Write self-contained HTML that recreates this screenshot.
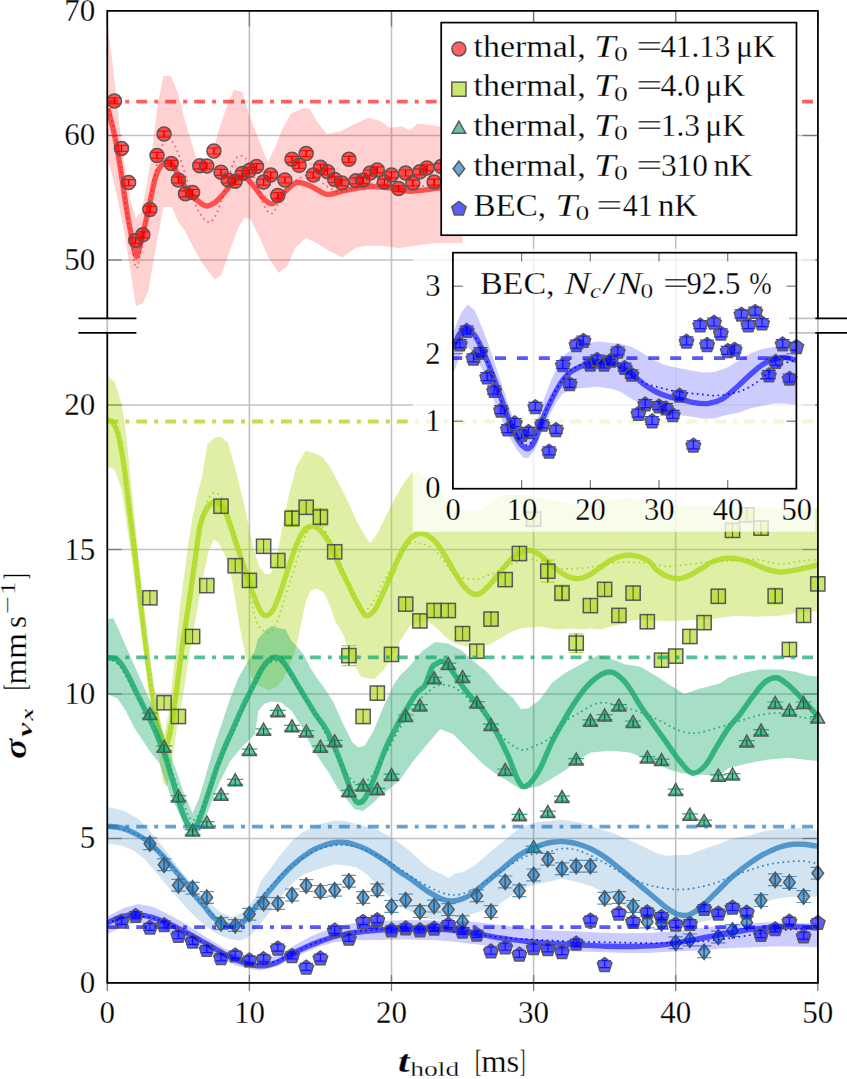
<!DOCTYPE html>
<html><head><meta charset="utf-8"><title>plot</title><style>html,body{margin:0;padding:0;background:#fff;}body{width:847px;height:1079px;position:relative;overflow:hidden;font-family:"Liberation Serif",serif;}</style></head><body>
<svg width="847" height="1079" viewBox="0 0 847 1079" style="position:absolute;left:0;top:0">
<defs><clipPath id="cu"><rect x="107.3" y="10.9" width="710.6" height="307.40000000000003"/></clipPath><clipPath id="cl"><rect x="107.3" y="332.9" width="710.6" height="650.0"/></clipPath><clipPath id="ci"><rect x="452.9" y="252.7" width="343.5" height="236"/></clipPath></defs>
<rect width="847" height="1079" fill="#fff"/>
<line x1="107.3" y1="10.9" x2="107.3" y2="982.9" stroke="#c2c2c2" stroke-width="1.6"/>
<line x1="249.4" y1="10.9" x2="249.4" y2="982.9" stroke="#c2c2c2" stroke-width="1.6"/>
<line x1="391.5" y1="10.9" x2="391.5" y2="982.9" stroke="#c2c2c2" stroke-width="1.6"/>
<line x1="533.6" y1="10.9" x2="533.6" y2="982.9" stroke="#c2c2c2" stroke-width="1.6"/>
<line x1="675.7" y1="10.9" x2="675.7" y2="982.9" stroke="#c2c2c2" stroke-width="1.6"/>
<line x1="817.8" y1="10.9" x2="817.8" y2="982.9" stroke="#c2c2c2" stroke-width="1.6"/>
<line x1="107.3" y1="135.5" x2="817.9" y2="135.5" stroke="#c2c2c2" stroke-width="1.6"/>
<line x1="107.3" y1="260" x2="817.9" y2="260" stroke="#c2c2c2" stroke-width="1.6"/>
<line x1="107.3" y1="983" x2="817.9" y2="983" stroke="#c2c2c2" stroke-width="1.6"/>
<line x1="107.3" y1="838.5" x2="817.9" y2="838.5" stroke="#c2c2c2" stroke-width="1.6"/>
<line x1="107.3" y1="694" x2="817.9" y2="694" stroke="#c2c2c2" stroke-width="1.6"/>
<line x1="107.3" y1="549.5" x2="817.9" y2="549.5" stroke="#c2c2c2" stroke-width="1.6"/>
<line x1="107.3" y1="405" x2="817.9" y2="405" stroke="#c2c2c2" stroke-width="1.6"/>
<line x1="107.3" y1="10.9" x2="107.3" y2="26.4" stroke="#7a7a7a" stroke-width="1.3"/>
<line x1="107.3" y1="974.9" x2="107.3" y2="990.9" stroke="#7a7a7a" stroke-width="1.3"/>
<line x1="249.4" y1="10.9" x2="249.4" y2="26.4" stroke="#7a7a7a" stroke-width="1.3"/>
<line x1="249.4" y1="974.9" x2="249.4" y2="990.9" stroke="#7a7a7a" stroke-width="1.3"/>
<line x1="391.5" y1="10.9" x2="391.5" y2="26.4" stroke="#7a7a7a" stroke-width="1.3"/>
<line x1="391.5" y1="974.9" x2="391.5" y2="990.9" stroke="#7a7a7a" stroke-width="1.3"/>
<line x1="533.6" y1="10.9" x2="533.6" y2="26.4" stroke="#7a7a7a" stroke-width="1.3"/>
<line x1="533.6" y1="974.9" x2="533.6" y2="990.9" stroke="#7a7a7a" stroke-width="1.3"/>
<line x1="675.7" y1="10.9" x2="675.7" y2="26.4" stroke="#7a7a7a" stroke-width="1.3"/>
<line x1="675.7" y1="974.9" x2="675.7" y2="990.9" stroke="#7a7a7a" stroke-width="1.3"/>
<line x1="817.8" y1="10.9" x2="817.8" y2="26.4" stroke="#7a7a7a" stroke-width="1.3"/>
<line x1="817.8" y1="974.9" x2="817.8" y2="990.9" stroke="#7a7a7a" stroke-width="1.3"/>
<line x1="107.3" y1="135.5" x2="121.8" y2="135.5" stroke="#7a7a7a" stroke-width="1.3"/>
<line x1="802.4" y1="135.5" x2="817.9" y2="135.5" stroke="#7a7a7a" stroke-width="1.3"/>
<line x1="107.3" y1="260" x2="121.8" y2="260" stroke="#7a7a7a" stroke-width="1.3"/>
<line x1="802.4" y1="260" x2="817.9" y2="260" stroke="#7a7a7a" stroke-width="1.3"/>
<line x1="107.3" y1="838.5" x2="121.8" y2="838.5" stroke="#7a7a7a" stroke-width="1.3"/>
<line x1="802.4" y1="838.5" x2="817.9" y2="838.5" stroke="#7a7a7a" stroke-width="1.3"/>
<line x1="107.3" y1="694" x2="121.8" y2="694" stroke="#7a7a7a" stroke-width="1.3"/>
<line x1="802.4" y1="694" x2="817.9" y2="694" stroke="#7a7a7a" stroke-width="1.3"/>
<line x1="107.3" y1="549.5" x2="121.8" y2="549.5" stroke="#7a7a7a" stroke-width="1.3"/>
<line x1="802.4" y1="549.5" x2="817.9" y2="549.5" stroke="#7a7a7a" stroke-width="1.3"/>
<line x1="107.3" y1="405" x2="121.8" y2="405" stroke="#7a7a7a" stroke-width="1.3"/>
<line x1="802.4" y1="405" x2="817.9" y2="405" stroke="#7a7a7a" stroke-width="1.3"/>
<g clip-path="url(#cu)">
<polygon points="107.8,28 112.3,61.7 116.5,97.8 120.7,136.7 126.2,175.6 131,203 136,218 141,212 146.4,187.8 152.8,145.2 158.1,102.6 163.4,76 170.9,76 178.3,94.1 184.7,119.7 191.1,141 197.5,162.3 203.9,176.1 210.3,162.3 218.8,130.3 225.2,111.1 233.7,89.8 242.3,92 248.6,113.3 259.3,141 267.8,162.3 274.2,149.5 282.7,128.2 291.3,113.3 304,107.9 310,109 316,120 326.7,134.1 339.7,131.5 355.2,123.8 368.2,118.1 381.2,121.2 389,127.7 401.9,126.4 409.7,130.2 417.5,123.8 430.5,125.1 439.5,126.4 462.5,126 462.5,243.1 435.6,243.1 414.9,245.7 399.3,248.3 383.8,245.7 365.6,245.7 355.2,248.3 342.3,257.4 329.3,250.9 316.3,243.1 305.9,237.9 295.5,247.5 287,266.6 278.5,273 267.8,256 259.3,236.8 250.8,219.8 244.4,217.6 238,228.3 229.5,251.7 221,275.2 214.6,279.4 201.8,262.4 193.3,247.5 184.7,230.4 178.3,221.9 172,207 163.4,207 157,241.1 148.5,289.9 142.9,303.3 135.9,306 130.4,270 123.4,228.3 115.1,186.7 107.8,159" fill="#ff0000" fill-opacity="0.18"/>
<line x1="107.3" y1="101.6" x2="817.9" y2="101.6" stroke="#ff0000" stroke-opacity="0.62" stroke-width="3.9" stroke-dasharray="10.9,7.04,3.97,7.04" stroke-dashoffset="0"/>
<path d="M107.8,108.2 C108.5,111.1 110.8,119.5 112.3,125.6 C113.8,131.7 115.1,137.6 116.5,145 C117.9,152.4 119.3,161.2 120.7,170 C122.1,178.8 123.2,187.6 124.8,197.8 C126.4,208 128.6,221.4 130.4,231.1 C132.2,240.8 134.3,253.7 135.9,256.1 C137.5,258.5 137.9,253.1 140,245.3 C142.1,237.5 146,220.1 148.5,209.1 C151,198.1 153.1,186.1 154.9,179.3 C156.7,172.6 157.4,171.4 159.2,168.6 C161,165.8 163.5,163 165.6,162.3 C167.7,161.6 169.5,161.6 172,164.4 C174.5,167.2 177.7,174.7 180.5,179.3 C183.3,183.9 186.2,188.6 189,192.1 C191.8,195.6 194.7,198.3 197.5,200.6 C200.3,202.9 203.2,205.6 206,205.9 C208.8,206.2 211.8,204.6 214.6,202.7 C217.4,200.8 220.3,197.4 223.1,194.2 C225.9,191 228.8,186.4 231.6,183.6 C234.4,180.8 237.6,178.1 240.1,177.2 C242.6,176.3 244,176.4 246.5,178.2 C249,180 252.2,184.4 255,187.8 C257.9,191.2 260.8,195.8 263.6,198.5 C266.5,201.2 269.3,204.2 272.1,203.8 C274.9,203.4 277.8,199 280.6,196.3 C283.4,193.6 286.3,190.1 289.1,187.8 C291.9,185.5 294.1,182.8 297.6,182.5 C301.1,182.2 305.1,183.7 310,185.7 C314.9,187.7 321.3,193.4 326.7,194.3 C332.1,195.2 337.1,192.2 342.3,191.2 C347.5,190.2 352.6,188.9 357.8,188.1 C363,187.3 367.8,186.5 373.4,186.5 C379,186.5 385.4,187.3 391.5,188.1 C397.6,188.9 404.1,190.9 409.7,191.2 C415.3,191.5 420.3,190.4 425.3,189.9 C430.3,189.4 433.3,188.4 439.5,188.1 C445.7,187.8 458.7,188 462.5,188" fill="none" stroke="#ff0000" stroke-opacity="0.62" stroke-width="5.4" stroke-linejoin="round"/>
<path d="M107.8,105 C109.2,110.8 113.1,124.2 116,140 C118.9,155.8 122.5,183.3 125,200 C127.5,216.7 129.1,228.7 131,240 C132.9,251.3 134.6,266.3 136.3,268 C138,269.7 138.7,261.3 141,250 C143.3,238.7 147.2,215 150,200 C152.8,185 155.5,170 158,160 C160.5,150 162.7,143.2 165,140 C167.3,136.8 169.8,138.7 172,141 C174.2,143.3 175.8,147.2 178.3,153.7 C180.8,160.2 184.2,171.5 187,180 C189.8,188.5 192.6,198.5 195.4,204.9 C198.2,211.3 201.4,215.9 203.9,218.7 C206.4,221.5 208.2,222.8 210.3,221.9 C212.4,221 214.2,218.7 216.7,213.4 C219.1,208.1 222.2,198.5 225,190 C227.8,181.5 231.2,168 233.7,162.3 C236.2,156.6 237.9,156.3 240.1,155.9 C242.3,155.5 244.5,156 247,160 C249.5,164 252.2,172.5 255,180 C257.8,187.5 260.8,199.3 263.6,204.9 C266.5,210.5 269.4,214.2 272.1,213.4 C274.8,212.6 277,204.7 280,200 C283,195.3 286.4,188.8 290,185 C293.6,181.2 298.2,178.9 301.9,177.2 C305.6,175.5 308.1,173.7 312,175 C315.9,176.3 320.3,182.2 325,185 C329.7,187.8 334.2,191.8 340,192 C345.8,192.2 353.3,187.5 360,186 C366.7,184.5 373.3,182.8 380,183 C386.7,183.2 393.3,186.5 400,187 C406.7,187.5 413.3,186.3 420,186 C426.7,185.7 432.9,185.2 440,185 C447.1,184.8 458.8,185 462.5,185" fill="none" stroke="#ff0000" stroke-opacity="0.55" stroke-width="1.7" stroke-dasharray="1.7,3.5"/>
</g>
<path d="M114.4,97.9 V103.9 M107.5,97.9 H121.3 M107.5,103.9 H121.3" stroke="#f00" stroke-opacity="0.9" stroke-width="1.2" fill="none"/>
<circle cx="114.4" cy="100.9" r="7.0" fill="#ff0000" fill-opacity="0.62" stroke="#585858" stroke-width="1.5"/>
<line x1="114.4" y1="97.9" x2="114.4" y2="103.9" stroke="#b00000" stroke-opacity="0.7" stroke-width="1.1"/>
<path d="M121.5,145.4 V151.4 M114.6,145.4 H128.4 M114.6,151.4 H128.4" stroke="#f00" stroke-opacity="0.9" stroke-width="1.2" fill="none"/>
<circle cx="121.5" cy="148.4" r="7.0" fill="#ff0000" fill-opacity="0.62" stroke="#585858" stroke-width="1.5"/>
<line x1="121.5" y1="145.4" x2="121.5" y2="151.4" stroke="#b00000" stroke-opacity="0.7" stroke-width="1.1"/>
<path d="M128.6,179.6 V185.6 M121.7,179.6 H135.5 M121.7,185.6 H135.5" stroke="#f00" stroke-opacity="0.9" stroke-width="1.2" fill="none"/>
<circle cx="128.6" cy="182.6" r="7.0" fill="#ff0000" fill-opacity="0.62" stroke="#585858" stroke-width="1.5"/>
<line x1="128.6" y1="179.6" x2="128.6" y2="185.6" stroke="#b00000" stroke-opacity="0.7" stroke-width="1.1"/>
<path d="M135.7,237.5 V243.5 M128.8,237.5 H142.6 M128.8,243.5 H142.6" stroke="#f00" stroke-opacity="0.9" stroke-width="1.2" fill="none"/>
<circle cx="135.7" cy="240.5" r="7.0" fill="#ff0000" fill-opacity="0.62" stroke="#585858" stroke-width="1.5"/>
<line x1="135.7" y1="237.5" x2="135.7" y2="243.5" stroke="#b00000" stroke-opacity="0.7" stroke-width="1.1"/>
<path d="M142.8,231.8 V237.8 M135.9,231.8 H149.7 M135.9,237.8 H149.7" stroke="#f00" stroke-opacity="0.9" stroke-width="1.2" fill="none"/>
<circle cx="142.8" cy="234.8" r="7.0" fill="#ff0000" fill-opacity="0.62" stroke="#585858" stroke-width="1.5"/>
<line x1="142.8" y1="231.8" x2="142.8" y2="237.8" stroke="#b00000" stroke-opacity="0.7" stroke-width="1.1"/>
<path d="M149.9,206.4 V212.4 M143,206.4 H156.8 M143,212.4 H156.8" stroke="#f00" stroke-opacity="0.9" stroke-width="1.2" fill="none"/>
<circle cx="149.9" cy="209.4" r="7.0" fill="#ff0000" fill-opacity="0.62" stroke="#585858" stroke-width="1.5"/>
<line x1="149.9" y1="206.4" x2="149.9" y2="212.4" stroke="#b00000" stroke-opacity="0.7" stroke-width="1.1"/>
<path d="M157,152.4 V158.4 M150.1,152.4 H163.9 M150.1,158.4 H163.9" stroke="#f00" stroke-opacity="0.9" stroke-width="1.2" fill="none"/>
<circle cx="157" cy="155.4" r="7.0" fill="#ff0000" fill-opacity="0.62" stroke="#585858" stroke-width="1.5"/>
<line x1="157" y1="152.4" x2="157" y2="158.4" stroke="#b00000" stroke-opacity="0.7" stroke-width="1.1"/>
<path d="M164.1,131.1 V137.1 M157.2,131.1 H171 M157.2,137.1 H171" stroke="#f00" stroke-opacity="0.9" stroke-width="1.2" fill="none"/>
<circle cx="164.1" cy="134.1" r="7.0" fill="#ff0000" fill-opacity="0.62" stroke="#585858" stroke-width="1.5"/>
<line x1="164.1" y1="131.1" x2="164.1" y2="137.1" stroke="#b00000" stroke-opacity="0.7" stroke-width="1.1"/>
<path d="M171.2,160.4 V166.4 M164.3,160.4 H178.1 M164.3,166.4 H178.1" stroke="#f00" stroke-opacity="0.9" stroke-width="1.2" fill="none"/>
<circle cx="171.2" cy="163.4" r="7.0" fill="#ff0000" fill-opacity="0.62" stroke="#585858" stroke-width="1.5"/>
<line x1="171.2" y1="160.4" x2="171.2" y2="166.4" stroke="#b00000" stroke-opacity="0.7" stroke-width="1.1"/>
<path d="M178.4,177.1 V183.1 M171.5,177.1 H185.3 M171.5,183.1 H185.3" stroke="#f00" stroke-opacity="0.9" stroke-width="1.2" fill="none"/>
<circle cx="178.4" cy="180.1" r="7.0" fill="#ff0000" fill-opacity="0.62" stroke="#585858" stroke-width="1.5"/>
<line x1="178.4" y1="177.1" x2="178.4" y2="183.1" stroke="#b00000" stroke-opacity="0.7" stroke-width="1.1"/>
<path d="M185.5,190.8 V196.8 M178.6,190.8 H192.4 M178.6,196.8 H192.4" stroke="#f00" stroke-opacity="0.9" stroke-width="1.2" fill="none"/>
<circle cx="185.5" cy="193.8" r="7.0" fill="#ff0000" fill-opacity="0.62" stroke="#585858" stroke-width="1.5"/>
<line x1="185.5" y1="190.8" x2="185.5" y2="196.8" stroke="#b00000" stroke-opacity="0.7" stroke-width="1.1"/>
<path d="M192.6,189.5 V195.5 M185.7,189.5 H199.5 M185.7,195.5 H199.5" stroke="#f00" stroke-opacity="0.9" stroke-width="1.2" fill="none"/>
<circle cx="192.6" cy="192.5" r="7.0" fill="#ff0000" fill-opacity="0.62" stroke="#585858" stroke-width="1.5"/>
<line x1="192.6" y1="189.5" x2="192.6" y2="195.5" stroke="#b00000" stroke-opacity="0.7" stroke-width="1.1"/>
<path d="M199.7,162.8 V168.8 M192.8,162.8 H206.6 M192.8,168.8 H206.6" stroke="#f00" stroke-opacity="0.9" stroke-width="1.2" fill="none"/>
<circle cx="199.7" cy="165.8" r="7.0" fill="#ff0000" fill-opacity="0.62" stroke="#585858" stroke-width="1.5"/>
<line x1="199.7" y1="162.8" x2="199.7" y2="168.8" stroke="#b00000" stroke-opacity="0.7" stroke-width="1.1"/>
<path d="M206.8,163 V169 M199.9,163 H213.7 M199.9,169 H213.7" stroke="#f00" stroke-opacity="0.9" stroke-width="1.2" fill="none"/>
<circle cx="206.8" cy="166" r="7.0" fill="#ff0000" fill-opacity="0.62" stroke="#585858" stroke-width="1.5"/>
<line x1="206.8" y1="163" x2="206.8" y2="169" stroke="#b00000" stroke-opacity="0.7" stroke-width="1.1"/>
<path d="M213.9,148 V154 M207,148 H220.8 M207,154 H220.8" stroke="#f00" stroke-opacity="0.9" stroke-width="1.2" fill="none"/>
<circle cx="213.9" cy="151" r="7.0" fill="#ff0000" fill-opacity="0.62" stroke="#585858" stroke-width="1.5"/>
<line x1="213.9" y1="148" x2="213.9" y2="154" stroke="#b00000" stroke-opacity="0.7" stroke-width="1.1"/>
<path d="M221,169.3 V175.3 M214.1,169.3 H227.9 M214.1,175.3 H227.9" stroke="#f00" stroke-opacity="0.9" stroke-width="1.2" fill="none"/>
<circle cx="221" cy="172.3" r="7.0" fill="#ff0000" fill-opacity="0.62" stroke="#585858" stroke-width="1.5"/>
<line x1="221" y1="169.3" x2="221" y2="175.3" stroke="#b00000" stroke-opacity="0.7" stroke-width="1.1"/>
<path d="M228.1,177 V183 M221.2,177 H235 M221.2,183 H235" stroke="#f00" stroke-opacity="0.9" stroke-width="1.2" fill="none"/>
<circle cx="228.1" cy="180" r="7.0" fill="#ff0000" fill-opacity="0.62" stroke="#585858" stroke-width="1.5"/>
<line x1="228.1" y1="177" x2="228.1" y2="183" stroke="#b00000" stroke-opacity="0.7" stroke-width="1.1"/>
<path d="M235.2,178.3 V184.3 M228.3,178.3 H242.1 M228.3,184.3 H242.1" stroke="#f00" stroke-opacity="0.9" stroke-width="1.2" fill="none"/>
<circle cx="235.2" cy="181.3" r="7.0" fill="#ff0000" fill-opacity="0.62" stroke="#585858" stroke-width="1.5"/>
<line x1="235.2" y1="178.3" x2="235.2" y2="184.3" stroke="#b00000" stroke-opacity="0.7" stroke-width="1.1"/>
<path d="M242.3,170.6 V176.6 M235.4,170.6 H249.2 M235.4,176.6 H249.2" stroke="#f00" stroke-opacity="0.9" stroke-width="1.2" fill="none"/>
<circle cx="242.3" cy="173.6" r="7.0" fill="#ff0000" fill-opacity="0.62" stroke="#585858" stroke-width="1.5"/>
<line x1="242.3" y1="170.6" x2="242.3" y2="176.6" stroke="#b00000" stroke-opacity="0.7" stroke-width="1.1"/>
<path d="M249.4,167.5 V173.5 M242.5,167.5 H256.3 M242.5,173.5 H256.3" stroke="#f00" stroke-opacity="0.9" stroke-width="1.2" fill="none"/>
<circle cx="249.4" cy="170.5" r="7.0" fill="#ff0000" fill-opacity="0.62" stroke="#585858" stroke-width="1.5"/>
<line x1="249.4" y1="167.5" x2="249.4" y2="173.5" stroke="#b00000" stroke-opacity="0.7" stroke-width="1.1"/>
<path d="M256.5,163.6 V169.6 M249.6,163.6 H263.4 M249.6,169.6 H263.4" stroke="#f00" stroke-opacity="0.9" stroke-width="1.2" fill="none"/>
<circle cx="256.5" cy="166.6" r="7.0" fill="#ff0000" fill-opacity="0.62" stroke="#585858" stroke-width="1.5"/>
<line x1="256.5" y1="163.6" x2="256.5" y2="169.6" stroke="#b00000" stroke-opacity="0.7" stroke-width="1.1"/>
<path d="M263.6,179.1 V185.1 M256.7,179.1 H270.5 M256.7,185.1 H270.5" stroke="#f00" stroke-opacity="0.9" stroke-width="1.2" fill="none"/>
<circle cx="263.6" cy="182.1" r="7.0" fill="#ff0000" fill-opacity="0.62" stroke="#585858" stroke-width="1.5"/>
<line x1="263.6" y1="179.1" x2="263.6" y2="185.1" stroke="#b00000" stroke-opacity="0.7" stroke-width="1.1"/>
<path d="M270.7,172.1 V178.1 M263.8,172.1 H277.6 M263.8,178.1 H277.6" stroke="#f00" stroke-opacity="0.9" stroke-width="1.2" fill="none"/>
<circle cx="270.7" cy="175.1" r="7.0" fill="#ff0000" fill-opacity="0.62" stroke="#585858" stroke-width="1.5"/>
<line x1="270.7" y1="172.1" x2="270.7" y2="178.1" stroke="#b00000" stroke-opacity="0.7" stroke-width="1.1"/>
<path d="M277.8,192.6 V198.6 M270.9,192.6 H284.7 M270.9,198.6 H284.7" stroke="#f00" stroke-opacity="0.9" stroke-width="1.2" fill="none"/>
<circle cx="277.8" cy="195.6" r="7.0" fill="#ff0000" fill-opacity="0.62" stroke="#585858" stroke-width="1.5"/>
<line x1="277.8" y1="192.6" x2="277.8" y2="198.6" stroke="#b00000" stroke-opacity="0.7" stroke-width="1.1"/>
<path d="M284.9,177 V183 M278,177 H291.8 M278,183 H291.8" stroke="#f00" stroke-opacity="0.9" stroke-width="1.2" fill="none"/>
<circle cx="284.9" cy="180" r="7.0" fill="#ff0000" fill-opacity="0.62" stroke="#585858" stroke-width="1.5"/>
<line x1="284.9" y1="177" x2="284.9" y2="183" stroke="#b00000" stroke-opacity="0.7" stroke-width="1.1"/>
<path d="M292,156.3 V162.3 M285.1,156.3 H298.9 M285.1,162.3 H298.9" stroke="#f00" stroke-opacity="0.9" stroke-width="1.2" fill="none"/>
<circle cx="292" cy="159.3" r="7.0" fill="#ff0000" fill-opacity="0.62" stroke="#585858" stroke-width="1.5"/>
<line x1="292" y1="156.3" x2="292" y2="162.3" stroke="#b00000" stroke-opacity="0.7" stroke-width="1.1"/>
<path d="M299.1,162.3 V168.3 M292.2,162.3 H306 M292.2,168.3 H306" stroke="#f00" stroke-opacity="0.9" stroke-width="1.2" fill="none"/>
<circle cx="299.1" cy="165.3" r="7.0" fill="#ff0000" fill-opacity="0.62" stroke="#585858" stroke-width="1.5"/>
<line x1="299.1" y1="162.3" x2="299.1" y2="168.3" stroke="#b00000" stroke-opacity="0.7" stroke-width="1.1"/>
<path d="M306.2,150.6 V156.6 M299.3,150.6 H313.1 M299.3,156.6 H313.1" stroke="#f00" stroke-opacity="0.9" stroke-width="1.2" fill="none"/>
<circle cx="306.2" cy="153.6" r="7.0" fill="#ff0000" fill-opacity="0.62" stroke="#585858" stroke-width="1.5"/>
<line x1="306.2" y1="150.6" x2="306.2" y2="156.6" stroke="#b00000" stroke-opacity="0.7" stroke-width="1.1"/>
<path d="M313.3,172.1 V178.1 M306.4,172.1 H320.2 M306.4,178.1 H320.2" stroke="#f00" stroke-opacity="0.9" stroke-width="1.2" fill="none"/>
<circle cx="313.3" cy="175.1" r="7.0" fill="#ff0000" fill-opacity="0.62" stroke="#585858" stroke-width="1.5"/>
<line x1="313.3" y1="172.1" x2="313.3" y2="178.1" stroke="#b00000" stroke-opacity="0.7" stroke-width="1.1"/>
<path d="M320.4,164.3 V170.3 M313.6,164.3 H327.3 M313.6,170.3 H327.3" stroke="#f00" stroke-opacity="0.9" stroke-width="1.2" fill="none"/>
<circle cx="320.4" cy="167.3" r="7.0" fill="#ff0000" fill-opacity="0.62" stroke="#585858" stroke-width="1.5"/>
<line x1="320.4" y1="164.3" x2="320.4" y2="170.3" stroke="#b00000" stroke-opacity="0.7" stroke-width="1.1"/>
<path d="M327.6,168.8 V174.8 M320.7,168.8 H334.5 M320.7,174.8 H334.5" stroke="#f00" stroke-opacity="0.9" stroke-width="1.2" fill="none"/>
<circle cx="327.6" cy="171.8" r="7.0" fill="#ff0000" fill-opacity="0.62" stroke="#585858" stroke-width="1.5"/>
<line x1="327.6" y1="168.8" x2="327.6" y2="174.8" stroke="#b00000" stroke-opacity="0.7" stroke-width="1.1"/>
<path d="M334.7,176.5 V182.5 M327.8,176.5 H341.6 M327.8,182.5 H341.6" stroke="#f00" stroke-opacity="0.9" stroke-width="1.2" fill="none"/>
<circle cx="334.7" cy="179.5" r="7.0" fill="#ff0000" fill-opacity="0.62" stroke="#585858" stroke-width="1.5"/>
<line x1="334.7" y1="176.5" x2="334.7" y2="182.5" stroke="#b00000" stroke-opacity="0.7" stroke-width="1.1"/>
<path d="M341.8,179.9 V185.9 M334.9,179.9 H348.7 M334.9,185.9 H348.7" stroke="#f00" stroke-opacity="0.9" stroke-width="1.2" fill="none"/>
<circle cx="341.8" cy="182.9" r="7.0" fill="#ff0000" fill-opacity="0.62" stroke="#585858" stroke-width="1.5"/>
<line x1="341.8" y1="179.9" x2="341.8" y2="185.9" stroke="#b00000" stroke-opacity="0.7" stroke-width="1.1"/>
<path d="M348.9,156.3 V162.3 M342,156.3 H355.8 M342,162.3 H355.8" stroke="#f00" stroke-opacity="0.9" stroke-width="1.2" fill="none"/>
<circle cx="348.9" cy="159.3" r="7.0" fill="#ff0000" fill-opacity="0.62" stroke="#585858" stroke-width="1.5"/>
<line x1="348.9" y1="156.3" x2="348.9" y2="162.3" stroke="#b00000" stroke-opacity="0.7" stroke-width="1.1"/>
<path d="M356,177.8 V183.8 M349.1,177.8 H362.9 M349.1,183.8 H362.9" stroke="#f00" stroke-opacity="0.9" stroke-width="1.2" fill="none"/>
<circle cx="356" cy="180.8" r="7.0" fill="#ff0000" fill-opacity="0.62" stroke="#585858" stroke-width="1.5"/>
<line x1="356" y1="177.8" x2="356" y2="183.8" stroke="#b00000" stroke-opacity="0.7" stroke-width="1.1"/>
<path d="M363.1,177.3 V183.3 M356.2,177.3 H370 M356.2,183.3 H370" stroke="#f00" stroke-opacity="0.9" stroke-width="1.2" fill="none"/>
<circle cx="363.1" cy="180.3" r="7.0" fill="#ff0000" fill-opacity="0.62" stroke="#585858" stroke-width="1.5"/>
<line x1="363.1" y1="177.3" x2="363.1" y2="183.3" stroke="#b00000" stroke-opacity="0.7" stroke-width="1.1"/>
<path d="M370.2,170 V176 M363.3,170 H377.1 M363.3,176 H377.1" stroke="#f00" stroke-opacity="0.9" stroke-width="1.2" fill="none"/>
<circle cx="370.2" cy="173" r="7.0" fill="#ff0000" fill-opacity="0.62" stroke="#585858" stroke-width="1.5"/>
<line x1="370.2" y1="170" x2="370.2" y2="176" stroke="#b00000" stroke-opacity="0.7" stroke-width="1.1"/>
<path d="M377.3,166.9 V172.9 M370.4,166.9 H384.2 M370.4,172.9 H384.2" stroke="#f00" stroke-opacity="0.9" stroke-width="1.2" fill="none"/>
<circle cx="377.3" cy="169.9" r="7.0" fill="#ff0000" fill-opacity="0.62" stroke="#585858" stroke-width="1.5"/>
<line x1="377.3" y1="166.9" x2="377.3" y2="172.9" stroke="#b00000" stroke-opacity="0.7" stroke-width="1.1"/>
<path d="M384.4,179.1 V185.1 M377.5,179.1 H391.3 M377.5,185.1 H391.3" stroke="#f00" stroke-opacity="0.9" stroke-width="1.2" fill="none"/>
<circle cx="384.4" cy="182.1" r="7.0" fill="#ff0000" fill-opacity="0.62" stroke="#585858" stroke-width="1.5"/>
<line x1="384.4" y1="179.1" x2="384.4" y2="185.1" stroke="#b00000" stroke-opacity="0.7" stroke-width="1.1"/>
<path d="M391.5,171.9 V177.9 M384.6,171.9 H398.4 M384.6,177.9 H398.4" stroke="#f00" stroke-opacity="0.9" stroke-width="1.2" fill="none"/>
<circle cx="391.5" cy="174.9" r="7.0" fill="#ff0000" fill-opacity="0.62" stroke="#585858" stroke-width="1.5"/>
<line x1="391.5" y1="171.9" x2="391.5" y2="177.9" stroke="#b00000" stroke-opacity="0.7" stroke-width="1.1"/>
<path d="M398.6,185.6 V191.6 M391.7,185.6 H405.5 M391.7,191.6 H405.5" stroke="#f00" stroke-opacity="0.9" stroke-width="1.2" fill="none"/>
<circle cx="398.6" cy="188.6" r="7.0" fill="#ff0000" fill-opacity="0.62" stroke="#585858" stroke-width="1.5"/>
<line x1="398.6" y1="185.6" x2="398.6" y2="191.6" stroke="#b00000" stroke-opacity="0.7" stroke-width="1.1"/>
<path d="M405.7,170 V176 M398.8,170 H412.6 M398.8,176 H412.6" stroke="#f00" stroke-opacity="0.9" stroke-width="1.2" fill="none"/>
<circle cx="405.7" cy="173" r="7.0" fill="#ff0000" fill-opacity="0.62" stroke="#585858" stroke-width="1.5"/>
<line x1="405.7" y1="170" x2="405.7" y2="176" stroke="#b00000" stroke-opacity="0.7" stroke-width="1.1"/>
<path d="M412.8,179.9 V185.9 M405.9,179.9 H419.7 M405.9,185.9 H419.7" stroke="#f00" stroke-opacity="0.9" stroke-width="1.2" fill="none"/>
<circle cx="412.8" cy="182.9" r="7.0" fill="#ff0000" fill-opacity="0.62" stroke="#585858" stroke-width="1.5"/>
<line x1="412.8" y1="179.9" x2="412.8" y2="185.9" stroke="#b00000" stroke-opacity="0.7" stroke-width="1.1"/>
<path d="M419.9,168.8 V174.8 M413,168.8 H426.8 M413,174.8 H426.8" stroke="#f00" stroke-opacity="0.9" stroke-width="1.2" fill="none"/>
<circle cx="419.9" cy="171.8" r="7.0" fill="#ff0000" fill-opacity="0.62" stroke="#585858" stroke-width="1.5"/>
<line x1="419.9" y1="168.8" x2="419.9" y2="174.8" stroke="#b00000" stroke-opacity="0.7" stroke-width="1.1"/>
<path d="M427,164.9 V170.9 M420.1,164.9 H433.9 M420.1,170.9 H433.9" stroke="#f00" stroke-opacity="0.9" stroke-width="1.2" fill="none"/>
<circle cx="427" cy="167.9" r="7.0" fill="#ff0000" fill-opacity="0.62" stroke="#585858" stroke-width="1.5"/>
<line x1="427" y1="164.9" x2="427" y2="170.9" stroke="#b00000" stroke-opacity="0.7" stroke-width="1.1"/>
<path d="M434.1,179.1 V185.1 M427.2,179.1 H441 M427.2,185.1 H441" stroke="#f00" stroke-opacity="0.9" stroke-width="1.2" fill="none"/>
<circle cx="434.1" cy="182.1" r="7.0" fill="#ff0000" fill-opacity="0.62" stroke="#585858" stroke-width="1.5"/>
<line x1="434.1" y1="179.1" x2="434.1" y2="185.1" stroke="#b00000" stroke-opacity="0.7" stroke-width="1.1"/>
<path d="M441.2,163.6 V169.6 M434.3,163.6 H448.1 M434.3,169.6 H448.1" stroke="#f00" stroke-opacity="0.9" stroke-width="1.2" fill="none"/>
<circle cx="441.2" cy="166.6" r="7.0" fill="#ff0000" fill-opacity="0.62" stroke="#585858" stroke-width="1.5"/>
<line x1="441.2" y1="163.6" x2="441.2" y2="169.6" stroke="#b00000" stroke-opacity="0.7" stroke-width="1.1"/>
<path d="M448.3,172 V178 M441.4,172 H455.2 M441.4,178 H455.2" stroke="#f00" stroke-opacity="0.9" stroke-width="1.2" fill="none"/>
<circle cx="448.3" cy="175" r="7.0" fill="#ff0000" fill-opacity="0.62" stroke="#585858" stroke-width="1.5"/>
<line x1="448.3" y1="172" x2="448.3" y2="178" stroke="#b00000" stroke-opacity="0.7" stroke-width="1.1"/>
<path d="M455.4,175 V181 M448.5,175 H462.3 M448.5,181 H462.3" stroke="#f00" stroke-opacity="0.9" stroke-width="1.2" fill="none"/>
<circle cx="455.4" cy="178" r="7.0" fill="#ff0000" fill-opacity="0.62" stroke="#585858" stroke-width="1.5"/>
<line x1="455.4" y1="175" x2="455.4" y2="181" stroke="#b00000" stroke-opacity="0.7" stroke-width="1.1"/>
<path d="M462.6,169 V175 M455.7,169 H469.4 M455.7,175 H469.4" stroke="#f00" stroke-opacity="0.9" stroke-width="1.2" fill="none"/>
<circle cx="462.6" cy="172" r="7.0" fill="#ff0000" fill-opacity="0.62" stroke="#585858" stroke-width="1.5"/>
<line x1="462.6" y1="169" x2="462.6" y2="175" stroke="#b00000" stroke-opacity="0.7" stroke-width="1.1"/>
<g clip-path="url(#cl)">
<polygon points="107.8,376.7 114.2,381.3 117.9,391.5 121.6,404.4 124.4,421.1 127.1,443.3 129.9,471.1 132.7,498.9 135.5,526.7 138.3,559.8 143,610 149.4,672 155,710 160,728 164.5,734 168,716 171.5,688 175.5,650 181,598 188,546 193,515 197.4,494.8 202,477 207.4,444.1 214.8,437.6 220.4,436.7 227.8,442.3 235.2,468.2 242.6,497.9 248.2,523.8 253.8,549.8 259.3,566.5 264.9,573.9 270.5,573.9 276,560.9 281.6,531.3 289,494.2 296.4,466.4 305.7,450.6 315,453.4 322.4,457.1 329.8,466.4 338.9,483.4 347.8,501.2 356.7,521.2 365.6,536.8 370.1,543.5 376.7,534.6 385.6,516.8 394.5,499 403.4,483.4 412.3,472.3 419,472.3 427.9,478.9 436.8,487.8 445.7,499 454.6,507.9 463.5,511.2 472.4,510.1 480,510.1 500.1,496.1 510.1,494.1 530.2,496.1 550.3,500.1 570.3,504.1 590.4,504.1 610.5,500.1 630.5,498.1 650,502.1 670,505.5 689.9,505.8 734.7,506.9 779.6,508 817.8,508 817.8,611.2 802,612.3 779.6,615.7 757.2,616.8 734.7,615.7 712.3,619.1 689.9,620.2 667.4,621.3 650,620.5 640.6,619.5 630.5,620.5 620.5,624.5 610.5,626.5 600.4,629.5 590.4,628.5 580.4,629.5 570.3,628.5 560.3,629.5 550.3,628.5 540.2,626.5 530.2,627.5 520.1,628.5 510.1,632.5 500.1,638.6 490,644.6 480,645.5 472.4,647 463.5,645.9 454.6,643.6 445.7,637 436.8,628.1 427.9,621.4 419,621.4 410.1,625.8 401.2,639.2 392.3,657 383.4,670.3 374.5,679.2 361.2,677 352.3,661.4 343.4,634.7 335.7,622.6 330.1,605.9 324.6,593.4 317.6,588.5 310.7,590.6 305.8,601.7 302.3,618.4 298.2,637.9 294,654.6 288.4,668.5 282.9,679.6 277.3,686.6 268.9,690 257.8,685.2 250.9,675.4 245.3,654.6 241.1,633.7 237.1,612 233.4,586.9 229.7,568.3 224.1,553.5 218.5,542.4 213.9,539.6 209,550 204.8,568.9 199.4,598 190,650 182,702 178.6,717 174,748 170,777 167,786 163.5,784 158,750 150,700 140,625 131.8,559.8 129.9,545.2 127.1,526.7 124.4,508.1 121.6,489.6 117.9,478.5 114.2,469.3 107.8,466.5" fill="#aad714" fill-opacity="0.38"/>
<line x1="107.3" y1="421.5" x2="817.9" y2="421.5" stroke="#aad714" stroke-opacity="0.75" stroke-width="3.9" stroke-dasharray="10.9,7.04,3.97,7.04" stroke-dashoffset="0"/>
<path d="M107.8,420.3 C108.4,420.5 110.4,420.7 111.5,421.5 C112.6,422.3 113.4,423.4 114.4,425.1 C115.4,426.8 116.2,428.2 117.3,431.7 C118.3,435.2 119.5,439.8 120.7,446 C121.9,452.2 123.2,460.2 124.4,469 C125.6,477.8 126.9,489 128.1,499 C129.3,509 130.6,519.2 131.8,529 C133,538.8 134.1,546.7 135.5,558 C136.9,569.3 138.4,583.7 140,597 C141.6,610.3 143.2,623.9 145,638 C146.8,652.1 148.5,668.1 150.5,681.5 C152.5,694.9 155.2,709.4 156.9,718.5 C158.7,727.6 159.8,731.8 161,736 C162.2,740.2 163.2,742.7 164.3,743.5 C165.4,744.3 166.7,743.8 167.8,741 C168.9,738.2 169.8,733.5 171,727 C172.2,720.5 173.2,714.8 175,702 C176.8,689.2 179.4,667.3 181.8,650 C184.2,632.7 187.6,612.2 189.7,598 C191.8,583.8 192.6,577.3 194.4,565 C196.2,552.7 198.2,534 200.4,524.4 C202.6,514.8 205.2,511.2 207.6,507.5 C210,503.8 212.4,502.2 214.8,502 C217.2,501.8 219.8,502.4 222.3,506 C224.8,509.6 227.2,517.1 229.7,523.8 C232.2,530.5 234.6,538.7 237.1,546.1 C239.6,553.5 242,560.9 244.5,568.3 C247,575.7 249.4,583.8 251.9,590.6 C254.4,597.4 257.1,604.9 259.3,609.1 C261.5,613.3 262.7,615.3 264.9,615.6 C267.1,615.9 269.8,614.5 272.3,611 C274.8,607.5 277.2,600.8 279.7,594.3 C282.2,587.8 284.6,579.4 287.1,572 C289.6,564.6 292.1,556.3 294.6,549.8 C297.1,543.3 299.5,537 302,533.1 C304.5,529.2 306.9,527.5 309.4,526.6 C311.9,525.7 314.3,526.1 316.8,527.5 C319.3,528.9 321.7,531.8 324.2,535 C326.7,538.2 329.2,542 331.7,547 C334.1,552 336.2,559.1 338.9,565.2 C341.6,571.3 344.8,577.5 347.8,583.5 C350.8,589.5 353.7,596 356.7,601.3 C359.7,606.6 362.6,613.8 365.6,615.3 C368.6,616.8 371.5,614 374.5,610.2 C377.5,606.4 380.4,598.7 383.4,592.4 C386.4,586.1 389.3,579.1 392.3,572.4 C395.3,565.7 398.2,558 401.2,552.4 C404.2,546.8 407.1,542.1 410.1,539 C413.1,535.9 416,534 419,533.5 C422,533 424.9,534 427.9,535.7 C430.9,537.4 433.8,540 436.8,543.5 C439.8,547 442.7,552 445.7,556.8 C448.7,561.6 451.6,567.6 454.6,572.4 C457.6,577.2 460.5,582.3 463.5,585.8 C466.5,589.3 469.6,592.2 472.4,593.5 C475.1,594.8 477.1,595 480,593.5 C482.9,592 486.6,587.9 490,584.4 C493.4,580.9 496.8,576.3 500.1,572.3 C503.5,568.3 506.8,563.6 510.1,560.3 C513.4,557 516.8,554 520.1,552.3 C523.5,550.6 526.9,549.8 530.2,550.3 C533.6,550.8 536.9,553 540.2,555.3 C543.6,557.6 546.9,561.5 550.3,564.3 C553.6,567.1 557,570.1 560.3,572.3 C563.6,574.5 566.9,576.4 570.3,577.4 C573.6,578.4 577,578.9 580.4,578.4 C583.8,577.9 587.1,576.1 590.4,574.3 C593.7,572.4 597,569.6 600.4,567.3 C603.8,565 607.1,562.1 610.5,560.3 C613.9,558.5 617.2,557.1 620.5,556.3 C623.8,555.5 627.1,555.1 630.5,555.3 C633.9,555.5 637.4,556.2 640.6,557.3 C643.9,558.4 647.4,559.9 650,562 C652.6,564.1 653.3,567.3 656.2,569.7 C659.1,572.1 663.7,575 667.4,576.5 C671.1,578 674.9,578.9 678.6,578.7 C682.4,578.5 686.1,577 689.9,575.3 C693.6,573.6 697.4,570.8 701.1,568.6 C704.8,566.4 708.6,563.6 712.3,561.9 C716,560.2 719.8,559.1 723.5,558.5 C727.2,557.9 731,558.1 734.7,558.5 C738.4,558.9 742.1,559.7 745.9,560.8 C749.6,561.9 753.5,563.7 757.2,565.2 C761,566.7 764.7,568.6 768.4,569.7 C772.1,570.8 775.9,571.8 779.6,572 C783.3,572.2 787.1,571.4 790.8,570.8 C794.5,570.2 797.5,569.6 802,568.6 C806.5,567.6 815.2,565.6 817.8,565" fill="none" stroke="#aad714" stroke-opacity="0.75" stroke-width="5.4" stroke-linejoin="round"/>
<path d="M107.8,420.3 C108.9,421.1 112.2,420.8 114.4,425.1 C116.6,429.4 118.4,433.7 120.7,446 C123,458.3 125.6,480.3 128.1,499 C130.6,517.7 132.7,534.8 135.5,558 C138.3,581.2 142.2,616 145,638 C147.8,660 149.8,675.2 152,690 C154.2,704.8 156,717.3 158,727 C160,736.7 162,746.2 164,748 C166,749.8 168,746.3 170,738 C172,729.7 173.8,713.5 176,698 C178.2,682.5 180.7,663 183,645 C185.3,627 187.8,606.2 190,590 C192.2,573.8 194,560 196,548 C198,536 200,526 202,518 C204,510 206,504.2 208,500 C210,495.8 211.7,493.3 214,493 C216.3,492.7 219.3,493.8 222,498 C224.7,502.2 227.3,510.2 230,518 C232.7,525.8 235.3,535.7 238,545 C240.7,554.3 243.8,564.8 246,574 C248.2,583.2 249.3,592.1 251,600 C252.7,607.9 254.6,616.3 256.4,621.2 C258.2,626.1 259.7,627.6 262,629.5 C264.3,631.4 268,633.2 270.3,632.3 C272.6,631.4 274,627.9 275.9,624 C277.8,620.1 279.6,614.3 281.5,608.7 C283.4,603.1 285.1,596.4 287,590.6 C288.9,584.8 290.4,580.7 292.6,573.9 C294.8,567.1 297.6,557 300,550 C302.4,543 304.7,536.3 307,532 C309.3,527.7 311.5,524.8 314,524 C316.5,523.2 319.3,524.3 322,527 C324.7,529.7 327,534.2 330,540 C333,545.8 336.7,554 340,562 C343.3,570 347,580.8 350,588 C353,595.2 355.7,601.2 358,605 C360.3,608.8 361.7,611.2 364,611 C366.3,610.8 369,608.3 372,604 C375,599.7 378.2,592 382,585 C385.8,578 390.3,568.9 395,562 C399.7,555.1 406.1,546.6 410.1,543.5 C414.1,540.4 416,543.1 419,543.5 C422,543.9 424.9,544.2 427.9,545.7 C430.9,547.2 433.8,549.4 436.8,552.4 C439.8,555.4 442.7,559.8 445.7,563.5 C448.7,567.2 451.6,572.2 454.6,574.6 C457.6,577 460.5,577.2 463.5,578 C466.5,578.8 469.6,579 472.4,579.1 C475.1,579.2 475.4,579.9 480,578.4 C484.6,576.9 494.2,572.6 500,570 C505.8,567.4 510,564.8 515,563 C520,561.2 525.2,559.3 530.2,559.3 C535.2,559.3 540,561.5 545,563 C550,564.5 554.4,567.4 560.3,568.3 C566.2,569.2 573.7,568.8 580.4,568.3 C587.1,567.8 593.7,566.3 600.4,565.3 C607.1,564.3 613.1,562.7 620.5,562.3 C627.9,561.9 637.2,562.3 645,563 C652.8,563.7 659.9,566.2 667.4,566.4 C674.9,566.6 682.4,564.9 689.9,564.1 C697.4,563.4 704.8,562.5 712.3,561.9 C719.8,561.3 727.5,560.9 735,560.5 C742.5,560.1 749.8,559 757.2,559.6 C764.6,560.2 772.1,563.9 779.6,564.1 C787.1,564.3 795.6,561.5 802,560.8 C808.4,560 815.2,559.8 817.8,559.6" fill="none" stroke="#aad714" stroke-opacity="0.9" stroke-width="1.7" stroke-dasharray="1.7,3.5"/>
<path d="M292,510.3 V526.3 M284.8,510.3 H299.2 M284.8,526.3 H299.2" stroke="#aad714" stroke-opacity="0.9" stroke-width="1.2" fill="none"/>
<line x1="292" y1="510.3" x2="292" y2="526.3" stroke="#222" stroke-opacity="0.8" stroke-width="1.3"/>
<path d="M320.4,508.6 V525.6 M313.2,508.6 H327.6 M313.2,525.6 H327.6" stroke="#aad714" stroke-opacity="0.9" stroke-width="1.2" fill="none"/>
<line x1="320.4" y1="508.6" x2="320.4" y2="525.6" stroke="#222" stroke-opacity="0.8" stroke-width="1.3"/>
<path d="M348.9,645.6 V665.6 M341.7,645.6 H356.1 M341.7,665.6 H356.1" stroke="#aad714" stroke-opacity="0.9" stroke-width="1.2" fill="none"/>
<line x1="348.9" y1="645.6" x2="348.9" y2="665.6" stroke="#222" stroke-opacity="0.8" stroke-width="1.3"/>
<path d="M547.8,560.2 V582.2 M540.6,560.2 H555 M540.6,582.2 H555" stroke="#aad714" stroke-opacity="0.9" stroke-width="1.2" fill="none"/>
<line x1="547.8" y1="560.2" x2="547.8" y2="582.2" stroke="#222" stroke-opacity="0.8" stroke-width="1.3"/>
<path d="M562,585.1 V601.1 M554.8,585.1 H569.2 M554.8,601.1 H569.2" stroke="#aad714" stroke-opacity="0.9" stroke-width="1.2" fill="none"/>
<line x1="562" y1="585.1" x2="562" y2="601.1" stroke="#222" stroke-opacity="0.8" stroke-width="1.3"/>
<path d="M576.2,633.8 V652.4 M569,633.8 H583.4 M569,652.4 H583.4" stroke="#aad714" stroke-opacity="0.9" stroke-width="1.2" fill="none"/>
<line x1="576.2" y1="633.8" x2="576.2" y2="652.4" stroke="#222" stroke-opacity="0.8" stroke-width="1.3"/>
<path d="M775.2,588 V604 M768,588 H782.4 M768,604 H782.4" stroke="#aad714" stroke-opacity="0.9" stroke-width="1.2" fill="none"/>
<line x1="775.2" y1="588" x2="775.2" y2="604" stroke="#222" stroke-opacity="0.8" stroke-width="1.3"/>
</g>
<rect x="142.8" y="590.7" width="14.2" height="14.2" fill="#aad714" fill-opacity="0.62" stroke="#585858" stroke-width="1.5"/>
<line x1="149.9" y1="590.8" x2="149.9" y2="604.8" stroke="#000" stroke-opacity="0.55" stroke-width="1.1"/>
<rect x="157" y="695.6" width="14.2" height="14.2" fill="#aad714" fill-opacity="0.62" stroke="#585858" stroke-width="1.5"/>
<line x1="164.1" y1="695.7" x2="164.1" y2="709.7" stroke="#000" stroke-opacity="0.55" stroke-width="1.1"/>
<rect x="171.3" y="709.4" width="14.2" height="14.2" fill="#aad714" fill-opacity="0.62" stroke="#585858" stroke-width="1.5"/>
<line x1="178.4" y1="709.5" x2="178.4" y2="723.5" stroke="#000" stroke-opacity="0.55" stroke-width="1.1"/>
<rect x="185.5" y="629.4" width="14.2" height="14.2" fill="#aad714" fill-opacity="0.62" stroke="#585858" stroke-width="1.5"/>
<line x1="192.6" y1="629.5" x2="192.6" y2="643.5" stroke="#000" stroke-opacity="0.55" stroke-width="1.1"/>
<rect x="199.7" y="578.5" width="14.2" height="14.2" fill="#aad714" fill-opacity="0.62" stroke="#585858" stroke-width="1.5"/>
<line x1="206.8" y1="578.6" x2="206.8" y2="592.6" stroke="#000" stroke-opacity="0.55" stroke-width="1.1"/>
<rect x="213.9" y="499.1" width="14.2" height="14.2" fill="#aad714" fill-opacity="0.62" stroke="#585858" stroke-width="1.5"/>
<line x1="221" y1="499.2" x2="221" y2="513.2" stroke="#000" stroke-opacity="0.55" stroke-width="1.1"/>
<rect x="228.1" y="558.6" width="14.2" height="14.2" fill="#aad714" fill-opacity="0.62" stroke="#585858" stroke-width="1.5"/>
<line x1="235.2" y1="558.7" x2="235.2" y2="572.7" stroke="#000" stroke-opacity="0.55" stroke-width="1.1"/>
<rect x="242.3" y="573.3" width="14.2" height="14.2" fill="#aad714" fill-opacity="0.62" stroke="#585858" stroke-width="1.5"/>
<line x1="249.4" y1="573.4" x2="249.4" y2="587.4" stroke="#000" stroke-opacity="0.55" stroke-width="1.1"/>
<rect x="256.5" y="539.2" width="14.2" height="14.2" fill="#aad714" fill-opacity="0.62" stroke="#585858" stroke-width="1.5"/>
<line x1="263.6" y1="539.3" x2="263.6" y2="553.3" stroke="#000" stroke-opacity="0.55" stroke-width="1.1"/>
<rect x="270.7" y="553.4" width="14.2" height="14.2" fill="#aad714" fill-opacity="0.62" stroke="#585858" stroke-width="1.5"/>
<line x1="277.8" y1="553.5" x2="277.8" y2="567.5" stroke="#000" stroke-opacity="0.55" stroke-width="1.1"/>
<rect x="284.9" y="511.2" width="14.2" height="14.2" fill="#aad714" fill-opacity="0.62" stroke="#585858" stroke-width="1.5"/>
<line x1="292" y1="511.3" x2="292" y2="525.3" stroke="#000" stroke-opacity="0.55" stroke-width="1.1"/>
<rect x="299.1" y="500.2" width="14.2" height="14.2" fill="#aad714" fill-opacity="0.62" stroke="#585858" stroke-width="1.5"/>
<line x1="306.2" y1="500.3" x2="306.2" y2="514.3" stroke="#000" stroke-opacity="0.55" stroke-width="1.1"/>
<rect x="313.3" y="510" width="14.2" height="14.2" fill="#aad714" fill-opacity="0.62" stroke="#585858" stroke-width="1.5"/>
<line x1="320.4" y1="510.1" x2="320.4" y2="524.1" stroke="#000" stroke-opacity="0.55" stroke-width="1.1"/>
<rect x="327.6" y="544.7" width="14.2" height="14.2" fill="#aad714" fill-opacity="0.62" stroke="#585858" stroke-width="1.5"/>
<line x1="334.7" y1="544.8" x2="334.7" y2="558.8" stroke="#000" stroke-opacity="0.55" stroke-width="1.1"/>
<rect x="341.8" y="648.5" width="14.2" height="14.2" fill="#aad714" fill-opacity="0.62" stroke="#585858" stroke-width="1.5"/>
<line x1="348.9" y1="648.6" x2="348.9" y2="662.6" stroke="#000" stroke-opacity="0.55" stroke-width="1.1"/>
<rect x="356" y="709.4" width="14.2" height="14.2" fill="#aad714" fill-opacity="0.62" stroke="#585858" stroke-width="1.5"/>
<line x1="363.1" y1="709.5" x2="363.1" y2="723.5" stroke="#000" stroke-opacity="0.55" stroke-width="1.1"/>
<rect x="370.2" y="686" width="14.2" height="14.2" fill="#aad714" fill-opacity="0.62" stroke="#585858" stroke-width="1.5"/>
<line x1="377.3" y1="686.1" x2="377.3" y2="700.1" stroke="#000" stroke-opacity="0.55" stroke-width="1.1"/>
<rect x="384.4" y="647.3" width="14.2" height="14.2" fill="#aad714" fill-opacity="0.62" stroke="#585858" stroke-width="1.5"/>
<line x1="391.5" y1="647.4" x2="391.5" y2="661.4" stroke="#000" stroke-opacity="0.55" stroke-width="1.1"/>
<rect x="398.6" y="597" width="14.2" height="14.2" fill="#aad714" fill-opacity="0.62" stroke="#585858" stroke-width="1.5"/>
<line x1="405.7" y1="597.1" x2="405.7" y2="611.1" stroke="#000" stroke-opacity="0.55" stroke-width="1.1"/>
<rect x="412.8" y="613.8" width="14.2" height="14.2" fill="#aad714" fill-opacity="0.62" stroke="#585858" stroke-width="1.5"/>
<line x1="419.9" y1="613.9" x2="419.9" y2="627.9" stroke="#000" stroke-opacity="0.55" stroke-width="1.1"/>
<rect x="427" y="603.4" width="14.2" height="14.2" fill="#aad714" fill-opacity="0.62" stroke="#585858" stroke-width="1.5"/>
<line x1="434.1" y1="603.5" x2="434.1" y2="617.5" stroke="#000" stroke-opacity="0.55" stroke-width="1.1"/>
<rect x="441.2" y="603.4" width="14.2" height="14.2" fill="#aad714" fill-opacity="0.62" stroke="#585858" stroke-width="1.5"/>
<line x1="448.3" y1="603.5" x2="448.3" y2="617.5" stroke="#000" stroke-opacity="0.55" stroke-width="1.1"/>
<rect x="455.4" y="626.5" width="14.2" height="14.2" fill="#aad714" fill-opacity="0.62" stroke="#585858" stroke-width="1.5"/>
<line x1="462.6" y1="626.6" x2="462.6" y2="640.6" stroke="#000" stroke-opacity="0.55" stroke-width="1.1"/>
<rect x="469.7" y="644.1" width="14.2" height="14.2" fill="#aad714" fill-opacity="0.62" stroke="#585858" stroke-width="1.5"/>
<line x1="476.8" y1="644.2" x2="476.8" y2="658.2" stroke="#000" stroke-opacity="0.55" stroke-width="1.1"/>
<rect x="483.9" y="612" width="14.2" height="14.2" fill="#aad714" fill-opacity="0.62" stroke="#585858" stroke-width="1.5"/>
<line x1="491" y1="612.1" x2="491" y2="626.1" stroke="#000" stroke-opacity="0.55" stroke-width="1.1"/>
<rect x="498.1" y="572.5" width="14.2" height="14.2" fill="#aad714" fill-opacity="0.62" stroke="#585858" stroke-width="1.5"/>
<line x1="505.2" y1="572.6" x2="505.2" y2="586.6" stroke="#000" stroke-opacity="0.55" stroke-width="1.1"/>
<rect x="512.3" y="546.4" width="14.2" height="14.2" fill="#aad714" fill-opacity="0.62" stroke="#585858" stroke-width="1.5"/>
<line x1="519.4" y1="546.5" x2="519.4" y2="560.5" stroke="#000" stroke-opacity="0.55" stroke-width="1.1"/>
<rect x="526.5" y="512.1" width="14.2" height="14.2" fill="#aad714" fill-opacity="0.62" stroke="#585858" stroke-width="1.5"/>
<line x1="533.6" y1="512.2" x2="533.6" y2="526.2" stroke="#000" stroke-opacity="0.55" stroke-width="1.1"/>
<rect x="540.7" y="564.1" width="14.2" height="14.2" fill="#aad714" fill-opacity="0.62" stroke="#585858" stroke-width="1.5"/>
<line x1="547.8" y1="564.2" x2="547.8" y2="578.2" stroke="#000" stroke-opacity="0.55" stroke-width="1.1"/>
<rect x="554.9" y="586" width="14.2" height="14.2" fill="#aad714" fill-opacity="0.62" stroke="#585858" stroke-width="1.5"/>
<line x1="562" y1="586.1" x2="562" y2="600.1" stroke="#000" stroke-opacity="0.55" stroke-width="1.1"/>
<rect x="569.1" y="636" width="14.2" height="14.2" fill="#aad714" fill-opacity="0.62" stroke="#585858" stroke-width="1.5"/>
<line x1="576.2" y1="636.1" x2="576.2" y2="650.1" stroke="#000" stroke-opacity="0.55" stroke-width="1.1"/>
<rect x="583.3" y="598.5" width="14.2" height="14.2" fill="#aad714" fill-opacity="0.62" stroke="#585858" stroke-width="1.5"/>
<line x1="590.4" y1="598.6" x2="590.4" y2="612.6" stroke="#000" stroke-opacity="0.55" stroke-width="1.1"/>
<rect x="597.5" y="582.3" width="14.2" height="14.2" fill="#aad714" fill-opacity="0.62" stroke="#585858" stroke-width="1.5"/>
<line x1="604.6" y1="582.4" x2="604.6" y2="596.4" stroke="#000" stroke-opacity="0.55" stroke-width="1.1"/>
<rect x="611.8" y="608.3" width="14.2" height="14.2" fill="#aad714" fill-opacity="0.62" stroke="#585858" stroke-width="1.5"/>
<line x1="618.9" y1="608.4" x2="618.9" y2="622.4" stroke="#000" stroke-opacity="0.55" stroke-width="1.1"/>
<rect x="626" y="586" width="14.2" height="14.2" fill="#aad714" fill-opacity="0.62" stroke="#585858" stroke-width="1.5"/>
<line x1="633.1" y1="586.1" x2="633.1" y2="600.1" stroke="#000" stroke-opacity="0.55" stroke-width="1.1"/>
<rect x="640.2" y="614.6" width="14.2" height="14.2" fill="#aad714" fill-opacity="0.62" stroke="#585858" stroke-width="1.5"/>
<line x1="647.3" y1="614.8" x2="647.3" y2="628.8" stroke="#000" stroke-opacity="0.55" stroke-width="1.1"/>
<rect x="654.4" y="653.1" width="14.2" height="14.2" fill="#aad714" fill-opacity="0.62" stroke="#585858" stroke-width="1.5"/>
<line x1="661.5" y1="653.2" x2="661.5" y2="667.2" stroke="#000" stroke-opacity="0.55" stroke-width="1.1"/>
<rect x="668.6" y="649" width="14.2" height="14.2" fill="#aad714" fill-opacity="0.62" stroke="#585858" stroke-width="1.5"/>
<line x1="675.7" y1="649.1" x2="675.7" y2="663.1" stroke="#000" stroke-opacity="0.55" stroke-width="1.1"/>
<rect x="682.8" y="629.4" width="14.2" height="14.2" fill="#aad714" fill-opacity="0.62" stroke="#585858" stroke-width="1.5"/>
<line x1="689.9" y1="629.5" x2="689.9" y2="643.5" stroke="#000" stroke-opacity="0.55" stroke-width="1.1"/>
<rect x="697" y="615.5" width="14.2" height="14.2" fill="#aad714" fill-opacity="0.62" stroke="#585858" stroke-width="1.5"/>
<line x1="704.1" y1="615.6" x2="704.1" y2="629.6" stroke="#000" stroke-opacity="0.55" stroke-width="1.1"/>
<rect x="711.2" y="589.2" width="14.2" height="14.2" fill="#aad714" fill-opacity="0.62" stroke="#585858" stroke-width="1.5"/>
<line x1="718.3" y1="589.3" x2="718.3" y2="603.3" stroke="#000" stroke-opacity="0.55" stroke-width="1.1"/>
<rect x="725.4" y="523.3" width="14.2" height="14.2" fill="#aad714" fill-opacity="0.62" stroke="#585858" stroke-width="1.5"/>
<line x1="732.5" y1="523.4" x2="732.5" y2="537.4" stroke="#000" stroke-opacity="0.55" stroke-width="1.1"/>
<rect x="739.6" y="507.7" width="14.2" height="14.2" fill="#aad714" fill-opacity="0.62" stroke="#585858" stroke-width="1.5"/>
<line x1="746.8" y1="507.8" x2="746.8" y2="521.8" stroke="#000" stroke-opacity="0.55" stroke-width="1.1"/>
<rect x="753.9" y="521" width="14.2" height="14.2" fill="#aad714" fill-opacity="0.62" stroke="#585858" stroke-width="1.5"/>
<line x1="761" y1="521.1" x2="761" y2="535.1" stroke="#000" stroke-opacity="0.55" stroke-width="1.1"/>
<rect x="768.1" y="588.9" width="14.2" height="14.2" fill="#aad714" fill-opacity="0.62" stroke="#585858" stroke-width="1.5"/>
<line x1="775.2" y1="589" x2="775.2" y2="603" stroke="#000" stroke-opacity="0.55" stroke-width="1.1"/>
<rect x="782.3" y="642.4" width="14.2" height="14.2" fill="#aad714" fill-opacity="0.62" stroke="#585858" stroke-width="1.5"/>
<line x1="789.4" y1="642.5" x2="789.4" y2="656.5" stroke="#000" stroke-opacity="0.55" stroke-width="1.1"/>
<rect x="796.5" y="608.3" width="14.2" height="14.2" fill="#aad714" fill-opacity="0.62" stroke="#585858" stroke-width="1.5"/>
<line x1="803.6" y1="608.4" x2="803.6" y2="622.4" stroke="#000" stroke-opacity="0.55" stroke-width="1.1"/>
<rect x="810.7" y="576.8" width="14.2" height="14.2" fill="#aad714" fill-opacity="0.62" stroke="#585858" stroke-width="1.5"/>
<line x1="817.8" y1="576.9" x2="817.8" y2="590.9" stroke="#000" stroke-opacity="0.55" stroke-width="1.1"/>
<g clip-path="url(#cl)">
<polygon points="107.8,619.2 113.3,618.1 119.6,631.7 125.9,646.3 134.2,665.1 142.6,683.9 150.9,702.6 159.2,723.5 167.6,746.4 175.9,769.4 184.3,794.4 192.6,813.2 198.9,798.6 205.1,777.7 213.5,748.5 221.8,723.5 230.2,698.5 238.5,677.6 246.9,663 255,650.5 257.8,639.3 266.2,629.5 271.7,626.1 278.7,628.2 285.6,629.5 291.2,640.7 296.8,646.2 303.7,654.6 310.7,668.5 319,681 323,685.9 333.5,702.6 343.9,725.6 352.2,742.3 358.5,747.5 364.8,745.4 373.1,731.8 383.5,706.8 394,683.9 400,675.5 409.1,666.8 422.1,651.2 435.1,642.1 448.1,643.4 461,649.9 474,661.6 487,671.9 500,687.5 513,697.9 520.8,709 528.6,708.3 539,700.5 551.9,683 564.9,673 577.9,666 590.9,659 598.7,655 611.7,659 624.7,664.2 640.3,666.8 655.8,675.8 671.4,686 684.4,694 700,688.5 720,683.6 728.2,677.8 742.7,673 759.5,669.4 781.2,669.4 795.7,671.8 807.7,675.4 817.8,676.6 817.8,761 805.3,759.8 788.4,757.8 766.7,759.8 747.5,763.4 728.2,768.2 720,775.8 697.4,774.5 681.8,773.2 668.8,769.4 655.8,762.9 642.9,757.7 629.9,752.5 616.9,751.2 603.9,751.2 590.9,752.5 577.9,760.3 564.9,770.6 551.9,778.4 539,786.2 526,788.8 520,789 507.8,781 494.8,773.2 481.8,762.9 466.2,747.3 453.2,734.3 440.3,729.1 424.7,747.3 411.7,762.9 400,779.8 387.7,790.3 379.4,796.5 371,804.9 362.7,811.1 354.3,809 346,798.6 337.6,788.2 329.3,773.6 320.9,761 312.6,748.5 302.2,727.7 291.7,711 281.3,702.6 270.9,701.6 264,704 258.3,711 255,733.9 249,740.2 240.6,748.5 230.2,761 219.8,781.9 211.4,802.8 203.1,823.6 194.7,837.2 188.5,834.1 180.1,815.3 171.8,798.6 165.5,781.9 159.2,763.1 150.9,752.7 142.6,740.2 134.2,727.7 125.9,711 117.5,698.5 107.8,694.3" fill="#14a76a" fill-opacity="0.38"/>
<line x1="107.3" y1="657.4" x2="817.9" y2="657.4" stroke="#14a76a" stroke-opacity="0.72" stroke-width="3.9" stroke-dasharray="10.9,7.04,3.97,7.04" stroke-dashoffset="0"/>
<path d="M107.8,657.5 C108,657.5 107.6,657.4 109.2,657.8 C110.8,658.2 114.7,657.6 117.5,659.9 C120.3,662.1 123.1,666.6 125.9,671.3 C128.7,676 131.4,682.4 134.2,688 C137,693.6 139.8,699.1 142.6,704.7 C145.4,710.3 148.1,715.5 150.9,721.4 C153.7,727.3 156.8,734.3 159.2,740.2 C161.6,746.1 163.4,750.6 165.5,756.9 C167.6,763.1 169.7,770.8 171.8,777.7 C173.9,784.7 175.9,792 178,798.6 C180.1,805.2 182.2,812.5 184.3,817.4 C186.4,822.3 188.8,826.1 190.5,827.8 C192.2,829.5 192.9,829.9 194.7,827.8 C196.4,825.7 198.6,821.5 201,815.3 C203.4,809 206.5,798.6 209.3,790.3 C212.1,781.9 214.9,772.9 217.7,765.2 C220.5,757.6 223.2,751 226,744.4 C228.8,737.8 231.6,731.9 234.4,725.6 C237.2,719.3 239.9,712.7 242.7,706.8 C245.5,700.9 247.8,696.5 251,690.1 C254.2,683.7 259,673.5 262,668.5 C265,663.5 266.7,661.9 269,660 C271.3,658.1 273.7,657 276,657.3 C278.3,657.5 280.4,658.7 282.9,661.5 C285.4,664.3 288.4,669.6 291.2,674 C294,678.4 296.7,683.4 299.5,688 C302.3,692.6 305.1,697.4 307.9,701.9 C310.6,706.4 313.1,710.7 316,715 C318.9,719.3 322.2,722.8 325.1,727.7 C328,732.6 330.7,738.1 333.5,744.4 C336.3,750.6 339,757.9 341.8,765.2 C344.6,772.5 347.7,782.1 350.1,788.2 C352.5,794.3 353.9,800 356.4,801.7 C358.8,803.4 361.7,802.9 364.8,798.6 C367.9,794.3 371.7,784.1 375.2,775.7 C378.7,767.4 382.1,756.5 385.6,748.5 C389.1,740.5 392.9,733.5 396,727.7 C399.1,721.9 400.4,719.3 403.9,713.5 C407.4,707.7 413.4,697.4 416.9,692.7 C420.4,688 422.5,689.7 425,685.4 C427.5,681.1 430.1,670.7 432.1,667.1 C434.1,663.5 435.2,664.6 436.8,663.6 C438.4,662.6 440,660.9 442,661.3 C444,661.7 446.5,663.8 448.6,666 C450.7,668.2 452.5,671.9 454.5,674.8 C456.5,677.6 458.4,680.4 460.4,683.1 C462.4,685.9 464.3,688.8 466.3,691.3 C468.3,693.8 469.6,695.6 472.2,698.4 C474.8,701.2 478,703.2 481.8,708.3 C485.6,713.4 490.5,721.3 494.8,729.1 C499.1,736.9 503.9,746.6 507.8,755.1 C511.7,763.6 515,774.8 518,780 C521,785.2 522.5,787.8 526,786.2 C529.5,784.6 534.7,778 539,770.6 C543.3,763.2 547.6,750.8 551.9,742.1 C556.2,733.5 560.6,726.1 564.9,718.7 C569.2,711.3 573.6,704 577.9,697.9 C582.2,691.8 586.6,686.4 590.9,682.3 C595.2,678.2 600,674.7 603.9,673.2 C607.8,671.7 610.4,671.2 614.3,673.2 C618.2,675.2 623,679.5 627.3,684.9 C631.6,690.3 636,699.2 640.3,705.7 C644.6,712.2 648.9,717.8 653.2,723.9 C657.5,730 661.9,736 666.2,742.1 C670.5,748.2 674.9,755.1 679.2,760.3 C683.5,765.5 687.9,772.3 692.2,773.2 C696.5,774.1 701.2,769.8 705.2,765.5 C709.2,761.2 712.3,753.9 716.1,747.7 C719.9,741.5 724.2,734 728.2,728.4 C732.2,722.8 736.2,719.2 740.2,714 C744.2,708.8 748.3,702.3 752.3,697.1 C756.3,691.9 760.3,685.9 764.3,682.7 C768.3,679.5 772.4,677.4 776.4,677.8 C780.4,678.2 784.4,681.9 788.4,685.1 C792.4,688.3 795.6,691.9 800.5,697.1 C805.4,702.3 814.9,713.2 817.8,716.4" fill="none" stroke="#14a76a" stroke-opacity="0.78" stroke-width="5.4" stroke-linejoin="round"/>
<path d="M107.8,657.5 C110,659.2 116.5,661.9 120.8,667.5 C125.1,673.1 129.5,683.1 133.8,690.9 C138.1,698.7 142.5,706.5 146.8,714.3 C151.1,722.1 155.8,729.1 159.7,737.7 C163.6,746.4 166.6,756.7 170.1,766.2 C173.6,775.8 177.5,786.9 180.5,795 C183.5,803.1 185.8,810.8 188,815 C190.2,819.2 191.7,821.2 194,820 C196.3,818.8 199,814.3 202,808 C205,801.7 208.3,791.3 212,782 C215.7,772.7 220,761.2 224,752 C228,742.8 232.8,734.2 236,727 C239.2,719.8 240.5,714.8 243,709 C245.5,703.2 247.8,698.3 251,692 C254.2,685.7 258.8,675.8 262,671 C265.2,666.2 267.5,664.7 270,663 C272.5,661.3 274.7,660.7 277,661 C279.3,661.3 281.5,662.3 284,665 C286.5,667.7 289.3,672.8 292,677 C294.7,681.2 297,685.2 300,690 C303,694.8 306.7,700.5 310,706 C313.3,711.5 315.8,715.3 320,723 C324.2,730.7 330.3,743.3 335,752 C339.7,760.7 344.2,769.7 348,775 C351.8,780.3 354.3,783.1 358,783.6 C361.7,784.1 365.5,782.8 370,778 C374.5,773.2 380,763.3 385,755 C390,746.7 395,736.3 400,728 C405,719.7 410.3,711 415,705 C419.7,699 423.8,695.4 428,692 C432.2,688.6 435.8,685.6 440.3,684.9 C444.8,684.2 450.1,685.5 455,688 C459.9,690.5 465,695.5 470,700 C475,704.5 480,709.3 485,715 C490,720.7 495.5,729.3 500,734.3 C504.5,739.3 508.1,742.4 512,745 C515.9,747.6 519.2,749.9 523.4,749.9 C527.6,749.9 532.6,747 537,745 C541.4,743 545.3,741.8 550,738 C554.7,734.2 560.4,726.1 565,722 C569.6,717.9 572.3,716.6 577.9,713.5 C583.5,710.4 591.7,704.4 598.7,703.1 C605.7,701.9 611.5,703.9 620,706 C628.5,708.1 640,711.9 650,716 C660,720.1 672.2,728 680,730.8 C687.8,733.6 690.7,733.4 697,732.9 C703.3,732.4 710.9,729.6 717.9,727.7 C724.9,725.8 731.8,723.5 738.7,721.4 C745.7,719.3 752.6,716.5 759.6,715.1 C766.6,713.7 773.5,712.8 780.5,713.1 C787.5,713.5 795.1,716.2 801.3,717.2 C807.5,718.2 815,718.9 817.8,719.3" fill="none" stroke="#14a76a" stroke-opacity="0.9" stroke-width="1.7" stroke-dasharray="1.7,3.5"/>
<path d="M149.9,713.2 V718.2 M141.9,713.2 H157.9 M141.9,718.2 H157.9" stroke="#14a76a" stroke-opacity="0.9" stroke-width="1.2" fill="none"/>
<path d="M164.1,745.9 V750.9 M156.1,745.9 H172.1 M156.1,750.9 H172.1" stroke="#14a76a" stroke-opacity="0.9" stroke-width="1.2" fill="none"/>
<path d="M178.4,795.6 V800.6 M170.4,795.6 H186.4 M170.4,800.6 H186.4" stroke="#14a76a" stroke-opacity="0.9" stroke-width="1.2" fill="none"/>
<path d="M192.6,829.7 V834.7 M184.6,829.7 H200.6 M184.6,834.7 H200.6" stroke="#14a76a" stroke-opacity="0.9" stroke-width="1.2" fill="none"/>
<path d="M206.8,821.6 V826.6 M198.8,821.6 H214.8 M198.8,826.6 H214.8" stroke="#14a76a" stroke-opacity="0.9" stroke-width="1.2" fill="none"/>
<path d="M221,793.9 V798.9 M213,793.9 H229 M213,798.9 H229" stroke="#14a76a" stroke-opacity="0.9" stroke-width="1.2" fill="none"/>
<path d="M235.2,779.4 V784.4 M227.2,779.4 H243.2 M227.2,784.4 H243.2" stroke="#14a76a" stroke-opacity="0.9" stroke-width="1.2" fill="none"/>
<path d="M249.4,749.1 V754.1 M241.4,749.1 H257.4 M241.4,754.1 H257.4" stroke="#14a76a" stroke-opacity="0.9" stroke-width="1.2" fill="none"/>
<path d="M263.6,728.8 V733.8 M255.6,728.8 H271.6 M255.6,733.8 H271.6" stroke="#14a76a" stroke-opacity="0.9" stroke-width="1.2" fill="none"/>
<path d="M277.8,710.3 V715.3 M269.8,710.3 H285.8 M269.8,715.3 H285.8" stroke="#14a76a" stroke-opacity="0.9" stroke-width="1.2" fill="none"/>
<path d="M292,725.4 V730.4 M284,725.4 H300 M284,730.4 H300" stroke="#14a76a" stroke-opacity="0.9" stroke-width="1.2" fill="none"/>
<path d="M306.2,730.6 V735.6 M298.2,730.6 H314.2 M298.2,735.6 H314.2" stroke="#14a76a" stroke-opacity="0.9" stroke-width="1.2" fill="none"/>
<path d="M320.4,745.9 V750.9 M312.4,745.9 H328.4 M312.4,750.9 H328.4" stroke="#14a76a" stroke-opacity="0.9" stroke-width="1.2" fill="none"/>
<path d="M334.7,740.4 V745.4 M326.7,740.4 H342.7 M326.7,745.4 H342.7" stroke="#14a76a" stroke-opacity="0.9" stroke-width="1.2" fill="none"/>
<path d="M348.9,790.4 V795.4 M340.9,790.4 H356.9 M340.9,795.4 H356.9" stroke="#14a76a" stroke-opacity="0.9" stroke-width="1.2" fill="none"/>
<path d="M363.1,784.6 V789.6 M355.1,784.6 H371.1 M355.1,789.6 H371.1" stroke="#14a76a" stroke-opacity="0.9" stroke-width="1.2" fill="none"/>
<path d="M377.3,788.4 V793.4 M369.3,788.4 H385.3 M369.3,793.4 H385.3" stroke="#14a76a" stroke-opacity="0.9" stroke-width="1.2" fill="none"/>
<path d="M391.5,774.2 V779.2 M383.5,774.2 H399.5 M383.5,779.2 H399.5" stroke="#14a76a" stroke-opacity="0.9" stroke-width="1.2" fill="none"/>
<path d="M405.7,715 V720 M397.7,715 H413.7 M397.7,720 H413.7" stroke="#14a76a" stroke-opacity="0.9" stroke-width="1.2" fill="none"/>
<path d="M419.9,704.6 V709.6 M411.9,704.6 H427.9 M411.9,709.6 H427.9" stroke="#14a76a" stroke-opacity="0.9" stroke-width="1.2" fill="none"/>
<path d="M434.1,677.4 V682.4 M426.1,677.4 H442.1 M426.1,682.4 H442.1" stroke="#14a76a" stroke-opacity="0.9" stroke-width="1.2" fill="none"/>
<path d="M448.3,663.2 V668.2 M440.3,663.2 H456.3 M440.3,668.2 H456.3" stroke="#14a76a" stroke-opacity="0.9" stroke-width="1.2" fill="none"/>
<path d="M462.6,676.2 V681.2 M454.6,676.2 H470.6 M454.6,681.2 H470.6" stroke="#14a76a" stroke-opacity="0.9" stroke-width="1.2" fill="none"/>
<path d="M476.8,701.7 V706.7 M468.8,701.7 H484.8 M468.8,706.7 H484.8" stroke="#14a76a" stroke-opacity="0.9" stroke-width="1.2" fill="none"/>
<path d="M491,724.2 V729.2 M483,724.2 H499 M483,729.2 H499" stroke="#14a76a" stroke-opacity="0.9" stroke-width="1.2" fill="none"/>
<path d="M505.2,769 V774 M497.2,769 H513.2 M497.2,774 H513.2" stroke="#14a76a" stroke-opacity="0.9" stroke-width="1.2" fill="none"/>
<path d="M519.4,814.4 V819.4 M511.4,814.4 H527.4 M511.4,819.4 H527.4" stroke="#14a76a" stroke-opacity="0.9" stroke-width="1.2" fill="none"/>
<path d="M533.6,846.2 V851.2 M525.6,846.2 H541.6 M525.6,851.2 H541.6" stroke="#14a76a" stroke-opacity="0.9" stroke-width="1.2" fill="none"/>
<path d="M547.8,811.2 V816.2 M539.8,811.2 H555.8 M539.8,816.2 H555.8" stroke="#14a76a" stroke-opacity="0.9" stroke-width="1.2" fill="none"/>
<path d="M562,796.2 V801.2 M554,796.2 H570 M554,801.2 H570" stroke="#14a76a" stroke-opacity="0.9" stroke-width="1.2" fill="none"/>
<path d="M576.2,758.6 V763.6 M568.2,758.6 H584.2 M568.2,763.6 H584.2" stroke="#14a76a" stroke-opacity="0.9" stroke-width="1.2" fill="none"/>
<path d="M590.4,719.9 V724.9 M582.4,719.9 H598.4 M582.4,724.9 H598.4" stroke="#14a76a" stroke-opacity="0.9" stroke-width="1.2" fill="none"/>
<path d="M604.6,714.7 V719.7 M596.6,714.7 H612.6 M596.6,719.7 H612.6" stroke="#14a76a" stroke-opacity="0.9" stroke-width="1.2" fill="none"/>
<path d="M618.9,704.6 V709.6 M610.9,704.6 H626.9 M610.9,709.6 H626.9" stroke="#14a76a" stroke-opacity="0.9" stroke-width="1.2" fill="none"/>
<path d="M633.1,721 V726 M625.1,721 H641.1 M625.1,726 H641.1" stroke="#14a76a" stroke-opacity="0.9" stroke-width="1.2" fill="none"/>
<path d="M647.3,756.6 V761.6 M639.3,756.6 H655.3 M639.3,761.6 H655.3" stroke="#14a76a" stroke-opacity="0.9" stroke-width="1.2" fill="none"/>
<path d="M661.5,759.2 V764.2 M653.5,759.2 H669.5 M653.5,764.2 H669.5" stroke="#14a76a" stroke-opacity="0.9" stroke-width="1.2" fill="none"/>
<path d="M675.7,789.2 V794.2 M667.7,789.2 H683.7 M667.7,794.2 H683.7" stroke="#14a76a" stroke-opacity="0.9" stroke-width="1.2" fill="none"/>
<path d="M689.9,813.8 V818.8 M681.9,813.8 H697.9 M681.9,818.8 H697.9" stroke="#14a76a" stroke-opacity="0.9" stroke-width="1.2" fill="none"/>
<path d="M704.1,820.2 V825.2 M696.1,820.2 H712.1 M696.1,825.2 H712.1" stroke="#14a76a" stroke-opacity="0.9" stroke-width="1.2" fill="none"/>
<path d="M718.3,774.8 V779.8 M710.3,774.8 H726.3 M710.3,779.8 H726.3" stroke="#14a76a" stroke-opacity="0.9" stroke-width="1.2" fill="none"/>
<path d="M732.5,773.6 V778.6 M724.5,773.6 H740.5 M724.5,778.6 H740.5" stroke="#14a76a" stroke-opacity="0.9" stroke-width="1.2" fill="none"/>
<path d="M746.8,740.7 V745.7 M738.8,740.7 H754.8 M738.8,745.7 H754.8" stroke="#14a76a" stroke-opacity="0.9" stroke-width="1.2" fill="none"/>
<path d="M761,729.7 V734.7 M753,729.7 H769 M753,734.7 H769" stroke="#14a76a" stroke-opacity="0.9" stroke-width="1.2" fill="none"/>
<path d="M775.2,702 V707 M767.2,702 H783.2 M767.2,707 H783.2" stroke="#14a76a" stroke-opacity="0.9" stroke-width="1.2" fill="none"/>
<path d="M789.4,709.5 V714.5 M781.4,709.5 H797.4 M781.4,714.5 H797.4" stroke="#14a76a" stroke-opacity="0.9" stroke-width="1.2" fill="none"/>
<path d="M803.6,702 V707 M795.6,702 H811.6 M795.6,707 H811.6" stroke="#14a76a" stroke-opacity="0.9" stroke-width="1.2" fill="none"/>
<path d="M817.8,716.7 V721.7 M809.8,716.7 H825.8 M809.8,721.7 H825.8" stroke="#14a76a" stroke-opacity="0.9" stroke-width="1.2" fill="none"/>
</g>
<polygon points="149.9,707.6 143.1,719.6 156.7,719.6" fill="#14a76a" fill-opacity="0.65" stroke="#585858" stroke-width="1.5" stroke-linejoin="miter"/>
<line x1="149.9" y1="711.2" x2="149.9" y2="719.2" stroke="#000" stroke-opacity="0.45" stroke-width="1.1"/>
<polygon points="164.1,740.3 157.3,752.3 170.9,752.3" fill="#14a76a" fill-opacity="0.65" stroke="#585858" stroke-width="1.5" stroke-linejoin="miter"/>
<line x1="164.1" y1="743.9" x2="164.1" y2="751.9" stroke="#000" stroke-opacity="0.45" stroke-width="1.1"/>
<polygon points="178.4,790 171.6,802 185.2,802" fill="#14a76a" fill-opacity="0.65" stroke="#585858" stroke-width="1.5" stroke-linejoin="miter"/>
<line x1="178.4" y1="793.6" x2="178.4" y2="801.6" stroke="#000" stroke-opacity="0.45" stroke-width="1.1"/>
<polygon points="192.6,824.1 185.8,836.1 199.4,836.1" fill="#14a76a" fill-opacity="0.65" stroke="#585858" stroke-width="1.5" stroke-linejoin="miter"/>
<line x1="192.6" y1="827.7" x2="192.6" y2="835.7" stroke="#000" stroke-opacity="0.45" stroke-width="1.1"/>
<polygon points="206.8,816 200,828 213.6,828" fill="#14a76a" fill-opacity="0.65" stroke="#585858" stroke-width="1.5" stroke-linejoin="miter"/>
<line x1="206.8" y1="819.6" x2="206.8" y2="827.6" stroke="#000" stroke-opacity="0.45" stroke-width="1.1"/>
<polygon points="221,788.3 214.2,800.3 227.8,800.3" fill="#14a76a" fill-opacity="0.65" stroke="#585858" stroke-width="1.5" stroke-linejoin="miter"/>
<line x1="221" y1="791.9" x2="221" y2="799.9" stroke="#000" stroke-opacity="0.45" stroke-width="1.1"/>
<polygon points="235.2,773.8 228.4,785.8 242,785.8" fill="#14a76a" fill-opacity="0.65" stroke="#585858" stroke-width="1.5" stroke-linejoin="miter"/>
<line x1="235.2" y1="777.4" x2="235.2" y2="785.4" stroke="#000" stroke-opacity="0.45" stroke-width="1.1"/>
<polygon points="249.4,743.5 242.6,755.5 256.2,755.5" fill="#14a76a" fill-opacity="0.65" stroke="#585858" stroke-width="1.5" stroke-linejoin="miter"/>
<line x1="249.4" y1="747.1" x2="249.4" y2="755.1" stroke="#000" stroke-opacity="0.45" stroke-width="1.1"/>
<polygon points="263.6,723.2 256.8,735.2 270.4,735.2" fill="#14a76a" fill-opacity="0.65" stroke="#585858" stroke-width="1.5" stroke-linejoin="miter"/>
<line x1="263.6" y1="726.8" x2="263.6" y2="734.8" stroke="#000" stroke-opacity="0.45" stroke-width="1.1"/>
<polygon points="277.8,704.7 271,716.7 284.6,716.7" fill="#14a76a" fill-opacity="0.65" stroke="#585858" stroke-width="1.5" stroke-linejoin="miter"/>
<line x1="277.8" y1="708.3" x2="277.8" y2="716.3" stroke="#000" stroke-opacity="0.45" stroke-width="1.1"/>
<polygon points="292,719.8 285.2,731.8 298.8,731.8" fill="#14a76a" fill-opacity="0.65" stroke="#585858" stroke-width="1.5" stroke-linejoin="miter"/>
<line x1="292" y1="723.4" x2="292" y2="731.4" stroke="#000" stroke-opacity="0.45" stroke-width="1.1"/>
<polygon points="306.2,725 299.4,737 313,737" fill="#14a76a" fill-opacity="0.65" stroke="#585858" stroke-width="1.5" stroke-linejoin="miter"/>
<line x1="306.2" y1="728.6" x2="306.2" y2="736.6" stroke="#000" stroke-opacity="0.45" stroke-width="1.1"/>
<polygon points="320.4,740.3 313.6,752.3 327.2,752.3" fill="#14a76a" fill-opacity="0.65" stroke="#585858" stroke-width="1.5" stroke-linejoin="miter"/>
<line x1="320.4" y1="743.9" x2="320.4" y2="751.9" stroke="#000" stroke-opacity="0.45" stroke-width="1.1"/>
<polygon points="334.7,734.8 327.9,746.8 341.5,746.8" fill="#14a76a" fill-opacity="0.65" stroke="#585858" stroke-width="1.5" stroke-linejoin="miter"/>
<line x1="334.7" y1="738.4" x2="334.7" y2="746.4" stroke="#000" stroke-opacity="0.45" stroke-width="1.1"/>
<polygon points="348.9,784.8 342.1,796.8 355.7,796.8" fill="#14a76a" fill-opacity="0.65" stroke="#585858" stroke-width="1.5" stroke-linejoin="miter"/>
<line x1="348.9" y1="788.4" x2="348.9" y2="796.4" stroke="#000" stroke-opacity="0.45" stroke-width="1.1"/>
<polygon points="363.1,779 356.3,791 369.9,791" fill="#14a76a" fill-opacity="0.65" stroke="#585858" stroke-width="1.5" stroke-linejoin="miter"/>
<line x1="363.1" y1="782.6" x2="363.1" y2="790.6" stroke="#000" stroke-opacity="0.45" stroke-width="1.1"/>
<polygon points="377.3,782.8 370.5,794.8 384.1,794.8" fill="#14a76a" fill-opacity="0.65" stroke="#585858" stroke-width="1.5" stroke-linejoin="miter"/>
<line x1="377.3" y1="786.4" x2="377.3" y2="794.4" stroke="#000" stroke-opacity="0.45" stroke-width="1.1"/>
<polygon points="391.5,768.6 384.7,780.6 398.3,780.6" fill="#14a76a" fill-opacity="0.65" stroke="#585858" stroke-width="1.5" stroke-linejoin="miter"/>
<line x1="391.5" y1="772.2" x2="391.5" y2="780.2" stroke="#000" stroke-opacity="0.45" stroke-width="1.1"/>
<polygon points="405.7,709.4 398.9,721.4 412.5,721.4" fill="#14a76a" fill-opacity="0.65" stroke="#585858" stroke-width="1.5" stroke-linejoin="miter"/>
<line x1="405.7" y1="713" x2="405.7" y2="721" stroke="#000" stroke-opacity="0.45" stroke-width="1.1"/>
<polygon points="419.9,699 413.1,711 426.7,711" fill="#14a76a" fill-opacity="0.65" stroke="#585858" stroke-width="1.5" stroke-linejoin="miter"/>
<line x1="419.9" y1="702.6" x2="419.9" y2="710.6" stroke="#000" stroke-opacity="0.45" stroke-width="1.1"/>
<polygon points="434.1,671.8 427.3,683.8 440.9,683.8" fill="#14a76a" fill-opacity="0.65" stroke="#585858" stroke-width="1.5" stroke-linejoin="miter"/>
<line x1="434.1" y1="675.4" x2="434.1" y2="683.4" stroke="#000" stroke-opacity="0.45" stroke-width="1.1"/>
<polygon points="448.3,657.6 441.5,669.6 455.1,669.6" fill="#14a76a" fill-opacity="0.65" stroke="#585858" stroke-width="1.5" stroke-linejoin="miter"/>
<line x1="448.3" y1="661.2" x2="448.3" y2="669.2" stroke="#000" stroke-opacity="0.45" stroke-width="1.1"/>
<polygon points="462.6,670.6 455.8,682.6 469.4,682.6" fill="#14a76a" fill-opacity="0.65" stroke="#585858" stroke-width="1.5" stroke-linejoin="miter"/>
<line x1="462.6" y1="674.2" x2="462.6" y2="682.2" stroke="#000" stroke-opacity="0.45" stroke-width="1.1"/>
<polygon points="476.8,696.1 470,708.1 483.6,708.1" fill="#14a76a" fill-opacity="0.65" stroke="#585858" stroke-width="1.5" stroke-linejoin="miter"/>
<line x1="476.8" y1="699.7" x2="476.8" y2="707.7" stroke="#000" stroke-opacity="0.45" stroke-width="1.1"/>
<polygon points="491,718.6 484.2,730.6 497.8,730.6" fill="#14a76a" fill-opacity="0.65" stroke="#585858" stroke-width="1.5" stroke-linejoin="miter"/>
<line x1="491" y1="722.2" x2="491" y2="730.2" stroke="#000" stroke-opacity="0.45" stroke-width="1.1"/>
<polygon points="505.2,763.4 498.4,775.4 512,775.4" fill="#14a76a" fill-opacity="0.65" stroke="#585858" stroke-width="1.5" stroke-linejoin="miter"/>
<line x1="505.2" y1="767" x2="505.2" y2="775" stroke="#000" stroke-opacity="0.45" stroke-width="1.1"/>
<polygon points="519.4,808.8 512.6,820.8 526.2,820.8" fill="#14a76a" fill-opacity="0.65" stroke="#585858" stroke-width="1.5" stroke-linejoin="miter"/>
<line x1="519.4" y1="812.4" x2="519.4" y2="820.4" stroke="#000" stroke-opacity="0.45" stroke-width="1.1"/>
<polygon points="533.6,840.6 526.8,852.6 540.4,852.6" fill="#14a76a" fill-opacity="0.65" stroke="#585858" stroke-width="1.5" stroke-linejoin="miter"/>
<line x1="533.6" y1="844.2" x2="533.6" y2="852.2" stroke="#000" stroke-opacity="0.45" stroke-width="1.1"/>
<polygon points="547.8,805.6 541,817.6 554.6,817.6" fill="#14a76a" fill-opacity="0.65" stroke="#585858" stroke-width="1.5" stroke-linejoin="miter"/>
<line x1="547.8" y1="809.2" x2="547.8" y2="817.2" stroke="#000" stroke-opacity="0.45" stroke-width="1.1"/>
<polygon points="562,790.6 555.2,802.6 568.8,802.6" fill="#14a76a" fill-opacity="0.65" stroke="#585858" stroke-width="1.5" stroke-linejoin="miter"/>
<line x1="562" y1="794.2" x2="562" y2="802.2" stroke="#000" stroke-opacity="0.45" stroke-width="1.1"/>
<polygon points="576.2,753 569.4,765 583,765" fill="#14a76a" fill-opacity="0.65" stroke="#585858" stroke-width="1.5" stroke-linejoin="miter"/>
<line x1="576.2" y1="756.6" x2="576.2" y2="764.6" stroke="#000" stroke-opacity="0.45" stroke-width="1.1"/>
<polygon points="590.4,714.3 583.6,726.3 597.2,726.3" fill="#14a76a" fill-opacity="0.65" stroke="#585858" stroke-width="1.5" stroke-linejoin="miter"/>
<line x1="590.4" y1="717.9" x2="590.4" y2="725.9" stroke="#000" stroke-opacity="0.45" stroke-width="1.1"/>
<polygon points="604.6,709.1 597.9,721.1 611.4,721.1" fill="#14a76a" fill-opacity="0.65" stroke="#585858" stroke-width="1.5" stroke-linejoin="miter"/>
<line x1="604.6" y1="712.7" x2="604.6" y2="720.7" stroke="#000" stroke-opacity="0.45" stroke-width="1.1"/>
<polygon points="618.9,699 612.1,711 625.7,711" fill="#14a76a" fill-opacity="0.65" stroke="#585858" stroke-width="1.5" stroke-linejoin="miter"/>
<line x1="618.9" y1="702.6" x2="618.9" y2="710.6" stroke="#000" stroke-opacity="0.45" stroke-width="1.1"/>
<polygon points="633.1,715.4 626.3,727.4 639.9,727.4" fill="#14a76a" fill-opacity="0.65" stroke="#585858" stroke-width="1.5" stroke-linejoin="miter"/>
<line x1="633.1" y1="719" x2="633.1" y2="727" stroke="#000" stroke-opacity="0.45" stroke-width="1.1"/>
<polygon points="647.3,751 640.5,763 654.1,763" fill="#14a76a" fill-opacity="0.65" stroke="#585858" stroke-width="1.5" stroke-linejoin="miter"/>
<line x1="647.3" y1="754.6" x2="647.3" y2="762.6" stroke="#000" stroke-opacity="0.45" stroke-width="1.1"/>
<polygon points="661.5,753.6 654.7,765.6 668.3,765.6" fill="#14a76a" fill-opacity="0.65" stroke="#585858" stroke-width="1.5" stroke-linejoin="miter"/>
<line x1="661.5" y1="757.2" x2="661.5" y2="765.2" stroke="#000" stroke-opacity="0.45" stroke-width="1.1"/>
<polygon points="675.7,783.6 668.9,795.6 682.5,795.6" fill="#14a76a" fill-opacity="0.65" stroke="#585858" stroke-width="1.5" stroke-linejoin="miter"/>
<line x1="675.7" y1="787.2" x2="675.7" y2="795.2" stroke="#000" stroke-opacity="0.45" stroke-width="1.1"/>
<polygon points="689.9,808.2 683.1,820.2 696.7,820.2" fill="#14a76a" fill-opacity="0.65" stroke="#585858" stroke-width="1.5" stroke-linejoin="miter"/>
<line x1="689.9" y1="811.8" x2="689.9" y2="819.8" stroke="#000" stroke-opacity="0.45" stroke-width="1.1"/>
<polygon points="704.1,814.6 697.3,826.6 710.9,826.6" fill="#14a76a" fill-opacity="0.65" stroke="#585858" stroke-width="1.5" stroke-linejoin="miter"/>
<line x1="704.1" y1="818.2" x2="704.1" y2="826.2" stroke="#000" stroke-opacity="0.45" stroke-width="1.1"/>
<polygon points="718.3,769.2 711.5,781.2 725.1,781.2" fill="#14a76a" fill-opacity="0.65" stroke="#585858" stroke-width="1.5" stroke-linejoin="miter"/>
<line x1="718.3" y1="772.8" x2="718.3" y2="780.8" stroke="#000" stroke-opacity="0.45" stroke-width="1.1"/>
<polygon points="732.5,768 725.7,780 739.3,780" fill="#14a76a" fill-opacity="0.65" stroke="#585858" stroke-width="1.5" stroke-linejoin="miter"/>
<line x1="732.5" y1="771.6" x2="732.5" y2="779.6" stroke="#000" stroke-opacity="0.45" stroke-width="1.1"/>
<polygon points="746.8,735.1 740,747.1 753.5,747.1" fill="#14a76a" fill-opacity="0.65" stroke="#585858" stroke-width="1.5" stroke-linejoin="miter"/>
<line x1="746.8" y1="738.7" x2="746.8" y2="746.7" stroke="#000" stroke-opacity="0.45" stroke-width="1.1"/>
<polygon points="761,724.1 754.2,736.1 767.8,736.1" fill="#14a76a" fill-opacity="0.65" stroke="#585858" stroke-width="1.5" stroke-linejoin="miter"/>
<line x1="761" y1="727.7" x2="761" y2="735.7" stroke="#000" stroke-opacity="0.45" stroke-width="1.1"/>
<polygon points="775.2,696.4 768.4,708.4 782,708.4" fill="#14a76a" fill-opacity="0.65" stroke="#585858" stroke-width="1.5" stroke-linejoin="miter"/>
<line x1="775.2" y1="700" x2="775.2" y2="708" stroke="#000" stroke-opacity="0.45" stroke-width="1.1"/>
<polygon points="789.4,703.9 782.6,715.9 796.2,715.9" fill="#14a76a" fill-opacity="0.65" stroke="#585858" stroke-width="1.5" stroke-linejoin="miter"/>
<line x1="789.4" y1="707.5" x2="789.4" y2="715.5" stroke="#000" stroke-opacity="0.45" stroke-width="1.1"/>
<polygon points="803.6,696.4 796.8,708.4 810.4,708.4" fill="#14a76a" fill-opacity="0.65" stroke="#585858" stroke-width="1.5" stroke-linejoin="miter"/>
<line x1="803.6" y1="700" x2="803.6" y2="708" stroke="#000" stroke-opacity="0.45" stroke-width="1.1"/>
<polygon points="817.8,711.1 811,723.1 824.6,723.1" fill="#14a76a" fill-opacity="0.65" stroke="#585858" stroke-width="1.5" stroke-linejoin="miter"/>
<line x1="817.8" y1="714.7" x2="817.8" y2="722.7" stroke="#000" stroke-opacity="0.45" stroke-width="1.1"/>
<g clip-path="url(#cl)">
<polygon points="107.8,807.1 122.7,810.6 136.9,817.7 147.5,828.3 158.1,840.7 168.8,854.9 179.4,869.1 190,881.5 200.6,893.9 211.3,904.5 221.9,913.3 232.5,916.9 241.4,913.3 250.2,904.5 255,898 260.6,881.5 271.3,867.3 281.9,853.1 292.5,840.7 303.1,831.9 313.8,826.6 324.4,823 335,820.4 345.6,821.3 356.3,823.9 366.9,826.6 377.5,830.1 388.1,835.4 400,843.4 410.6,851.4 421.3,862 431.9,869.9 442.5,874.4 448.7,877.9 454.9,873.5 463.8,871.7 474.4,865.5 485,856.7 495.6,847.8 506.3,839 516.9,830.1 527.5,824.8 538.1,822.1 550,820.9 560.6,819.8 571.3,820.9 581.9,823 592.5,826.6 603.1,830.1 613.8,833.6 624.4,838.1 635,842.5 645.6,847.8 656.3,853.1 666.9,855.8 677.5,854.9 688.1,854.9 697,851.4 707.6,847.8 718.3,844.3 728.9,839.8 739.5,837.2 750.1,835.4 760.8,831.9 771.4,830.1 782,829.2 792.6,828.3 803.3,828.3 817.8,831 817.8,896.5 799.7,896.5 789.1,897 778.5,898.3 767.8,900.9 757.2,904.5 746.6,909.8 732.4,915.1 716,918.5 700,922.2 688.1,924 677.5,924.8 666.9,924 656.3,920.4 645.6,916.9 635,911.6 624.4,906.3 613.8,899.2 603.1,892.1 592.5,886.8 581.9,883.2 571.3,880.6 560.6,878.8 550,881.5 538.1,884.1 527.5,886.8 516.9,892.1 506.3,899.2 495.6,906.3 485,909.8 474.4,913.3 462,916.9 447.8,920.4 430,919 415,914 400,906.3 388.1,895.6 377.5,885 366.9,874.4 356.3,867.3 345.6,865.5 335,864.6 324.4,867.3 313.8,870.8 303.1,874.4 292.5,883.2 281.9,895.6 271.3,909.8 260.6,924 250,936 246.7,938.1 239.6,940.8 229,939 218.3,934.6 207.7,927.5 197.1,918.6 186.5,908 175.8,895.6 165.2,883.2 154.6,870.8 144,858.4 133.3,850.5 122.7,846 107.8,843.4" fill="#1e78be" fill-opacity="0.2"/>
<line x1="107.3" y1="826.6" x2="817.9" y2="826.6" stroke="#1e78be" stroke-opacity="0.68" stroke-width="3.9" stroke-dasharray="10.9,7.04,3.97,7.04" stroke-dashoffset="0"/>
<path d="M107.8,826.2 C110.3,826.6 117.8,826.9 122.7,828.3 C127.6,829.7 132.5,832.1 136.9,834.5 C141.3,836.9 145.2,839.1 149.3,842.5 C153.4,845.9 157.9,850.8 161.7,854.9 C165.5,859 168.8,863.2 172.3,867.3 C175.8,871.4 179.4,875.3 182.9,879.7 C186.4,884.1 189.9,889.5 193.5,893.9 C197.1,898.3 200.6,902.2 204.2,906.3 C207.8,910.4 211.3,915.5 214.8,918.6 C218.3,921.7 222.2,923.5 225.4,924.8 C228.7,926 231.4,926.5 234.3,926.1 C237.2,925.7 240.2,924.6 243.1,922.2 C246,919.8 249.1,915.2 252,911.6 C254.9,908 257.4,904.8 260.6,900.9 C263.8,897 267.8,892.6 271.3,888.5 C274.9,884.4 278.4,879.9 281.9,876.1 C285.4,872.3 289,868.7 292.5,865.5 C296,862.3 299.6,859.4 303.1,856.7 C306.7,854.1 310.2,851.5 313.8,849.6 C317.4,847.7 320.9,846.4 324.4,845.2 C327.9,844 331.5,843 335,842.5 C338.5,842 342.1,842 345.6,842.5 C349.2,843 352.8,844 356.3,845.2 C359.9,846.4 363.4,847.8 366.9,849.6 C370.4,851.4 374,853.6 377.5,855.8 C381,858 384.4,860.2 388.1,862.9 C391.9,865.6 396.2,869.4 400,872 C403.8,874.6 407.1,876.3 410.6,878.8 C414.2,881.3 417.8,884.3 421.3,886.8 C424.9,889.3 428.4,891.8 431.9,893.9 C435.4,896 439,898 442.5,899.2 C446,900.4 449.6,901 453.1,900.9 C456.7,900.8 460.2,899.8 463.8,898.3 C467.4,896.8 470.9,894.6 474.4,892.1 C477.9,889.6 481.5,886.2 485,883.2 C488.5,880.2 492.1,877.4 495.6,874.4 C499.2,871.4 502.8,868.5 506.3,865.5 C509.9,862.5 513.4,859.2 516.9,856.7 C520.4,854.2 524,852.3 527.5,850.5 C531,848.7 534.4,847.3 538.1,846 C541.9,844.7 546.2,843.2 550,842.5 C553.8,841.8 557.1,841.6 560.6,841.6 C564.1,841.6 567.8,841.9 571.3,842.5 C574.8,843.1 578.4,844 581.9,845.2 C585.4,846.4 589,847.8 592.5,849.6 C596,851.4 599.6,853.4 603.1,855.8 C606.6,858.2 610.2,861 613.8,863.8 C617.3,866.6 620.9,869.6 624.4,872.6 C627.9,875.6 631.5,878.5 635,881.5 C638.5,884.5 642.1,887.3 645.6,890.3 C649.1,893.2 652.8,896.2 656.3,899.2 C659.8,902.2 663.4,905.5 666.9,908 C670.4,910.5 674,913 677.5,914.2 C681,915.4 684.7,915.9 688.1,915.1 C691.5,914.3 694.8,911.9 698,909.5 C701.2,907.1 704.2,904.1 707.6,900.9 C711,897.7 714.8,893.8 718.3,890.3 C721.8,886.8 725.4,883 728.9,879.7 C732.4,876.5 736,873.6 739.5,870.8 C743,868 746.6,865.4 750.1,862.9 C753.6,860.4 757.2,857.9 760.8,855.8 C764.3,853.7 767.9,852.1 771.4,850.5 C774.9,848.9 778.5,847.4 782,846.4 C785.5,845.4 789.1,844.6 792.6,844.3 C796.1,843.9 799.8,844.1 803.3,844.3 C806.8,844.5 811.5,845.4 813.9,845.7 C816.3,846.1 817.1,846.3 817.8,846.4" fill="none" stroke="#1e78be" stroke-opacity="0.72" stroke-width="5.4" stroke-linejoin="round"/>
<path d="M107.8,826.2 C112.7,827.6 127.9,829.7 136.9,834.5 C145.9,839.3 154,847.4 161.7,854.9 C169.4,862.4 175.8,871.1 182.9,879.7 C190,888.3 198,899.6 204.2,906.3 C210.4,913 215.4,917 220,920 C224.6,923 228,924.3 232,924 C236,923.7 240,921.5 244,918 C248,914.5 251.7,908.2 256,903 C260.3,897.8 265.2,892.2 270,887 C274.8,881.8 280,876.5 285,872 C290,867.5 295,863.5 300,860 C305,856.5 310,853.3 315,851 C320,848.7 325,847 330,846 C335,845 340,844.7 345,845 C350,845.3 354.2,846 360,848 C365.8,850 373.3,853.5 380,857 C386.7,860.5 393.3,864.8 400,869 C406.7,873.2 413.3,878.2 420,882 C426.7,885.8 434.2,889.8 440,892 C445.8,894.2 450,895.2 455,895 C460,894.8 465,893.2 470,891 C475,888.8 480,885.2 485,882 C490,878.8 495,875.3 500,872 C505,868.7 510,864.8 515,862 C520,859.2 524.2,856.8 530,855 C535.8,853.2 544.9,852.4 550,851.4 C555.1,850.4 556.9,849.1 560.6,848.7 C564.3,848.3 567.9,848.3 572,849 C576.1,849.7 580.2,850.9 585.4,853.1 C590.6,855.3 597.2,858.8 603.1,862 C609,865.2 614.9,869.4 620.8,872.6 C626.7,875.9 632.6,879.1 638.5,881.5 C644.4,883.9 650.4,885.5 656.3,886.8 C662.2,888.1 669.6,889 674,889.4 C678.4,889.8 679,889.7 682.8,889.4 C686.6,889.1 691.7,888.7 697,887.7 C702.3,886.7 708.8,885.1 714.7,883.2 C720.6,881.3 726.5,878.3 732.4,876.1 C738.3,873.9 744.2,871.8 750.1,869.9 C756,868 761.9,865.9 767.8,864.6 C773.7,863.3 779.6,862.6 785.5,862 C791.4,861.4 797.9,860.8 803.3,861.1 C808.7,861.4 815.4,863.3 817.8,863.8" fill="none" stroke="#1e78be" stroke-opacity="0.9" stroke-width="1.7" stroke-dasharray="1.7,3.5"/>
<path d="M149.9,837.8 V849.6 M142.7,837.8 H157.1 M142.7,849.6 H157.1" stroke="#1e78be" stroke-opacity="0.75" stroke-width="1.2" fill="none"/>
<path d="M164.1,858.9 V870.7 M156.9,858.9 H171.3 M156.9,870.7 H171.3" stroke="#1e78be" stroke-opacity="0.75" stroke-width="1.2" fill="none"/>
<path d="M178.4,879.4 V891.2 M171.2,879.4 H185.6 M171.2,891.2 H185.6" stroke="#1e78be" stroke-opacity="0.75" stroke-width="1.2" fill="none"/>
<path d="M192.6,882.3 V894.1 M185.4,882.3 H199.8 M185.4,894.1 H199.8" stroke="#1e78be" stroke-opacity="0.75" stroke-width="1.2" fill="none"/>
<path d="M206.8,891.6 V903.4 M199.6,891.6 H214 M199.6,903.4 H214" stroke="#1e78be" stroke-opacity="0.75" stroke-width="1.2" fill="none"/>
<path d="M221,917.6 V929.4 M213.8,917.6 H228.2 M213.8,929.4 H228.2" stroke="#1e78be" stroke-opacity="0.75" stroke-width="1.2" fill="none"/>
<path d="M235.2,919.6 V931.4 M228,919.6 H242.4 M228,931.4 H242.4" stroke="#1e78be" stroke-opacity="0.75" stroke-width="1.2" fill="none"/>
<path d="M249.4,908.3 V920.1 M242.2,908.3 H256.6 M242.2,920.1 H256.6" stroke="#1e78be" stroke-opacity="0.75" stroke-width="1.2" fill="none"/>
<path d="M263.6,897.3 V909.1 M256.4,897.3 H270.8 M256.4,909.1 H270.8" stroke="#1e78be" stroke-opacity="0.75" stroke-width="1.2" fill="none"/>
<path d="M277.8,897.6 V909.4 M270.6,897.6 H285 M270.6,909.4 H285" stroke="#1e78be" stroke-opacity="0.75" stroke-width="1.2" fill="none"/>
<path d="M292,889 V900.8 M284.8,889 H299.2 M284.8,900.8 H299.2" stroke="#1e78be" stroke-opacity="0.75" stroke-width="1.2" fill="none"/>
<path d="M306.2,879.7 V891.5 M299,879.7 H313.4 M299,891.5 H313.4" stroke="#1e78be" stroke-opacity="0.75" stroke-width="1.2" fill="none"/>
<path d="M320.4,885.5 V897.3 M313.2,885.5 H327.6 M313.2,897.3 H327.6" stroke="#1e78be" stroke-opacity="0.75" stroke-width="1.2" fill="none"/>
<path d="M334.7,884.3 V896.1 M327.5,884.3 H341.9 M327.5,896.1 H341.9" stroke="#1e78be" stroke-opacity="0.75" stroke-width="1.2" fill="none"/>
<path d="M348.9,875.4 V887.2 M341.7,875.4 H356.1 M341.7,887.2 H356.1" stroke="#1e78be" stroke-opacity="0.75" stroke-width="1.2" fill="none"/>
<path d="M363.1,891.6 V903.4 M355.9,891.6 H370.3 M355.9,903.4 H370.3" stroke="#1e78be" stroke-opacity="0.75" stroke-width="1.2" fill="none"/>
<path d="M377.3,883.8 V895.6 M370.1,883.8 H384.5 M370.1,895.6 H384.5" stroke="#1e78be" stroke-opacity="0.75" stroke-width="1.2" fill="none"/>
<path d="M391.5,900.5 V912.3 M384.3,900.5 H398.7 M384.3,912.3 H398.7" stroke="#1e78be" stroke-opacity="0.75" stroke-width="1.2" fill="none"/>
<path d="M405.7,894.2 V906 M398.5,894.2 H412.9 M398.5,906 H412.9" stroke="#1e78be" stroke-opacity="0.75" stroke-width="1.2" fill="none"/>
<path d="M419.9,905.7 V917.5 M412.7,905.7 H427.1 M412.7,917.5 H427.1" stroke="#1e78be" stroke-opacity="0.75" stroke-width="1.2" fill="none"/>
<path d="M434.1,900.2 V912 M426.9,900.2 H441.3 M426.9,912 H441.3" stroke="#1e78be" stroke-opacity="0.75" stroke-width="1.2" fill="none"/>
<path d="M448.3,903.7 V915.5 M441.1,903.7 H455.5 M441.1,915.5 H455.5" stroke="#1e78be" stroke-opacity="0.75" stroke-width="1.2" fill="none"/>
<path d="M462.6,915.8 V927.6 M455.4,915.8 H469.8 M455.4,927.6 H469.8" stroke="#1e78be" stroke-opacity="0.75" stroke-width="1.2" fill="none"/>
<path d="M476.8,889.8 V901.6 M469.6,889.8 H484 M469.6,901.6 H484" stroke="#1e78be" stroke-opacity="0.75" stroke-width="1.2" fill="none"/>
<path d="M491,905.7 V917.5 M483.8,905.7 H498.2 M483.8,917.5 H498.2" stroke="#1e78be" stroke-opacity="0.75" stroke-width="1.2" fill="none"/>
<path d="M505.2,876 V887.8 M498,876 H512.4 M498,887.8 H512.4" stroke="#1e78be" stroke-opacity="0.75" stroke-width="1.2" fill="none"/>
<path d="M519.4,884.9 V896.7 M512.2,884.9 H526.6 M512.2,896.7 H526.6" stroke="#1e78be" stroke-opacity="0.75" stroke-width="1.2" fill="none"/>
<path d="M533.6,869 V880.8 M526.4,869 H540.8 M526.4,880.8 H540.8" stroke="#1e78be" stroke-opacity="0.75" stroke-width="1.2" fill="none"/>
<path d="M547.8,853.4 V865.2 M540.6,853.4 H555 M540.6,865.2 H555" stroke="#1e78be" stroke-opacity="0.75" stroke-width="1.2" fill="none"/>
<path d="M562,862.9 V874.7 M554.8,862.9 H569.2 M554.8,874.7 H569.2" stroke="#1e78be" stroke-opacity="0.75" stroke-width="1.2" fill="none"/>
<path d="M576.2,860.3 V872.1 M569,860.3 H583.4 M569,872.1 H583.4" stroke="#1e78be" stroke-opacity="0.75" stroke-width="1.2" fill="none"/>
<path d="M590.4,860.3 V872.1 M583.2,860.3 H597.6 M583.2,872.1 H597.6" stroke="#1e78be" stroke-opacity="0.75" stroke-width="1.2" fill="none"/>
<path d="M604.6,892.4 V904.2 M597.4,892.4 H611.9 M597.4,904.2 H611.9" stroke="#1e78be" stroke-opacity="0.75" stroke-width="1.2" fill="none"/>
<path d="M618.9,891.6 V903.4 M611.7,891.6 H626.1 M611.7,903.4 H626.1" stroke="#1e78be" stroke-opacity="0.75" stroke-width="1.2" fill="none"/>
<path d="M633.1,900.5 V912.3 M625.9,900.5 H640.3 M625.9,912.3 H640.3" stroke="#1e78be" stroke-opacity="0.75" stroke-width="1.2" fill="none"/>
<path d="M647.3,916.1 V927.9 M640.1,916.1 H654.5 M640.1,927.9 H654.5" stroke="#1e78be" stroke-opacity="0.75" stroke-width="1.2" fill="none"/>
<path d="M661.5,917.6 V929.4 M654.3,917.6 H668.7 M654.3,929.4 H668.7" stroke="#1e78be" stroke-opacity="0.75" stroke-width="1.2" fill="none"/>
<path d="M675.7,936.9 V948.7 M668.5,936.9 H682.9 M668.5,948.7 H682.9" stroke="#1e78be" stroke-opacity="0.75" stroke-width="1.2" fill="none"/>
<path d="M689.9,934 V945.8 M682.7,934 H697.1 M682.7,945.8 H697.1" stroke="#1e78be" stroke-opacity="0.75" stroke-width="1.2" fill="none"/>
<path d="M704.1,945.9 V957.7 M696.9,945.9 H711.3 M696.9,957.7 H711.3" stroke="#1e78be" stroke-opacity="0.75" stroke-width="1.2" fill="none"/>
<path d="M718.3,931.1 V942.9 M711.1,931.1 H725.5 M711.1,942.9 H725.5" stroke="#1e78be" stroke-opacity="0.75" stroke-width="1.2" fill="none"/>
<path d="M732.5,924.5 V936.3 M725.3,924.5 H739.7 M725.3,936.3 H739.7" stroke="#1e78be" stroke-opacity="0.75" stroke-width="1.2" fill="none"/>
<path d="M746.8,916.7 V928.5 M739.5,916.7 H754 M739.5,928.5 H754" stroke="#1e78be" stroke-opacity="0.75" stroke-width="1.2" fill="none"/>
<path d="M761,894.7 V906.5 M753.8,894.7 H768.2 M753.8,906.5 H768.2" stroke="#1e78be" stroke-opacity="0.75" stroke-width="1.2" fill="none"/>
<path d="M775.2,873.9 V885.7 M768,873.9 H782.4 M768,885.7 H782.4" stroke="#1e78be" stroke-opacity="0.75" stroke-width="1.2" fill="none"/>
<path d="M789.4,876.5 V888.3 M782.2,876.5 H796.6 M782.2,888.3 H796.6" stroke="#1e78be" stroke-opacity="0.75" stroke-width="1.2" fill="none"/>
<path d="M803.6,890.7 V902.5 M796.4,890.7 H810.8 M796.4,902.5 H810.8" stroke="#1e78be" stroke-opacity="0.75" stroke-width="1.2" fill="none"/>
<path d="M817.8,867.3 V879.1 M810.6,867.3 H825 M810.6,879.1 H825" stroke="#1e78be" stroke-opacity="0.75" stroke-width="1.2" fill="none"/>
</g>
<polygon points="149.9,836.1 155.7,843.7 149.9,851.3 144.1,843.7" fill="#1e78be" fill-opacity="0.66" stroke="#585858" stroke-width="1.5"/>
<line x1="149.9" y1="837.8" x2="149.9" y2="849.6" stroke="#14609c" stroke-opacity="0.85" stroke-width="1.6"/>
<polygon points="164.1,857.2 169.9,864.8 164.1,872.4 158.3,864.8" fill="#1e78be" fill-opacity="0.66" stroke="#585858" stroke-width="1.5"/>
<line x1="164.1" y1="858.9" x2="164.1" y2="870.7" stroke="#14609c" stroke-opacity="0.85" stroke-width="1.6"/>
<polygon points="178.4,877.7 184.2,885.3 178.4,892.9 172.6,885.3" fill="#1e78be" fill-opacity="0.66" stroke="#585858" stroke-width="1.5"/>
<line x1="178.4" y1="879.4" x2="178.4" y2="891.2" stroke="#14609c" stroke-opacity="0.85" stroke-width="1.6"/>
<polygon points="192.6,880.6 198.4,888.2 192.6,895.8 186.8,888.2" fill="#1e78be" fill-opacity="0.66" stroke="#585858" stroke-width="1.5"/>
<line x1="192.6" y1="882.3" x2="192.6" y2="894.1" stroke="#14609c" stroke-opacity="0.85" stroke-width="1.6"/>
<polygon points="206.8,889.9 212.6,897.5 206.8,905.1 201,897.5" fill="#1e78be" fill-opacity="0.66" stroke="#585858" stroke-width="1.5"/>
<line x1="206.8" y1="891.6" x2="206.8" y2="903.4" stroke="#14609c" stroke-opacity="0.85" stroke-width="1.6"/>
<polygon points="221,915.9 226.8,923.5 221,931.1 215.2,923.5" fill="#1e78be" fill-opacity="0.66" stroke="#585858" stroke-width="1.5"/>
<line x1="221" y1="917.6" x2="221" y2="929.4" stroke="#14609c" stroke-opacity="0.85" stroke-width="1.6"/>
<polygon points="235.2,917.9 241,925.5 235.2,933.1 229.4,925.5" fill="#1e78be" fill-opacity="0.66" stroke="#585858" stroke-width="1.5"/>
<line x1="235.2" y1="919.6" x2="235.2" y2="931.4" stroke="#14609c" stroke-opacity="0.85" stroke-width="1.6"/>
<polygon points="249.4,906.6 255.2,914.2 249.4,921.8 243.6,914.2" fill="#1e78be" fill-opacity="0.66" stroke="#585858" stroke-width="1.5"/>
<line x1="249.4" y1="908.3" x2="249.4" y2="920.1" stroke="#14609c" stroke-opacity="0.85" stroke-width="1.6"/>
<polygon points="263.6,895.6 269.4,903.2 263.6,910.8 257.8,903.2" fill="#1e78be" fill-opacity="0.66" stroke="#585858" stroke-width="1.5"/>
<line x1="263.6" y1="897.3" x2="263.6" y2="909.1" stroke="#14609c" stroke-opacity="0.85" stroke-width="1.6"/>
<polygon points="277.8,895.9 283.6,903.5 277.8,911.1 272,903.5" fill="#1e78be" fill-opacity="0.66" stroke="#585858" stroke-width="1.5"/>
<line x1="277.8" y1="897.6" x2="277.8" y2="909.4" stroke="#14609c" stroke-opacity="0.85" stroke-width="1.6"/>
<polygon points="292,887.3 297.8,894.9 292,902.5 286.2,894.9" fill="#1e78be" fill-opacity="0.66" stroke="#585858" stroke-width="1.5"/>
<line x1="292" y1="889" x2="292" y2="900.8" stroke="#14609c" stroke-opacity="0.85" stroke-width="1.6"/>
<polygon points="306.2,878 312,885.6 306.2,893.2 300.4,885.6" fill="#1e78be" fill-opacity="0.66" stroke="#585858" stroke-width="1.5"/>
<line x1="306.2" y1="879.7" x2="306.2" y2="891.5" stroke="#14609c" stroke-opacity="0.85" stroke-width="1.6"/>
<polygon points="320.4,883.8 326.2,891.4 320.4,899 314.6,891.4" fill="#1e78be" fill-opacity="0.66" stroke="#585858" stroke-width="1.5"/>
<line x1="320.4" y1="885.5" x2="320.4" y2="897.3" stroke="#14609c" stroke-opacity="0.85" stroke-width="1.6"/>
<polygon points="334.7,882.6 340.5,890.2 334.7,897.8 328.9,890.2" fill="#1e78be" fill-opacity="0.66" stroke="#585858" stroke-width="1.5"/>
<line x1="334.7" y1="884.3" x2="334.7" y2="896.1" stroke="#14609c" stroke-opacity="0.85" stroke-width="1.6"/>
<polygon points="348.9,873.7 354.7,881.3 348.9,888.9 343.1,881.3" fill="#1e78be" fill-opacity="0.66" stroke="#585858" stroke-width="1.5"/>
<line x1="348.9" y1="875.4" x2="348.9" y2="887.2" stroke="#14609c" stroke-opacity="0.85" stroke-width="1.6"/>
<polygon points="363.1,889.9 368.9,897.5 363.1,905.1 357.3,897.5" fill="#1e78be" fill-opacity="0.66" stroke="#585858" stroke-width="1.5"/>
<line x1="363.1" y1="891.6" x2="363.1" y2="903.4" stroke="#14609c" stroke-opacity="0.85" stroke-width="1.6"/>
<polygon points="377.3,882.1 383.1,889.7 377.3,897.3 371.5,889.7" fill="#1e78be" fill-opacity="0.66" stroke="#585858" stroke-width="1.5"/>
<line x1="377.3" y1="883.8" x2="377.3" y2="895.6" stroke="#14609c" stroke-opacity="0.85" stroke-width="1.6"/>
<polygon points="391.5,898.8 397.3,906.4 391.5,914 385.7,906.4" fill="#1e78be" fill-opacity="0.66" stroke="#585858" stroke-width="1.5"/>
<line x1="391.5" y1="900.5" x2="391.5" y2="912.3" stroke="#14609c" stroke-opacity="0.85" stroke-width="1.6"/>
<polygon points="405.7,892.5 411.5,900.1 405.7,907.7 399.9,900.1" fill="#1e78be" fill-opacity="0.66" stroke="#585858" stroke-width="1.5"/>
<line x1="405.7" y1="894.2" x2="405.7" y2="906" stroke="#14609c" stroke-opacity="0.85" stroke-width="1.6"/>
<polygon points="419.9,904 425.7,911.6 419.9,919.2 414.1,911.6" fill="#1e78be" fill-opacity="0.66" stroke="#585858" stroke-width="1.5"/>
<line x1="419.9" y1="905.7" x2="419.9" y2="917.5" stroke="#14609c" stroke-opacity="0.85" stroke-width="1.6"/>
<polygon points="434.1,898.5 439.9,906.1 434.1,913.7 428.3,906.1" fill="#1e78be" fill-opacity="0.66" stroke="#585858" stroke-width="1.5"/>
<line x1="434.1" y1="900.2" x2="434.1" y2="912" stroke="#14609c" stroke-opacity="0.85" stroke-width="1.6"/>
<polygon points="448.3,902 454.1,909.6 448.3,917.2 442.5,909.6" fill="#1e78be" fill-opacity="0.66" stroke="#585858" stroke-width="1.5"/>
<line x1="448.3" y1="903.7" x2="448.3" y2="915.5" stroke="#14609c" stroke-opacity="0.85" stroke-width="1.6"/>
<polygon points="462.6,914.1 468.4,921.7 462.6,929.3 456.8,921.7" fill="#1e78be" fill-opacity="0.66" stroke="#585858" stroke-width="1.5"/>
<line x1="462.6" y1="915.8" x2="462.6" y2="927.6" stroke="#14609c" stroke-opacity="0.85" stroke-width="1.6"/>
<polygon points="476.8,888.1 482.6,895.7 476.8,903.3 471,895.7" fill="#1e78be" fill-opacity="0.66" stroke="#585858" stroke-width="1.5"/>
<line x1="476.8" y1="889.8" x2="476.8" y2="901.6" stroke="#14609c" stroke-opacity="0.85" stroke-width="1.6"/>
<polygon points="491,904 496.8,911.6 491,919.2 485.2,911.6" fill="#1e78be" fill-opacity="0.66" stroke="#585858" stroke-width="1.5"/>
<line x1="491" y1="905.7" x2="491" y2="917.5" stroke="#14609c" stroke-opacity="0.85" stroke-width="1.6"/>
<polygon points="505.2,874.2 511,881.9 505.2,889.5 499.4,881.9" fill="#1e78be" fill-opacity="0.66" stroke="#585858" stroke-width="1.5"/>
<line x1="505.2" y1="876" x2="505.2" y2="887.8" stroke="#14609c" stroke-opacity="0.85" stroke-width="1.6"/>
<polygon points="519.4,883.2 525.2,890.8 519.4,898.4 513.6,890.8" fill="#1e78be" fill-opacity="0.66" stroke="#585858" stroke-width="1.5"/>
<line x1="519.4" y1="884.9" x2="519.4" y2="896.7" stroke="#14609c" stroke-opacity="0.85" stroke-width="1.6"/>
<polygon points="533.6,867.3 539.4,874.9 533.6,882.5 527.8,874.9" fill="#1e78be" fill-opacity="0.66" stroke="#585858" stroke-width="1.5"/>
<line x1="533.6" y1="869" x2="533.6" y2="880.8" stroke="#14609c" stroke-opacity="0.85" stroke-width="1.6"/>
<polygon points="547.8,851.7 553.6,859.3 547.8,866.9 542,859.3" fill="#1e78be" fill-opacity="0.66" stroke="#585858" stroke-width="1.5"/>
<line x1="547.8" y1="853.4" x2="547.8" y2="865.2" stroke="#14609c" stroke-opacity="0.85" stroke-width="1.6"/>
<polygon points="562,861.2 567.8,868.8 562,876.4 556.2,868.8" fill="#1e78be" fill-opacity="0.66" stroke="#585858" stroke-width="1.5"/>
<line x1="562" y1="862.9" x2="562" y2="874.7" stroke="#14609c" stroke-opacity="0.85" stroke-width="1.6"/>
<polygon points="576.2,858.6 582,866.2 576.2,873.8 570.4,866.2" fill="#1e78be" fill-opacity="0.66" stroke="#585858" stroke-width="1.5"/>
<line x1="576.2" y1="860.3" x2="576.2" y2="872.1" stroke="#14609c" stroke-opacity="0.85" stroke-width="1.6"/>
<polygon points="590.4,858.6 596.2,866.2 590.4,873.8 584.6,866.2" fill="#1e78be" fill-opacity="0.66" stroke="#585858" stroke-width="1.5"/>
<line x1="590.4" y1="860.3" x2="590.4" y2="872.1" stroke="#14609c" stroke-opacity="0.85" stroke-width="1.6"/>
<polygon points="604.6,890.7 610.4,898.3 604.6,905.9 598.9,898.3" fill="#1e78be" fill-opacity="0.66" stroke="#585858" stroke-width="1.5"/>
<line x1="604.6" y1="892.4" x2="604.6" y2="904.2" stroke="#14609c" stroke-opacity="0.85" stroke-width="1.6"/>
<polygon points="618.9,889.9 624.7,897.5 618.9,905.1 613.1,897.5" fill="#1e78be" fill-opacity="0.66" stroke="#585858" stroke-width="1.5"/>
<line x1="618.9" y1="891.6" x2="618.9" y2="903.4" stroke="#14609c" stroke-opacity="0.85" stroke-width="1.6"/>
<polygon points="633.1,898.8 638.9,906.4 633.1,914 627.3,906.4" fill="#1e78be" fill-opacity="0.66" stroke="#585858" stroke-width="1.5"/>
<line x1="633.1" y1="900.5" x2="633.1" y2="912.3" stroke="#14609c" stroke-opacity="0.85" stroke-width="1.6"/>
<polygon points="647.3,914.4 653.1,922 647.3,929.6 641.5,922" fill="#1e78be" fill-opacity="0.66" stroke="#585858" stroke-width="1.5"/>
<line x1="647.3" y1="916.1" x2="647.3" y2="927.9" stroke="#14609c" stroke-opacity="0.85" stroke-width="1.6"/>
<polygon points="661.5,915.9 667.3,923.5 661.5,931.1 655.7,923.5" fill="#1e78be" fill-opacity="0.66" stroke="#585858" stroke-width="1.5"/>
<line x1="661.5" y1="917.6" x2="661.5" y2="929.4" stroke="#14609c" stroke-opacity="0.85" stroke-width="1.6"/>
<polygon points="675.7,935.2 681.5,942.8 675.7,950.4 669.9,942.8" fill="#1e78be" fill-opacity="0.66" stroke="#585858" stroke-width="1.5"/>
<line x1="675.7" y1="936.9" x2="675.7" y2="948.7" stroke="#14609c" stroke-opacity="0.85" stroke-width="1.6"/>
<polygon points="689.9,932.3 695.7,939.9 689.9,947.5 684.1,939.9" fill="#1e78be" fill-opacity="0.66" stroke="#585858" stroke-width="1.5"/>
<line x1="689.9" y1="934" x2="689.9" y2="945.8" stroke="#14609c" stroke-opacity="0.85" stroke-width="1.6"/>
<polygon points="704.1,944.2 709.9,951.8 704.1,959.4 698.3,951.8" fill="#1e78be" fill-opacity="0.66" stroke="#585858" stroke-width="1.5"/>
<line x1="704.1" y1="945.9" x2="704.1" y2="957.7" stroke="#14609c" stroke-opacity="0.85" stroke-width="1.6"/>
<polygon points="718.3,929.4 724.1,937 718.3,944.6 712.5,937" fill="#1e78be" fill-opacity="0.66" stroke="#585858" stroke-width="1.5"/>
<line x1="718.3" y1="931.1" x2="718.3" y2="942.9" stroke="#14609c" stroke-opacity="0.85" stroke-width="1.6"/>
<polygon points="732.5,922.8 738.3,930.4 732.5,938 726.7,930.4" fill="#1e78be" fill-opacity="0.66" stroke="#585858" stroke-width="1.5"/>
<line x1="732.5" y1="924.5" x2="732.5" y2="936.3" stroke="#14609c" stroke-opacity="0.85" stroke-width="1.6"/>
<polygon points="746.8,915 752.5,922.6 746.8,930.2 741,922.6" fill="#1e78be" fill-opacity="0.66" stroke="#585858" stroke-width="1.5"/>
<line x1="746.8" y1="916.7" x2="746.8" y2="928.5" stroke="#14609c" stroke-opacity="0.85" stroke-width="1.6"/>
<polygon points="761,893 766.8,900.6 761,908.2 755.2,900.6" fill="#1e78be" fill-opacity="0.66" stroke="#585858" stroke-width="1.5"/>
<line x1="761" y1="894.7" x2="761" y2="906.5" stroke="#14609c" stroke-opacity="0.85" stroke-width="1.6"/>
<polygon points="775.2,872.2 781,879.8 775.2,887.4 769.4,879.8" fill="#1e78be" fill-opacity="0.66" stroke="#585858" stroke-width="1.5"/>
<line x1="775.2" y1="873.9" x2="775.2" y2="885.7" stroke="#14609c" stroke-opacity="0.85" stroke-width="1.6"/>
<polygon points="789.4,874.8 795.2,882.4 789.4,890 783.6,882.4" fill="#1e78be" fill-opacity="0.66" stroke="#585858" stroke-width="1.5"/>
<line x1="789.4" y1="876.5" x2="789.4" y2="888.3" stroke="#14609c" stroke-opacity="0.85" stroke-width="1.6"/>
<polygon points="803.6,889 809.4,896.6 803.6,904.2 797.8,896.6" fill="#1e78be" fill-opacity="0.66" stroke="#585858" stroke-width="1.5"/>
<line x1="803.6" y1="890.7" x2="803.6" y2="902.5" stroke="#14609c" stroke-opacity="0.85" stroke-width="1.6"/>
<polygon points="817.8,865.6 823.6,873.2 817.8,880.8 812,873.2" fill="#1e78be" fill-opacity="0.66" stroke="#585858" stroke-width="1.5"/>
<line x1="817.8" y1="867.3" x2="817.8" y2="879.1" stroke="#14609c" stroke-opacity="0.85" stroke-width="1.6"/>
<g clip-path="url(#cl)">
<polygon points="107.3,916.5 123.8,907.9 138.1,904.1 152.6,906.7 166.8,913.6 181.3,921.4 195.7,930.4 210,939.4 224.4,948.3 238.9,956.1 253.1,960.2 267.6,959 281.9,953.2 296.3,944.3 310.6,936.5 325.1,930.4 339.3,925.5 358.7,922.6 377.9,920.9 406.6,920 435.4,920.6 452.9,920.9 477.3,922.3 501.8,925.2 526.2,928.4 550.5,930.4 575,931.3 599.4,932.4 623.8,933.3 648.4,933 672.9,931.3 697.2,928.4 721.6,925.2 746,923.2 770.5,922.3 794.8,922.9 817.8,923.2 817.8,947.2 794.8,946.6 770.5,946.6 746,947.5 721.6,948.6 697.2,950.6 672.9,951.5 648.4,952.9 623.8,952.9 599.4,952.1 575,951.5 550.5,950.6 526.2,949.5 501.8,947.5 477.3,944.6 452.9,941.4 435.4,940.2 406.6,939.4 377.9,939.9 353.8,940.2 334.7,942.3 320.2,946.3 305.8,952.1 291.3,959 277.1,966.2 262.6,970 253.1,969.7 238.9,966.2 224.4,961 210,954.1 195.7,947.2 181.3,939.4 166.8,931.3 152.6,925.5 138.1,922.6 123.8,925.2 107.3,933.9" fill="#0000ff" fill-opacity="0.2"/>
<line x1="107.3" y1="927.1" x2="817.9" y2="927.1" stroke="#0000ff" stroke-opacity="0.65" stroke-width="3.9" stroke-dasharray="10.9,7.04,3.97,7.04" stroke-dashoffset="0"/>
<path d="M107.3,922.9 C109.7,921.8 116.5,917.9 121.5,916.5 C126.5,915.2 132.2,914.7 137.1,914.8 C142.1,914.9 146.5,915.8 151.4,917.1 C156.2,918.4 161.4,920.5 166.3,922.6 C171.1,924.7 175.7,927.1 180.5,929.5 C185.2,931.9 190,934.4 194.7,937 C199.4,939.6 204,942.3 208.9,945.1 C213.9,948 219.4,951.5 224.4,954.1 C229.4,956.7 234.1,959.2 238.9,961 C243.7,962.9 248.7,964.3 253.1,965.1 C257.5,965.9 261,966.1 265,965.7 C269,965.2 272.7,964.1 277.1,962.2 C281.5,960.3 286.5,956.6 291.3,954.1 C296.1,951.6 301,949.3 305.8,947.2 C310.6,945 315.4,943.2 320.2,941.4 C325,939.6 329.9,937.8 334.7,936.5 C339.4,935.1 343.3,934.2 348.9,933.3 C354.5,932.4 361.8,931.6 368.2,931 C374.6,930.4 379.3,929.9 387.2,929.5 C395.1,929.2 406.1,929 415.7,929 C425.2,929 438.6,929.3 444.8,929.5 C450.9,929.8 447.2,929.7 452.6,930.4 C458,931.1 469.1,932.6 477.3,933.9 C485.5,935.2 493.6,937 501.8,938.2 C509.9,939.5 518.1,940.5 526.2,941.4 C534.3,942.3 542,942.9 550.5,943.4 C559,944 567.8,944.2 577.1,944.7 C586.4,945.1 596.6,945.9 606.4,946.2 C616.1,946.5 625.9,946.7 635.6,946.5 C645.4,946.2 654.9,945.7 664.9,944.6 C674.9,943.4 685.7,941.1 695.6,939.4 C705.4,937.6 714.5,935.6 724,933.9 C733.5,932.2 742.7,930.4 752.4,929.2 C762.1,928.1 774.5,927.3 782.3,926.9 C790.1,926.5 793.4,926.7 799.3,926.9 C805.2,927.1 814.7,927.9 817.8,928.1" fill="none" stroke="#0000ff" stroke-opacity="0.62" stroke-width="5.4" stroke-linejoin="round"/>
<path d="M107.3,922.9 C110.1,922.1 119.1,919 124.4,918 C129.6,916.9 133.8,916.5 138.6,916.5 C143.3,916.5 148,916.9 152.8,918 C157.5,919.1 162.2,921.2 167,923.2 C171.7,925.2 176.5,927.7 181.2,930.1 C185.9,932.6 190.7,935.1 195.4,937.9 C200.1,940.7 204.9,944.1 209.6,946.9 C214.3,949.7 218.8,952.3 223.8,954.7 C228.8,957 234.5,959.5 239.5,961 C244.4,962.6 249.4,963.4 253.7,963.9 C257.9,964.4 261,964.5 265,963.9 C269.1,963.3 273.3,962.2 277.8,960.5 C282.3,958.7 287.3,955.8 292,953.5 C296.8,951.2 301.5,948.7 306.2,946.6 C311,944.5 315.7,942.5 320.4,940.8 C325.2,939.1 329.9,937.5 334.7,936.2 C339.4,934.8 343.2,933.7 348.9,932.7 C354.6,931.8 362.4,931 368.8,930.4 C375.2,929.8 379.4,929.5 387.2,929.2 C395.1,929 406.1,928.5 415.7,928.7 C425.2,928.9 434.6,929.4 444.8,930.4 C455,931.4 466.7,933.2 476.8,934.4 C486.8,935.7 495.7,937 505.2,937.9 C514.7,938.8 524.1,939.1 533.6,939.6 C543.1,940.2 552.5,940.7 562,941.1 C571.5,941.5 581,941.7 590.4,942 C599.9,942.2 609.4,942.3 618.9,942.5 C628.3,942.7 637.8,943.1 647.3,943.1 C656.8,943.1 666.2,942.9 675.7,942.5 C685.2,942.2 694.6,941.9 704.1,941.1 C713.6,940.3 723.1,939.2 732.5,937.9 C742,936.6 751.5,934.7 761,933.3 C770.4,931.9 779.9,930.4 789.4,929.5 C798.9,928.7 813.1,928.3 817.8,928.1" fill="none" stroke="#0000ff" stroke-opacity="0.9" stroke-width="1.7" stroke-dasharray="1.7,3.5"/>
<path d="M121.5,917.4 V924.4 M115,917.4 H128 M115,924.4 H128" stroke="#0000ff" stroke-opacity="0.8" stroke-width="1.2" fill="none"/>
<path d="M135.7,911.6 V918.6 M129.2,911.6 H142.2 M129.2,918.6 H142.2" stroke="#0000ff" stroke-opacity="0.8" stroke-width="1.2" fill="none"/>
<path d="M149.9,923.4 V930.4 M143.4,923.4 H156.4 M143.4,930.4 H156.4" stroke="#0000ff" stroke-opacity="0.8" stroke-width="1.2" fill="none"/>
<path d="M164.1,920.8 V927.8 M157.6,920.8 H170.6 M157.6,927.8 H170.6" stroke="#0000ff" stroke-opacity="0.8" stroke-width="1.2" fill="none"/>
<path d="M178.4,931.5 V938.5 M171.9,931.5 H184.9 M171.9,938.5 H184.9" stroke="#0000ff" stroke-opacity="0.8" stroke-width="1.2" fill="none"/>
<path d="M192.6,937.3 V944.3 M186.1,937.3 H199.1 M186.1,944.3 H199.1" stroke="#0000ff" stroke-opacity="0.8" stroke-width="1.2" fill="none"/>
<path d="M206.8,945.7 V952.7 M200.3,945.7 H213.3 M200.3,952.7 H213.3" stroke="#0000ff" stroke-opacity="0.8" stroke-width="1.2" fill="none"/>
<path d="M221,953.8 V960.8 M214.5,953.8 H227.5 M214.5,960.8 H227.5" stroke="#0000ff" stroke-opacity="0.8" stroke-width="1.2" fill="none"/>
<path d="M235.2,951.2 V958.2 M228.7,951.2 H241.7 M228.7,958.2 H241.7" stroke="#0000ff" stroke-opacity="0.8" stroke-width="1.2" fill="none"/>
<path d="M249.4,956.1 V963.1 M242.9,956.1 H255.9 M242.9,963.1 H255.9" stroke="#0000ff" stroke-opacity="0.8" stroke-width="1.2" fill="none"/>
<path d="M263.6,954.9 V961.9 M257.1,954.9 H270.1 M257.1,961.9 H270.1" stroke="#0000ff" stroke-opacity="0.8" stroke-width="1.2" fill="none"/>
<path d="M277.8,944.2 V951.2 M271.3,944.2 H284.3 M271.3,951.2 H284.3" stroke="#0000ff" stroke-opacity="0.8" stroke-width="1.2" fill="none"/>
<path d="M292,951.8 V958.8 M285.5,951.8 H298.5 M285.5,958.8 H298.5" stroke="#0000ff" stroke-opacity="0.8" stroke-width="1.2" fill="none"/>
<path d="M306.2,963.3 V970.3 M299.7,963.3 H312.7 M299.7,970.3 H312.7" stroke="#0000ff" stroke-opacity="0.8" stroke-width="1.2" fill="none"/>
<path d="M320.4,954.1 V961.1 M313.9,954.1 H326.9 M313.9,961.1 H326.9" stroke="#0000ff" stroke-opacity="0.8" stroke-width="1.2" fill="none"/>
<path d="M334.7,926.3 V933.3 M328.2,926.3 H341.2 M328.2,933.3 H341.2" stroke="#0000ff" stroke-opacity="0.8" stroke-width="1.2" fill="none"/>
<path d="M348.9,934.4 V941.4 M342.4,934.4 H355.4 M342.4,941.4 H355.4" stroke="#0000ff" stroke-opacity="0.8" stroke-width="1.2" fill="none"/>
<path d="M363.1,917.7 V924.7 M356.6,917.7 H369.6 M356.6,924.7 H369.6" stroke="#0000ff" stroke-opacity="0.8" stroke-width="1.2" fill="none"/>
<path d="M377.3,915.9 V922.9 M370.8,915.9 H383.8 M370.8,922.9 H383.8" stroke="#0000ff" stroke-opacity="0.8" stroke-width="1.2" fill="none"/>
<path d="M391.5,926 V933 M385,926 H398 M385,933 H398" stroke="#0000ff" stroke-opacity="0.8" stroke-width="1.2" fill="none"/>
<path d="M405.7,924 V931 M399.2,924 H412.2 M399.2,931 H412.2" stroke="#0000ff" stroke-opacity="0.8" stroke-width="1.2" fill="none"/>
<path d="M419.9,926 V933 M413.4,926 H426.4 M413.4,933 H426.4" stroke="#0000ff" stroke-opacity="0.8" stroke-width="1.2" fill="none"/>
<path d="M434.1,924.3 V931.3 M427.6,924.3 H440.6 M427.6,931.3 H440.6" stroke="#0000ff" stroke-opacity="0.8" stroke-width="1.2" fill="none"/>
<path d="M448.3,920.5 V927.5 M441.8,920.5 H454.8 M441.8,927.5 H454.8" stroke="#0000ff" stroke-opacity="0.8" stroke-width="1.2" fill="none"/>
<path d="M462.6,927.5 V934.5 M456.1,927.5 H469.1 M456.1,934.5 H469.1" stroke="#0000ff" stroke-opacity="0.8" stroke-width="1.2" fill="none"/>
<path d="M476.8,930.4 V937.4 M470.3,930.4 H483.3 M470.3,937.4 H483.3" stroke="#0000ff" stroke-opacity="0.8" stroke-width="1.2" fill="none"/>
<path d="M491,947.1 V954.1 M484.5,947.1 H497.5 M484.5,954.1 H497.5" stroke="#0000ff" stroke-opacity="0.8" stroke-width="1.2" fill="none"/>
<path d="M505.2,943.1 V950.1 M498.7,943.1 H511.7 M498.7,950.1 H511.7" stroke="#0000ff" stroke-opacity="0.8" stroke-width="1.2" fill="none"/>
<path d="M519.4,950.3 V957.3 M512.9,950.3 H525.9 M512.9,957.3 H525.9" stroke="#0000ff" stroke-opacity="0.8" stroke-width="1.2" fill="none"/>
<path d="M533.6,944 V951 M527.1,944 H540.1 M527.1,951 H540.1" stroke="#0000ff" stroke-opacity="0.8" stroke-width="1.2" fill="none"/>
<path d="M547.8,944.8 V951.8 M541.3,944.8 H554.3 M541.3,951.8 H554.3" stroke="#0000ff" stroke-opacity="0.8" stroke-width="1.2" fill="none"/>
<path d="M562,947.7 V954.7 M555.5,947.7 H568.5 M555.5,954.7 H568.5" stroke="#0000ff" stroke-opacity="0.8" stroke-width="1.2" fill="none"/>
<path d="M576.2,939.3 V946.3 M569.7,939.3 H582.7 M569.7,946.3 H582.7" stroke="#0000ff" stroke-opacity="0.8" stroke-width="1.2" fill="none"/>
<path d="M590.4,916.2 V923.2 M583.9,916.2 H596.9 M583.9,923.2 H596.9" stroke="#0000ff" stroke-opacity="0.8" stroke-width="1.2" fill="none"/>
<path d="M604.6,960.7 V967.7 M598.1,960.7 H611.1 M598.1,967.7 H611.1" stroke="#0000ff" stroke-opacity="0.8" stroke-width="1.2" fill="none"/>
<path d="M618.9,909.3 V916.3 M612.4,909.3 H625.4 M612.4,916.3 H625.4" stroke="#0000ff" stroke-opacity="0.8" stroke-width="1.2" fill="none"/>
<path d="M633.1,917.7 V924.7 M626.6,917.7 H639.6 M626.6,924.7 H639.6" stroke="#0000ff" stroke-opacity="0.8" stroke-width="1.2" fill="none"/>
<path d="M647.3,908.1 V915.1 M640.8,908.1 H653.8 M640.8,915.1 H653.8" stroke="#0000ff" stroke-opacity="0.8" stroke-width="1.2" fill="none"/>
<path d="M661.5,912.7 V919.7 M655,912.7 H668 M655,919.7 H668" stroke="#0000ff" stroke-opacity="0.8" stroke-width="1.2" fill="none"/>
<path d="M675.7,920.3 V927.3 M669.2,920.3 H682.2 M669.2,927.3 H682.2" stroke="#0000ff" stroke-opacity="0.8" stroke-width="1.2" fill="none"/>
<path d="M689.9,919.7 V926.7 M683.4,919.7 H696.4 M683.4,926.7 H696.4" stroke="#0000ff" stroke-opacity="0.8" stroke-width="1.2" fill="none"/>
<path d="M704.1,904.6 V911.6 M697.6,904.6 H710.6 M697.6,911.6 H710.6" stroke="#0000ff" stroke-opacity="0.8" stroke-width="1.2" fill="none"/>
<path d="M718.3,909.3 V916.3 M711.8,909.3 H724.8 M711.8,916.3 H724.8" stroke="#0000ff" stroke-opacity="0.8" stroke-width="1.2" fill="none"/>
<path d="M732.5,903.5 V910.5 M726,903.5 H739 M726,910.5 H739" stroke="#0000ff" stroke-opacity="0.8" stroke-width="1.2" fill="none"/>
<path d="M746.8,908.4 V915.4 M740.2,908.4 H753.2 M740.2,915.4 H753.2" stroke="#0000ff" stroke-opacity="0.8" stroke-width="1.2" fill="none"/>
<path d="M761,930.7 V937.7 M754.5,930.7 H767.5 M754.5,937.7 H767.5" stroke="#0000ff" stroke-opacity="0.8" stroke-width="1.2" fill="none"/>
<path d="M775.2,924.9 V931.9 M768.7,924.9 H781.7 M768.7,931.9 H781.7" stroke="#0000ff" stroke-opacity="0.8" stroke-width="1.2" fill="none"/>
<path d="M789.4,917.4 V924.4 M782.9,917.4 H795.9 M782.9,924.4 H795.9" stroke="#0000ff" stroke-opacity="0.8" stroke-width="1.2" fill="none"/>
<path d="M803.6,932.1 V939.1 M797.1,932.1 H810.1 M797.1,939.1 H810.1" stroke="#0000ff" stroke-opacity="0.8" stroke-width="1.2" fill="none"/>
<path d="M817.8,918.5 V925.5 M811.3,918.5 H824.3 M811.3,925.5 H824.3" stroke="#0000ff" stroke-opacity="0.8" stroke-width="1.2" fill="none"/>
</g>
<polygon points="121.5,914.3 128.7,919.5 126,928 117,928 114.3,919.5" fill="#0000ff" fill-opacity="0.64" stroke="#585858" stroke-width="1.5"/>
<polygon points="135.7,908.5 142.9,913.7 140.2,922.2 131.3,922.2 128.5,913.7" fill="#0000ff" fill-opacity="0.64" stroke="#585858" stroke-width="1.5"/>
<polygon points="149.9,920.3 157.2,925.6 154.4,934.1 145.5,934.1 142.7,925.6" fill="#0000ff" fill-opacity="0.64" stroke="#585858" stroke-width="1.5"/>
<polygon points="164.1,917.7 171.4,923 168.6,931.5 159.7,931.5 156.9,923" fill="#0000ff" fill-opacity="0.64" stroke="#585858" stroke-width="1.5"/>
<polygon points="178.4,928.4 185.6,933.7 182.8,942.2 173.9,942.2 171.1,933.7" fill="#0000ff" fill-opacity="0.64" stroke="#585858" stroke-width="1.5"/>
<polygon points="192.6,934.2 199.8,939.5 197,948 188.1,948 185.3,939.5" fill="#0000ff" fill-opacity="0.64" stroke="#585858" stroke-width="1.5"/>
<polygon points="206.8,942.6 214,947.8 211.2,956.3 202.3,956.3 199.5,947.8" fill="#0000ff" fill-opacity="0.64" stroke="#585858" stroke-width="1.5"/>
<polygon points="221,950.7 228.2,955.9 225.4,964.4 216.5,964.4 213.8,955.9" fill="#0000ff" fill-opacity="0.64" stroke="#585858" stroke-width="1.5"/>
<polygon points="235.2,948.1 242.4,953.3 239.7,961.8 230.7,961.8 228,953.3" fill="#0000ff" fill-opacity="0.64" stroke="#585858" stroke-width="1.5"/>
<polygon points="249.4,953 256.6,958.2 253.9,966.7 244.9,966.7 242.2,958.2" fill="#0000ff" fill-opacity="0.64" stroke="#585858" stroke-width="1.5"/>
<polygon points="263.6,951.8 270.8,957.1 268.1,965.6 259.1,965.6 256.4,957.1" fill="#0000ff" fill-opacity="0.64" stroke="#585858" stroke-width="1.5"/>
<polygon points="277.8,941.1 285,946.4 282.3,954.9 273.4,954.9 270.6,946.4" fill="#0000ff" fill-opacity="0.64" stroke="#585858" stroke-width="1.5"/>
<polygon points="292,948.7 299.3,953.9 296.5,962.4 287.6,962.4 284.8,953.9" fill="#0000ff" fill-opacity="0.64" stroke="#585858" stroke-width="1.5"/>
<polygon points="306.2,960.2 313.5,965.5 310.7,974 301.8,974 299,965.5" fill="#0000ff" fill-opacity="0.64" stroke="#585858" stroke-width="1.5"/>
<polygon points="320.4,951 327.7,956.2 324.9,964.7 316,964.7 313.2,956.2" fill="#0000ff" fill-opacity="0.64" stroke="#585858" stroke-width="1.5"/>
<polygon points="334.7,923.2 341.9,928.5 339.1,937 330.2,937 327.4,928.5" fill="#0000ff" fill-opacity="0.64" stroke="#585858" stroke-width="1.5"/>
<polygon points="348.9,931.3 356.1,936.6 353.3,945.1 344.4,945.1 341.6,936.6" fill="#0000ff" fill-opacity="0.64" stroke="#585858" stroke-width="1.5"/>
<polygon points="363.1,914.6 370.3,919.8 367.5,928.3 358.6,928.3 355.9,919.8" fill="#0000ff" fill-opacity="0.64" stroke="#585858" stroke-width="1.5"/>
<polygon points="377.3,912.8 384.5,918.1 381.8,926.6 372.8,926.6 370.1,918.1" fill="#0000ff" fill-opacity="0.64" stroke="#585858" stroke-width="1.5"/>
<polygon points="391.5,922.9 398.7,928.2 396,936.7 387,936.7 384.3,928.2" fill="#0000ff" fill-opacity="0.64" stroke="#585858" stroke-width="1.5"/>
<polygon points="405.7,920.9 412.9,926.2 410.2,934.7 401.2,934.7 398.5,926.2" fill="#0000ff" fill-opacity="0.64" stroke="#585858" stroke-width="1.5"/>
<polygon points="419.9,922.9 427.1,928.2 424.4,936.7 415.5,936.7 412.7,928.2" fill="#0000ff" fill-opacity="0.64" stroke="#585858" stroke-width="1.5"/>
<polygon points="434.1,921.2 441.4,926.5 438.6,934.9 429.7,934.9 426.9,926.5" fill="#0000ff" fill-opacity="0.64" stroke="#585858" stroke-width="1.5"/>
<polygon points="448.3,917.4 455.6,922.7 452.8,931.2 443.9,931.2 441.1,922.7" fill="#0000ff" fill-opacity="0.64" stroke="#585858" stroke-width="1.5"/>
<polygon points="462.6,924.4 469.8,929.6 467,938.1 458.1,938.1 455.3,929.6" fill="#0000ff" fill-opacity="0.64" stroke="#585858" stroke-width="1.5"/>
<polygon points="476.8,927.3 484,932.5 481.2,941 472.3,941 469.5,932.5" fill="#0000ff" fill-opacity="0.64" stroke="#585858" stroke-width="1.5"/>
<polygon points="491,944 498.2,949.3 495.4,957.8 486.5,957.8 483.7,949.3" fill="#0000ff" fill-opacity="0.64" stroke="#585858" stroke-width="1.5"/>
<polygon points="505.2,940 512.4,945.2 509.6,953.7 500.7,953.7 498,945.2" fill="#0000ff" fill-opacity="0.64" stroke="#585858" stroke-width="1.5"/>
<polygon points="519.4,947.2 526.6,952.5 523.9,961 514.9,961 512.2,952.5" fill="#0000ff" fill-opacity="0.64" stroke="#585858" stroke-width="1.5"/>
<polygon points="533.6,940.9 540.8,946.1 538.1,954.6 529.1,954.6 526.4,946.1" fill="#0000ff" fill-opacity="0.64" stroke="#585858" stroke-width="1.5"/>
<polygon points="547.8,941.7 555,947 552.3,955.5 543.3,955.5 540.6,947" fill="#0000ff" fill-opacity="0.64" stroke="#585858" stroke-width="1.5"/>
<polygon points="562,944.6 569.2,949.9 566.5,958.4 557.6,958.4 554.8,949.9" fill="#0000ff" fill-opacity="0.64" stroke="#585858" stroke-width="1.5"/>
<polygon points="576.2,936.2 583.5,941.5 580.7,950 571.8,950 569,941.5" fill="#0000ff" fill-opacity="0.64" stroke="#585858" stroke-width="1.5"/>
<polygon points="590.4,913.1 597.7,918.4 594.9,926.9 586,926.9 583.2,918.4" fill="#0000ff" fill-opacity="0.64" stroke="#585858" stroke-width="1.5"/>
<polygon points="604.6,957.6 611.9,962.9 609.1,971.4 600.2,971.4 597.4,962.9" fill="#0000ff" fill-opacity="0.64" stroke="#585858" stroke-width="1.5"/>
<polygon points="618.9,906.2 626.1,911.4 623.3,919.9 614.4,919.9 611.6,911.4" fill="#0000ff" fill-opacity="0.64" stroke="#585858" stroke-width="1.5"/>
<polygon points="633.1,914.6 640.3,919.8 637.5,928.3 628.6,928.3 625.8,919.8" fill="#0000ff" fill-opacity="0.64" stroke="#585858" stroke-width="1.5"/>
<polygon points="647.3,905 654.5,910.3 651.7,918.8 642.8,918.8 640.1,910.3" fill="#0000ff" fill-opacity="0.64" stroke="#585858" stroke-width="1.5"/>
<polygon points="661.5,909.6 668.7,914.9 666,923.4 657,923.4 654.3,914.9" fill="#0000ff" fill-opacity="0.64" stroke="#585858" stroke-width="1.5"/>
<polygon points="675.7,917.2 682.9,922.4 680.2,930.9 671.2,930.9 668.5,922.4" fill="#0000ff" fill-opacity="0.64" stroke="#585858" stroke-width="1.5"/>
<polygon points="689.9,916.6 697.1,921.8 694.4,930.3 685.4,930.3 682.7,921.8" fill="#0000ff" fill-opacity="0.64" stroke="#585858" stroke-width="1.5"/>
<polygon points="704.1,901.5 711.3,906.8 708.6,915.3 699.7,915.3 696.9,906.8" fill="#0000ff" fill-opacity="0.64" stroke="#585858" stroke-width="1.5"/>
<polygon points="718.3,906.2 725.6,911.4 722.8,919.9 713.9,919.9 711.1,911.4" fill="#0000ff" fill-opacity="0.64" stroke="#585858" stroke-width="1.5"/>
<polygon points="732.5,900.4 739.8,905.6 737,914.1 728.1,914.1 725.3,905.6" fill="#0000ff" fill-opacity="0.64" stroke="#585858" stroke-width="1.5"/>
<polygon points="746.8,905.3 754,910.6 751.2,919.1 742.3,919.1 739.5,910.6" fill="#0000ff" fill-opacity="0.64" stroke="#585858" stroke-width="1.5"/>
<polygon points="761,927.6 768.2,932.8 765.4,941.3 756.5,941.3 753.7,932.8" fill="#0000ff" fill-opacity="0.64" stroke="#585858" stroke-width="1.5"/>
<polygon points="775.2,921.8 782.4,927 779.6,935.5 770.7,935.5 767.9,927" fill="#0000ff" fill-opacity="0.64" stroke="#585858" stroke-width="1.5"/>
<polygon points="789.4,914.3 796.6,919.5 793.8,928 784.9,928 782.2,919.5" fill="#0000ff" fill-opacity="0.64" stroke="#585858" stroke-width="1.5"/>
<polygon points="803.6,929 810.8,934.3 808.1,942.8 799.1,942.8 796.4,934.3" fill="#0000ff" fill-opacity="0.64" stroke="#585858" stroke-width="1.5"/>
<polygon points="817.8,915.4 825,920.7 822.3,929.2 813.3,929.2 810.6,920.7" fill="#0000ff" fill-opacity="0.64" stroke="#585858" stroke-width="1.5"/>
<path d="M107.3,10.9 V318.3 M107.3,332.9 V982.9 M817.9,10.9 V318.3 M817.9,332.9 V982.9 M107.3,10.9 H817.9 M107.3,982.9 H817.9" stroke="#000" stroke-width="1.7" fill="none" stroke-linecap="square"/>
<path d="M107.3,318.3 V332.9 M817.9,318.3 V332.9" stroke="#c4c4c4" stroke-width="1.3"/>
<path d="M78.4,318.3 H136.4 M78.4,332.9 H136.4 M789,318.3 H847 M789,332.9 H847" stroke="#000" stroke-width="1.7"/>
<rect x="412.8" y="249" width="402.5" height="282.7" fill="#fff" fill-opacity="0.76"/>
<g clip-path="url(#ci)">
<polygon points="452.9,333.4 460.9,313.2 467.8,304.4 474.8,310.5 481.7,326.7 488.7,344.9 495.6,365.8 502.6,386.8 509.5,407.7 516.5,425.9 523.4,435.4 530.4,432.7 537.3,419.2 544.3,398.2 551.2,380 558.2,365.8 565.1,354.4 574.4,347.6 583.7,343.6 597.6,341.5 611.5,342.9 620,343.6 631.8,346.9 643.6,353.7 655.4,361.1 667.2,365.8 679,367.9 690.8,370.6 702.6,372.6 714.5,371.9 726.3,367.9 738.1,361.1 749.9,353.7 761.7,349 773.5,346.9 785.3,348.3 796.4,349 796.4,405 785.3,403.6 773.5,403.6 761.7,405.7 749.9,408.4 738.1,413.1 726.3,415.1 714.5,418.5 702.6,418.5 690.8,416.5 679,415.1 667.2,413.1 655.4,410.4 643.6,405.7 631.8,398.9 620,391.5 611.5,388.8 597.6,386.8 583.7,388.1 572.1,388.8 562.8,393.5 555.8,403 548.9,416.5 541.9,432.7 535,449.6 528,458.3 523.4,457.6 516.5,449.6 509.5,437.4 502.6,421.2 495.6,405 488.7,386.8 481.7,367.9 474.8,354.4 467.8,347.6 460.9,353.7 452.9,373.9" fill="#0000ff" fill-opacity="0.2"/>
<line x1="452.9" y1="358.2" x2="796.4" y2="358.2" stroke="#0000ff" stroke-opacity="0.65" stroke-width="3.8" stroke-dasharray="11,10.9" stroke-dashoffset="1.7"/>
<path d="M452.9,348.3 C454,345.8 457.4,336.6 459.8,333.4 C462.2,330.3 464.9,329.2 467.3,329.4 C469.7,329.6 471.8,331.8 474.2,334.8 C476.5,337.8 479.1,342.8 481.4,347.6 C483.8,352.5 486,358.2 488.3,363.8 C490.6,369.4 492.9,375.3 495.2,381.4 C497.4,387.4 499.6,393.6 502,400.3 C504.4,406.9 507.1,415 509.5,421.2 C511.9,427.4 514.2,433.1 516.5,437.4 C518.8,441.7 521.3,445 523.4,446.8 C525.5,448.6 527.2,449.3 529.2,448.2 C531.1,447.1 532.9,444.6 535,440.1 C537.1,435.6 539.6,427 541.9,421.2 C544.2,415.4 546.5,409.9 548.9,405 C551.2,400.1 553.5,395.7 555.8,391.5 C558.1,387.3 560.5,383.2 562.8,380 C565.1,376.9 567,374.7 569.7,372.6 C572.4,370.5 575.9,368.7 579,367.2 C582.1,365.7 584.4,364.6 588.2,363.8 C592.1,363 597.3,362.5 602,362.5 C606.6,362.5 613.1,363.3 616.1,363.8 C619,364.4 617.2,364.2 619.8,365.8 C622.5,367.5 627.8,370.9 631.8,373.9 C635.8,377 639.7,381.1 643.6,384.1 C647.6,387 651.5,389.5 655.4,391.5 C659.4,393.5 663.1,394.9 667.2,396.2 C671.3,397.5 675.5,398.1 680,399.2 C684.5,400.3 689.5,402 694.2,402.7 C698.9,403.4 703.6,404 708.3,403.4 C713,402.8 717.6,401.7 722.5,398.9 C727.3,396.2 732.6,390.9 737.3,386.8 C742.1,382.6 746.5,377.9 751.1,373.9 C755.6,370 760.1,365.8 764.8,363.1 C769.5,360.4 775.4,358.6 779.2,357.8 C783,356.9 784.6,357.3 787.5,357.8 C790.3,358.2 794.9,360 796.4,360.4" fill="none" stroke="#0000ff" stroke-opacity="0.62" stroke-width="5.4" stroke-linejoin="round"/>
<path d="M452.9,348.3 C454.3,346.4 458.6,339.3 461.1,336.8 C463.7,334.4 465.7,333.4 468,333.4 C470.3,333.4 472.6,334.2 474.9,336.8 C477.2,339.4 479.5,344.2 481.8,349 C484,353.7 486.3,359.4 488.6,365.2 C490.9,370.9 493.2,376.9 495.5,383.4 C497.8,389.9 500.1,397.8 502.4,404.3 C504.7,410.8 506.8,417 509.2,422.5 C511.6,428.1 514.4,433.8 516.8,437.4 C519.2,441 521.6,443 523.7,444.1 C525.7,445.3 527.2,445.5 529.2,444.1 C531.1,442.8 533.2,440.1 535.3,436.1 C537.5,432 539.9,425.2 542.2,419.9 C544.5,414.5 546.8,408.6 549.1,403.6 C551.4,398.7 553.7,394.2 555.9,390.1 C558.2,386.1 560.5,382.5 562.8,379.3 C565.1,376.2 566.9,373.5 569.7,371.2 C572.4,369 576.2,367.2 579.3,365.8 C582.4,364.5 584.5,363.8 588.2,363.1 C592,362.5 597.3,361.4 602,361.8 C606.6,362.2 611.1,363.6 616.1,365.8 C621,368.1 626.7,372.4 631.5,375.3 C636.4,378.2 640.7,381.4 645.3,383.4 C649.8,385.4 654.4,386.2 659,387.4 C663.6,388.7 668.2,389.9 672.7,390.8 C677.3,391.7 681.9,392.3 686.5,392.9 C691.1,393.4 695.6,393.8 700.2,394.2 C704.8,394.6 709.4,395.6 714,395.6 C718.5,395.6 723.1,395 727.7,394.2 C732.3,393.4 736.9,392.6 741.4,390.8 C746,389 750.6,386.4 755.2,383.4 C759.8,380.4 764.3,375.9 768.9,372.6 C773.5,369.3 778.1,365.9 782.7,363.8 C787.2,361.8 794.1,361 796.4,360.4" fill="none" stroke="#0000ff" stroke-opacity="0.9" stroke-width="1.7" stroke-dasharray="1.7,3.5"/>
<path d="M459.8,339.6 V347.6 M452.8,339.6 H466.8 M452.8,347.6 H466.8" stroke="#0000ff" stroke-opacity="0.8" stroke-width="1.2" fill="none"/>
<path d="M466.6,326.1 V334.1 M459.6,326.1 H473.6 M459.6,334.1 H473.6" stroke="#0000ff" stroke-opacity="0.8" stroke-width="1.2" fill="none"/>
<path d="M473.5,353.8 V361.8 M466.5,353.8 H480.5 M466.5,361.8 H480.5" stroke="#0000ff" stroke-opacity="0.8" stroke-width="1.2" fill="none"/>
<path d="M480.4,347.7 V355.7 M473.4,347.7 H487.4 M473.4,355.7 H487.4" stroke="#0000ff" stroke-opacity="0.8" stroke-width="1.2" fill="none"/>
<path d="M487.2,372.6 V380.6 M480.2,372.6 H494.2 M480.2,380.6 H494.2" stroke="#0000ff" stroke-opacity="0.8" stroke-width="1.2" fill="none"/>
<path d="M494.1,386.1 V394.1 M487.1,386.1 H501.1 M487.1,394.1 H501.1" stroke="#0000ff" stroke-opacity="0.8" stroke-width="1.2" fill="none"/>
<path d="M501,405.7 V413.7 M494,405.7 H508 M494,413.7 H508" stroke="#0000ff" stroke-opacity="0.8" stroke-width="1.2" fill="none"/>
<path d="M507.9,424.6 V432.6 M500.9,424.6 H514.9 M500.9,432.6 H514.9" stroke="#0000ff" stroke-opacity="0.8" stroke-width="1.2" fill="none"/>
<path d="M514.7,418.5 V426.5 M507.7,418.5 H521.7 M507.7,426.5 H521.7" stroke="#0000ff" stroke-opacity="0.8" stroke-width="1.2" fill="none"/>
<path d="M521.6,430 V438 M514.6,430 H528.6 M514.6,438 H528.6" stroke="#0000ff" stroke-opacity="0.8" stroke-width="1.2" fill="none"/>
<path d="M528.5,427.3 V435.3 M521.5,427.3 H535.5 M521.5,435.3 H535.5" stroke="#0000ff" stroke-opacity="0.8" stroke-width="1.2" fill="none"/>
<path d="M535.3,402.4 V410.4 M528.3,402.4 H542.3 M528.3,410.4 H542.3" stroke="#0000ff" stroke-opacity="0.8" stroke-width="1.2" fill="none"/>
<path d="M542.2,419.9 V427.9 M535.2,419.9 H549.2 M535.2,427.9 H549.2" stroke="#0000ff" stroke-opacity="0.8" stroke-width="1.2" fill="none"/>
<path d="M549.1,446.9 V454.9 M542.1,446.9 H556.1 M542.1,454.9 H556.1" stroke="#0000ff" stroke-opacity="0.8" stroke-width="1.2" fill="none"/>
<path d="M555.9,425.3 V433.3 M548.9,425.3 H562.9 M548.9,433.3 H562.9" stroke="#0000ff" stroke-opacity="0.8" stroke-width="1.2" fill="none"/>
<path d="M562.8,360.5 V368.5 M555.8,360.5 H569.8 M555.8,368.5 H569.8" stroke="#0000ff" stroke-opacity="0.8" stroke-width="1.2" fill="none"/>
<path d="M569.7,379.4 V387.4 M562.7,379.4 H576.7 M562.7,387.4 H576.7" stroke="#0000ff" stroke-opacity="0.8" stroke-width="1.2" fill="none"/>
<path d="M576.6,340.2 V348.2 M569.6,340.2 H583.6 M569.6,348.2 H583.6" stroke="#0000ff" stroke-opacity="0.8" stroke-width="1.2" fill="none"/>
<path d="M583.4,336.2 V344.2 M576.4,336.2 H590.4 M576.4,344.2 H590.4" stroke="#0000ff" stroke-opacity="0.8" stroke-width="1.2" fill="none"/>
<path d="M590.3,359.8 V367.8 M583.3,359.8 H597.3 M583.3,367.8 H597.3" stroke="#0000ff" stroke-opacity="0.8" stroke-width="1.2" fill="none"/>
<path d="M597.2,355.1 V363.1 M590.2,355.1 H604.2 M590.2,363.1 H604.2" stroke="#0000ff" stroke-opacity="0.8" stroke-width="1.2" fill="none"/>
<path d="M604,359.8 V367.8 M597,359.8 H611 M597,367.8 H611" stroke="#0000ff" stroke-opacity="0.8" stroke-width="1.2" fill="none"/>
<path d="M610.9,355.8 V363.8 M603.9,355.8 H617.9 M603.9,363.8 H617.9" stroke="#0000ff" stroke-opacity="0.8" stroke-width="1.2" fill="none"/>
<path d="M617.8,347 V355 M610.8,347 H624.8 M610.8,355 H624.8" stroke="#0000ff" stroke-opacity="0.8" stroke-width="1.2" fill="none"/>
<path d="M624.6,363.2 V371.2 M617.6,363.2 H631.6 M617.6,371.2 H631.6" stroke="#0000ff" stroke-opacity="0.8" stroke-width="1.2" fill="none"/>
<path d="M631.5,369.9 V377.9 M624.5,369.9 H638.5 M624.5,377.9 H638.5" stroke="#0000ff" stroke-opacity="0.8" stroke-width="1.2" fill="none"/>
<path d="M638.4,409.1 V417.1 M631.4,409.1 H645.4 M631.4,417.1 H645.4" stroke="#0000ff" stroke-opacity="0.8" stroke-width="1.2" fill="none"/>
<path d="M645.3,399.6 V407.6 M638.3,399.6 H652.3 M638.3,407.6 H652.3" stroke="#0000ff" stroke-opacity="0.8" stroke-width="1.2" fill="none"/>
<path d="M652.1,416.5 V424.5 M645.1,416.5 H659.1 M645.1,424.5 H659.1" stroke="#0000ff" stroke-opacity="0.8" stroke-width="1.2" fill="none"/>
<path d="M659,401.7 V409.7 M652,401.7 H666 M652,409.7 H666" stroke="#0000ff" stroke-opacity="0.8" stroke-width="1.2" fill="none"/>
<path d="M665.9,403.7 V411.7 M658.9,403.7 H672.9 M658.9,411.7 H672.9" stroke="#0000ff" stroke-opacity="0.8" stroke-width="1.2" fill="none"/>
<path d="M672.7,410.4 V418.4 M665.7,410.4 H679.7 M665.7,418.4 H679.7" stroke="#0000ff" stroke-opacity="0.8" stroke-width="1.2" fill="none"/>
<path d="M679.6,390.9 V398.9 M672.6,390.9 H686.6 M672.6,398.9 H686.6" stroke="#0000ff" stroke-opacity="0.8" stroke-width="1.2" fill="none"/>
<path d="M686.5,336.9 V344.9 M679.5,336.9 H693.5 M679.5,344.9 H693.5" stroke="#0000ff" stroke-opacity="0.8" stroke-width="1.2" fill="none"/>
<path d="M693.4,440.8 V448.8 M686.4,440.8 H700.4 M686.4,448.8 H700.4" stroke="#0000ff" stroke-opacity="0.8" stroke-width="1.2" fill="none"/>
<path d="M700.2,320.7 V328.7 M693.2,320.7 H707.2 M693.2,328.7 H707.2" stroke="#0000ff" stroke-opacity="0.8" stroke-width="1.2" fill="none"/>
<path d="M707.1,340.2 V348.2 M700.1,340.2 H714.1 M700.1,348.2 H714.1" stroke="#0000ff" stroke-opacity="0.8" stroke-width="1.2" fill="none"/>
<path d="M714,318 V326 M707,318 H721 M707,326 H721" stroke="#0000ff" stroke-opacity="0.8" stroke-width="1.2" fill="none"/>
<path d="M720.8,328.8 V336.8 M713.8,328.8 H727.8 M713.8,336.8 H727.8" stroke="#0000ff" stroke-opacity="0.8" stroke-width="1.2" fill="none"/>
<path d="M727.7,346.3 V354.3 M720.7,346.3 H734.7 M720.7,354.3 H734.7" stroke="#0000ff" stroke-opacity="0.8" stroke-width="1.2" fill="none"/>
<path d="M734.6,345 V353 M727.6,345 H741.6 M727.6,353 H741.6" stroke="#0000ff" stroke-opacity="0.8" stroke-width="1.2" fill="none"/>
<path d="M741.4,309.9 V317.9 M734.4,309.9 H748.4 M734.4,317.9 H748.4" stroke="#0000ff" stroke-opacity="0.8" stroke-width="1.2" fill="none"/>
<path d="M748.3,320.7 V328.7 M741.3,320.7 H755.3 M741.3,328.7 H755.3" stroke="#0000ff" stroke-opacity="0.8" stroke-width="1.2" fill="none"/>
<path d="M755.2,307.2 V315.2 M748.2,307.2 H762.2 M748.2,315.2 H762.2" stroke="#0000ff" stroke-opacity="0.8" stroke-width="1.2" fill="none"/>
<path d="M762,318.6 V326.6 M755,318.6 H769 M755,326.6 H769" stroke="#0000ff" stroke-opacity="0.8" stroke-width="1.2" fill="none"/>
<path d="M768.9,370.6 V378.6 M761.9,370.6 H775.9 M761.9,378.6 H775.9" stroke="#0000ff" stroke-opacity="0.8" stroke-width="1.2" fill="none"/>
<path d="M775.8,357.1 V365.1 M768.8,357.1 H782.8 M768.8,365.1 H782.8" stroke="#0000ff" stroke-opacity="0.8" stroke-width="1.2" fill="none"/>
<path d="M782.7,339.6 V347.6 M775.7,339.6 H789.7 M775.7,347.6 H789.7" stroke="#0000ff" stroke-opacity="0.8" stroke-width="1.2" fill="none"/>
<path d="M789.5,374 V382 M782.5,374 H796.5 M782.5,382 H796.5" stroke="#0000ff" stroke-opacity="0.8" stroke-width="1.2" fill="none"/>
<path d="M796.4,342.3 V350.3 M789.4,342.3 H803.4 M789.4,350.3 H803.4" stroke="#0000ff" stroke-opacity="0.8" stroke-width="1.2" fill="none"/>
</g>
<polygon points="459.8,337 467,342.2 464.2,350.7 455.3,350.7 452.5,342.2" fill="#0000ff" fill-opacity="0.64" stroke="#585858" stroke-width="1.5"/>
<polygon points="466.6,323.5 473.9,328.7 471.1,337.2 462.2,337.2 459.4,328.7" fill="#0000ff" fill-opacity="0.64" stroke="#585858" stroke-width="1.5"/>
<polygon points="473.5,351.1 480.7,356.4 478,364.9 469,364.9 466.3,356.4" fill="#0000ff" fill-opacity="0.64" stroke="#585858" stroke-width="1.5"/>
<polygon points="480.4,345.1 487.6,350.3 484.8,358.8 475.9,358.8 473.2,350.3" fill="#0000ff" fill-opacity="0.64" stroke="#585858" stroke-width="1.5"/>
<polygon points="487.2,370 494.5,375.3 491.7,383.8 482.8,383.8 480,375.3" fill="#0000ff" fill-opacity="0.64" stroke="#585858" stroke-width="1.5"/>
<polygon points="494.1,383.5 501.3,388.8 498.6,397.3 489.7,397.3 486.9,388.8" fill="#0000ff" fill-opacity="0.64" stroke="#585858" stroke-width="1.5"/>
<polygon points="501,403.1 508.2,408.4 505.5,416.9 496.5,416.9 493.8,408.4" fill="#0000ff" fill-opacity="0.64" stroke="#585858" stroke-width="1.5"/>
<polygon points="507.9,422 515.1,427.3 512.3,435.8 503.4,435.8 500.6,427.3" fill="#0000ff" fill-opacity="0.64" stroke="#585858" stroke-width="1.5"/>
<polygon points="514.7,415.9 522,421.2 519.2,429.7 510.3,429.7 507.5,421.2" fill="#0000ff" fill-opacity="0.64" stroke="#585858" stroke-width="1.5"/>
<polygon points="521.6,427.4 528.8,432.7 526.1,441.2 517.1,441.2 514.4,432.7" fill="#0000ff" fill-opacity="0.64" stroke="#585858" stroke-width="1.5"/>
<polygon points="528.5,424.7 535.7,430 532.9,438.5 524,438.5 521.2,430" fill="#0000ff" fill-opacity="0.64" stroke="#585858" stroke-width="1.5"/>
<polygon points="535.3,399.8 542.6,405 539.8,413.5 530.9,413.5 528.1,405" fill="#0000ff" fill-opacity="0.64" stroke="#585858" stroke-width="1.5"/>
<polygon points="542.2,417.3 549.4,422.6 546.7,431 537.7,431 535,422.6" fill="#0000ff" fill-opacity="0.64" stroke="#585858" stroke-width="1.5"/>
<polygon points="549.1,444.3 556.3,449.6 553.5,458 544.6,458 541.9,449.6" fill="#0000ff" fill-opacity="0.64" stroke="#585858" stroke-width="1.5"/>
<polygon points="555.9,422.7 563.2,428 560.4,436.4 551.5,436.4 548.7,428" fill="#0000ff" fill-opacity="0.64" stroke="#585858" stroke-width="1.5"/>
<polygon points="562.8,357.9 570,363.2 567.3,371.6 558.4,371.6 555.6,363.2" fill="#0000ff" fill-opacity="0.64" stroke="#585858" stroke-width="1.5"/>
<polygon points="569.7,376.8 576.9,382.1 574.2,390.5 565.2,390.5 562.5,382.1" fill="#0000ff" fill-opacity="0.64" stroke="#585858" stroke-width="1.5"/>
<polygon points="576.6,337.6 583.8,342.9 581,351.4 572.1,351.4 569.3,342.9" fill="#0000ff" fill-opacity="0.64" stroke="#585858" stroke-width="1.5"/>
<polygon points="583.4,333.6 590.7,338.9 587.9,347.3 579,347.3 576.2,338.9" fill="#0000ff" fill-opacity="0.64" stroke="#585858" stroke-width="1.5"/>
<polygon points="590.3,357.2 597.5,362.5 594.8,371 585.8,371 583.1,362.5" fill="#0000ff" fill-opacity="0.64" stroke="#585858" stroke-width="1.5"/>
<polygon points="597.2,352.5 604.4,357.8 601.6,366.2 592.7,366.2 589.9,357.8" fill="#0000ff" fill-opacity="0.64" stroke="#585858" stroke-width="1.5"/>
<polygon points="604,357.2 611.3,362.5 608.5,371 599.6,371 596.8,362.5" fill="#0000ff" fill-opacity="0.64" stroke="#585858" stroke-width="1.5"/>
<polygon points="610.9,353.2 618.1,358.4 615.4,366.9 606.4,366.9 603.7,358.4" fill="#0000ff" fill-opacity="0.64" stroke="#585858" stroke-width="1.5"/>
<polygon points="617.8,344.4 625,349.7 622.2,358.1 613.3,358.1 610.6,349.7" fill="#0000ff" fill-opacity="0.64" stroke="#585858" stroke-width="1.5"/>
<polygon points="624.6,360.6 631.9,365.9 629.1,374.3 620.2,374.3 617.4,365.9" fill="#0000ff" fill-opacity="0.64" stroke="#585858" stroke-width="1.5"/>
<polygon points="631.5,367.3 638.7,372.6 636,381.1 627.1,381.1 624.3,372.6" fill="#0000ff" fill-opacity="0.64" stroke="#585858" stroke-width="1.5"/>
<polygon points="638.4,406.5 645.6,411.8 642.9,420.2 633.9,420.2 631.2,411.8" fill="#0000ff" fill-opacity="0.64" stroke="#585858" stroke-width="1.5"/>
<polygon points="645.3,397 652.5,402.3 649.7,410.8 640.8,410.8 638,402.3" fill="#0000ff" fill-opacity="0.64" stroke="#585858" stroke-width="1.5"/>
<polygon points="652.1,413.9 659.4,419.2 656.6,427.7 647.7,427.7 644.9,419.2" fill="#0000ff" fill-opacity="0.64" stroke="#585858" stroke-width="1.5"/>
<polygon points="659,399.1 666.2,404.3 663.5,412.8 654.5,412.8 651.8,404.3" fill="#0000ff" fill-opacity="0.64" stroke="#585858" stroke-width="1.5"/>
<polygon points="665.9,401.1 673.1,406.4 670.3,414.8 661.4,414.8 658.6,406.4" fill="#0000ff" fill-opacity="0.64" stroke="#585858" stroke-width="1.5"/>
<polygon points="672.7,407.8 680,413.1 677.2,421.6 668.3,421.6 665.5,413.1" fill="#0000ff" fill-opacity="0.64" stroke="#585858" stroke-width="1.5"/>
<polygon points="679.6,388.3 686.8,393.5 684.1,402 675.1,402 672.4,393.5" fill="#0000ff" fill-opacity="0.64" stroke="#585858" stroke-width="1.5"/>
<polygon points="686.5,334.3 693.7,339.5 690.9,348 682,348 679.3,339.5" fill="#0000ff" fill-opacity="0.64" stroke="#585858" stroke-width="1.5"/>
<polygon points="693.4,438.2 700.6,443.5 697.8,452 688.9,452 686.1,443.5" fill="#0000ff" fill-opacity="0.64" stroke="#585858" stroke-width="1.5"/>
<polygon points="700.2,318.1 707.4,323.3 704.7,331.8 695.8,331.8 693,323.3" fill="#0000ff" fill-opacity="0.64" stroke="#585858" stroke-width="1.5"/>
<polygon points="707.1,337.6 714.3,342.9 711.6,351.4 702.6,351.4 699.9,342.9" fill="#0000ff" fill-opacity="0.64" stroke="#585858" stroke-width="1.5"/>
<polygon points="714,315.4 721.2,320.6 718.4,329.1 709.5,329.1 706.7,320.6" fill="#0000ff" fill-opacity="0.64" stroke="#585858" stroke-width="1.5"/>
<polygon points="720.8,326.2 728.1,331.4 725.3,339.9 716.4,339.9 713.6,331.4" fill="#0000ff" fill-opacity="0.64" stroke="#585858" stroke-width="1.5"/>
<polygon points="727.7,343.7 734.9,349 732.2,357.5 723.2,357.5 720.5,349" fill="#0000ff" fill-opacity="0.64" stroke="#585858" stroke-width="1.5"/>
<polygon points="734.6,342.4 741.8,347.6 739,356.1 730.1,356.1 727.3,347.6" fill="#0000ff" fill-opacity="0.64" stroke="#585858" stroke-width="1.5"/>
<polygon points="741.4,307.3 748.7,312.5 745.9,321 737,321 734.2,312.5" fill="#0000ff" fill-opacity="0.64" stroke="#585858" stroke-width="1.5"/>
<polygon points="748.3,318.1 755.5,323.3 752.8,331.8 743.8,331.8 741.1,323.3" fill="#0000ff" fill-opacity="0.64" stroke="#585858" stroke-width="1.5"/>
<polygon points="755.2,304.6 762.4,309.8 759.6,318.3 750.7,318.3 748,309.8" fill="#0000ff" fill-opacity="0.64" stroke="#585858" stroke-width="1.5"/>
<polygon points="762,316 769.3,321.3 766.5,329.8 757.6,329.8 754.8,321.3" fill="#0000ff" fill-opacity="0.64" stroke="#585858" stroke-width="1.5"/>
<polygon points="768.9,368 776.1,373.3 773.4,381.8 764.5,381.8 761.7,373.3" fill="#0000ff" fill-opacity="0.64" stroke="#585858" stroke-width="1.5"/>
<polygon points="775.8,354.5 783,359.8 780.3,368.3 771.3,368.3 768.6,359.8" fill="#0000ff" fill-opacity="0.64" stroke="#585858" stroke-width="1.5"/>
<polygon points="782.7,337 789.9,342.2 787.1,350.7 778.2,350.7 775.4,342.2" fill="#0000ff" fill-opacity="0.64" stroke="#585858" stroke-width="1.5"/>
<polygon points="789.5,371.4 796.8,376.7 794,385.1 785.1,385.1 782.3,376.7" fill="#0000ff" fill-opacity="0.64" stroke="#585858" stroke-width="1.5"/>
<polygon points="796.4,339.7 803.6,344.9 800.9,353.4 791.9,353.4 789.2,344.9" fill="#0000ff" fill-opacity="0.64" stroke="#585858" stroke-width="1.5"/>
<line x1="452.9" y1="252.7" x2="452.9" y2="261.5" stroke="#7a7a7a" stroke-width="1.2"/>
<line x1="452.9" y1="479.9" x2="452.9" y2="488.7" stroke="#7a7a7a" stroke-width="1.2"/>
<line x1="521.6" y1="252.7" x2="521.6" y2="261.5" stroke="#7a7a7a" stroke-width="1.2"/>
<line x1="521.6" y1="479.9" x2="521.6" y2="488.7" stroke="#7a7a7a" stroke-width="1.2"/>
<line x1="590.3" y1="252.7" x2="590.3" y2="261.5" stroke="#7a7a7a" stroke-width="1.2"/>
<line x1="590.3" y1="479.9" x2="590.3" y2="488.7" stroke="#7a7a7a" stroke-width="1.2"/>
<line x1="659" y1="252.7" x2="659" y2="261.5" stroke="#7a7a7a" stroke-width="1.2"/>
<line x1="659" y1="479.9" x2="659" y2="488.7" stroke="#7a7a7a" stroke-width="1.2"/>
<line x1="727.7" y1="252.7" x2="727.7" y2="261.5" stroke="#7a7a7a" stroke-width="1.2"/>
<line x1="727.7" y1="479.9" x2="727.7" y2="488.7" stroke="#7a7a7a" stroke-width="1.2"/>
<line x1="796.4" y1="252.7" x2="796.4" y2="261.5" stroke="#7a7a7a" stroke-width="1.2"/>
<line x1="796.4" y1="479.9" x2="796.4" y2="488.7" stroke="#7a7a7a" stroke-width="1.2"/>
<line x1="452.9" y1="488.7" x2="462.9" y2="488.7" stroke="#7a7a7a" stroke-width="1.2"/>
<line x1="786.4" y1="488.7" x2="796.4" y2="488.7" stroke="#7a7a7a" stroke-width="1.2"/>
<line x1="452.9" y1="421.2" x2="462.9" y2="421.2" stroke="#7a7a7a" stroke-width="1.2"/>
<line x1="786.4" y1="421.2" x2="796.4" y2="421.2" stroke="#7a7a7a" stroke-width="1.2"/>
<line x1="452.9" y1="353.7" x2="462.9" y2="353.7" stroke="#7a7a7a" stroke-width="1.2"/>
<line x1="786.4" y1="353.7" x2="796.4" y2="353.7" stroke="#7a7a7a" stroke-width="1.2"/>
<line x1="452.9" y1="286.2" x2="462.9" y2="286.2" stroke="#7a7a7a" stroke-width="1.2"/>
<line x1="786.4" y1="286.2" x2="796.4" y2="286.2" stroke="#7a7a7a" stroke-width="1.2"/>
<rect x="452.9" y="252.7" width="343.5" height="236" fill="none" stroke="#000" stroke-width="1.7"/>
<rect x="441.2" y="22.6" width="355.3" height="212.6" fill="#fff" stroke="#000" stroke-width="1.7"/>
<circle cx="458.9" cy="48.9" r="7.0" fill="#ff0000" fill-opacity="0.62" stroke="#585858" stroke-width="1.5"/>
<rect x="451.8" y="82.1" width="14.2" height="14.2" fill="#aad714" fill-opacity="0.62" stroke="#585858" stroke-width="1.5"/>
<polygon points="458.9,121.2 452.1,133.2 465.7,133.2" fill="#14a76a" fill-opacity="0.65" stroke="#585858" stroke-width="1.5" stroke-linejoin="miter"/>
<polygon points="458.9,161.1 464.7,168.7 458.9,176.3 453.1,168.7" fill="#1e78be" fill-opacity="0.66" stroke="#585858" stroke-width="1.5"/>
<polygon points="458.9,201.4 466.1,206.7 463.4,215.1 454.4,215.1 451.7,206.7" fill="#0000ff" fill-opacity="0.64" stroke="#585858" stroke-width="1.5"/>
<g font-family="Liberation Serif" fill="#000" stroke="#fff" stroke-width="0.35" stroke-opacity="0.8">
<text x="95.2" y="20.6" font-size="31" text-anchor="end" >70</text>
<text x="95.2" y="145" font-size="31" text-anchor="end" >60</text>
<text x="95.2" y="270.2" font-size="31" text-anchor="end" >50</text>
<text x="95.2" y="414.8" font-size="31" text-anchor="end" >20</text>
<text x="95.2" y="559.8" font-size="31" text-anchor="end" >15</text>
<text x="95.2" y="704.3" font-size="31" text-anchor="end" >10</text>
<text x="95.2" y="848.3" font-size="31" text-anchor="end" >5</text>
<text x="95.2" y="992.7" font-size="31" text-anchor="end" >0</text>
<text x="107.3" y="1023" font-size="31" text-anchor="middle" >0</text>
<text x="249.4" y="1023" font-size="31" text-anchor="middle" >10</text>
<text x="391.5" y="1023" font-size="31" text-anchor="middle" >20</text>
<text x="533.6" y="1023" font-size="31" text-anchor="middle" >30</text>
<text x="675.7" y="1023" font-size="31" text-anchor="middle" >40</text>
<text x="817.8" y="1023" font-size="31" text-anchor="middle" >50</text>
<text x="440.6" y="498.3" font-size="30.5" text-anchor="end" >0</text>
<text x="440.6" y="431.2" font-size="30.5" text-anchor="end" >1</text>
<text x="440.6" y="363.7" font-size="30.5" text-anchor="end" >2</text>
<text x="440.6" y="295.8" font-size="30.5" text-anchor="end" >3</text>
<text x="453.2" y="520" font-size="30.5" text-anchor="middle" >0</text>
<text x="521.9" y="520" font-size="30.5" text-anchor="middle" >10</text>
<text x="590.6" y="520" font-size="30.5" text-anchor="middle" >20</text>
<text x="659.3" y="520" font-size="30.5" text-anchor="middle" >30</text>
<text x="728" y="520" font-size="30.5" text-anchor="middle" >40</text>
<text x="796.7" y="520" font-size="30.5" text-anchor="middle" >50</text>
<text transform="translate(473.50,56.60) scale(1.0970,1)" font-size="31" >thermal,</text>
<text transform="translate(594.01,56.60) scale(1.2471,1)" font-size="31" font-style="italic">T</text>
<text transform="translate(613.94,60.90) scale(1.2556,1)" font-size="22" >0</text>
<text transform="translate(636.20,56.60) scale(1.5000,1)" font-size="31" >=</text>
<text transform="translate(660.40,56.60) scale(1.0000,1)" font-size="31" >41.13</text>
<text transform="translate(736.06,56.60) scale(1.0216,1)" font-size="31" >μK</text>
<text transform="translate(473.50,96.30) scale(1.0970,1)" font-size="31" >thermal,</text>
<text transform="translate(594.01,96.30) scale(1.2471,1)" font-size="31" font-style="italic">T</text>
<text transform="translate(613.94,100.60) scale(1.2556,1)" font-size="22" >0</text>
<text transform="translate(636.20,96.30) scale(1.5000,1)" font-size="31" >=</text>
<text transform="translate(660.38,96.30) scale(1.0216,1)" font-size="31" >4.0</text>
<text transform="translate(705.36,96.30) scale(1.0216,1)" font-size="31" >μK</text>
<text transform="translate(473.50,136.10) scale(1.0970,1)" font-size="31" >thermal,</text>
<text transform="translate(594.01,136.10) scale(1.2471,1)" font-size="31" font-style="italic">T</text>
<text transform="translate(613.94,140.40) scale(1.2556,1)" font-size="22" >0</text>
<text transform="translate(636.20,136.10) scale(1.5000,1)" font-size="31" >=</text>
<text transform="translate(660.77,136.10) scale(1.0114,1)" font-size="31" >1.3</text>
<text transform="translate(705.36,136.10) scale(1.0216,1)" font-size="31" >μK</text>
<text transform="translate(473.50,175.90) scale(1.0970,1)" font-size="31" >thermal,</text>
<text transform="translate(594.01,175.90) scale(1.2471,1)" font-size="31" font-style="italic">T</text>
<text transform="translate(613.94,180.20) scale(1.2556,1)" font-size="22" >0</text>
<text transform="translate(636.20,175.90) scale(1.5000,1)" font-size="31" >=</text>
<text transform="translate(660.89,175.90) scale(1.0091,1)" font-size="31" >310</text>
<text transform="translate(713.46,175.90) scale(1.0405,1)" font-size="31" >nK</text>
<text transform="translate(473.54,215.60) scale(1.0646,1)" font-size="31" >BEC,</text>
<text transform="translate(555.51,215.60) scale(1.2471,1)" font-size="31" font-style="italic">T</text>
<text transform="translate(575.44,219.90) scale(1.2556,1)" font-size="22" >0</text>
<text transform="translate(596.30,215.60) scale(1.5000,1)" font-size="31" >=</text>
<text transform="translate(622.63,215.60) scale(0.9714,1)" font-size="31" >41</text>
<text transform="translate(657.95,215.60) scale(1.0541,1)" font-size="31" >nK</text>
<text transform="translate(479.90,293.80) scale(1.0985,1)" font-size="31" >BEC,</text>
<text transform="translate(564.40,293.80) scale(1.2545,1)" font-size="31" font-style="italic">N</text>
<text transform="translate(589.88,298.20) scale(1.1250,1)" font-size="22" font-style="italic">c</text>
<text transform="translate(602.00,293.80) scale(1.6000,1)" font-size="31" >/</text>
<text transform="translate(616.80,293.80) scale(1.2136,1)" font-size="31" font-style="italic">N</text>
<text transform="translate(640.44,298.20) scale(1.1556,1)" font-size="22" >0</text>
<text transform="translate(662.80,293.80) scale(1.5000,1)" font-size="31" >=</text>
<text transform="translate(686.51,293.80) scale(0.9904,1)" font-size="31" >92.5</text>
<text transform="translate(749.13,293.80) scale(0.8708,1)" font-size="31" >%</text>
<text transform="translate(397.71,1071.50) scale(1.3875,1)" font-size="31" font-style="italic" font-weight="bold">t</text>
<text transform="translate(410.25,1076.40) scale(1.2526,1)" font-size="22" >hold</text>
<text transform="translate(475.07,1071.80) scale(0.6143,1)" font-size="31" >[</text>
<text transform="translate(481.14,1072.00) scale(1.0559,1)" font-size="31" >ms</text>
<text transform="translate(520.09,1071.80) scale(0.5143,1)" font-size="31" >]</text>
<g transform="translate(0,759) rotate(-90)">
<text transform="translate(-0.02,26.30) scale(1.2188,1)" font-size="31" font-style="italic" font-weight="bold">σ</text>
<text transform="translate(22.10,32.10) scale(1.4600,1)" font-size="22" font-style="italic" font-weight="bold">v</text>
<text transform="translate(38.20,33.10) scale(1.5750,1)" font-size="16" font-style="italic" font-weight="bold">x</text>
<text transform="translate(68.63,26.00) scale(0.5857,1)" font-size="31" >[</text>
<text transform="translate(74.54,25.90) scale(1.0617,1)" font-size="31" >mm</text>
<text transform="translate(130.99,25.90) scale(1.0100,1)" font-size="31" >s</text>
<text transform="translate(144.82,15.30) scale(1.4800,1)" font-size="22" >−</text>
<text transform="translate(164.33,15.30) scale(1.1857,1)" font-size="22" >1</text>
<text transform="translate(179.50,26.00) scale(0.6000,1)" font-size="31" >]</text>
</g>
</g>
</svg>
</body></html>
